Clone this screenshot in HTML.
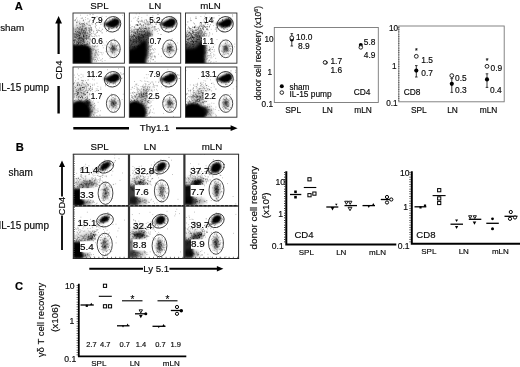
<!DOCTYPE html>
<html><head><meta charset="utf-8"><title>Figure</title>
<style>html,body{margin:0;padding:0;background:#fff;overflow:hidden}svg{display:block}</style>
</head><body>
<svg width="520" height="367" viewBox="0 0 520 367" font-family='"Liberation Sans", Arial, sans-serif'>
<defs>
<filter id="b1" x="-50%" y="-50%" width="200%" height="200%"><feGaussianBlur stdDeviation="0.8"/></filter>
<filter id="b1h" x="-50%" y="-50%" width="200%" height="200%"><feGaussianBlur stdDeviation="1.2"/></filter>
<filter id="b2" x="-50%" y="-50%" width="200%" height="200%"><feGaussianBlur stdDeviation="1.6"/></filter>
<filter id="b3" x="-50%" y="-50%" width="200%" height="200%"><feGaussianBlur stdDeviation="3"/></filter>
<filter id="b5" x="-50%" y="-50%" width="200%" height="200%"><feGaussianBlur stdDeviation="5"/></filter>
<filter id="soft" x="-5%" y="-5%" width="110%" height="110%"><feGaussianBlur stdDeviation="0.35"/></filter>
</defs>
<rect width="520" height="367" fill="#fff"/>
<text x="14.8" y="9.6" font-size="11.2" text-anchor="start" font-weight="bold" fill="#000" stroke="#000" stroke-width="0.16">A</text>
<text x="0.2" y="31" font-size="9.8" text-anchor="start" fill="#0a0a0a" stroke="#0a0a0a" stroke-width="0.16">sham</text>
<text x="-1.6" y="90.6" font-size="10" text-anchor="start" fill="#0a0a0a" stroke="#0a0a0a" stroke-width="0.16">IL-15 pump</text>
<text x="99.5" y="9" font-size="9.7" text-anchor="middle" fill="#0a0a0a" stroke="#0a0a0a" stroke-width="0.16">SPL</text>
<text x="155" y="9" font-size="9.7" text-anchor="middle" fill="#0a0a0a" stroke="#0a0a0a" stroke-width="0.16">LN</text>
<text x="210.5" y="9" font-size="9.7" text-anchor="middle" fill="#0a0a0a" stroke="#0a0a0a" stroke-width="0.16">mLN</text>
<path d="M58.6 54V22" stroke="#000" stroke-width="2.2" fill="none"/>
<path d="M58.6 16l-3.4 7.5h6.8z" fill="#000"/>
<text transform="translate(62.3 70) rotate(-90)" font-size="9.6" text-anchor="middle" fill="#0a0a0a" stroke="#0a0a0a" stroke-width="0.16">CD4</text>
<path d="M58.6 86V113.5" stroke="#000" stroke-width="2.4" fill="none"/>
<path d="M73.3 128.2H129" stroke="#000" stroke-width="2.5" fill="none"/>
<text x="154.6" y="130.9" font-size="9.7" text-anchor="middle" fill="#0a0a0a" stroke="#0a0a0a" stroke-width="0.16">Thy1.1</text>
<path d="M176 128.2H231.5" stroke="#000" stroke-width="1.9" fill="none"/>
<path d="M237.6 128.2l-7-2.9v5.8z" fill="#000"/>
<clipPath id="c1"><rect x="73.0" y="13.0" width="51.400000000000006" height="50.2"/></clipPath>
<g clip-path="url(#c1)">
<polygon points="69.0,67.2 69.0,44.6 86.5,44.6 91.3,48.2 91.8,67.2" fill="#000" fill-opacity="1.0" filter="url(#b1h)"/>
<ellipse cx="80.0" cy="36.2" rx="8" ry="11" transform="rotate(15 80.0 36.2)" fill="#000" fill-opacity="0.42" filter="url(#b3)"/>
<ellipse cx="91.0" cy="53.2" rx="4" ry="8" transform="rotate(0 91.0 53.2)" fill="#000" fill-opacity="0.3" filter="url(#b3)"/>
<polygon points="103.1,23.7 106.6,22.6 110.1,20.5 115.1,18.5 118.39999999999999,18.9 119.6,21.7 118.0,25.2 114.39999999999999,27.5 109.6,27.5 106.39999999999999,25.8" fill="#000" fill-opacity="1.0" filter="url(#b1)"/>
<ellipse cx="115.19999999999999" cy="22.8" rx="3.6" ry="2.9" transform="rotate(-22 115.19999999999999 22.8)" fill="#000" fill-opacity="1.0" filter="url(#b1)"/>
<ellipse cx="113.3" cy="48.3" rx="1.5" ry="2.0" transform="rotate(0 113.3 48.3)" fill="#000" fill-opacity="0.85" filter="url(#b1)"/>
<ellipse cx="113.3" cy="48.8" rx="3.6" ry="4.8" transform="rotate(0 113.3 48.8)" fill="#000" fill-opacity="0.36" filter="url(#b2)"/>
<path d="M89.3 20.6h0.8M105.8 16.6h0.8M100.0 31.4h0.8M75.9 38.5h0.8M74.9 34.8h0.8M76.5 17.6h0.8M94.4 54.5h0.8M79.2 24.2h0.8M104.6 60.6h0.8M102.1 32.9h0.8M122.2 15.3h0.8M116.3 27.5h0.8M98.0 22.5h0.8M86.5 33.4h0.8M99.4 30.7h0.8M89.9 25.8h0.8M85.8 35.2h0.8M78.6 54.4h0.8M85.1 17.5h0.8M91.2 30.8h0.8M91.1 36.0h0.8M73.4 40.3h0.8M95.0 24.0h0.8M78.0 43.3h0.8M101.1 30.9h0.8M98.0 51.5h0.8M78.9 32.3h0.8M92.6 37.1h0.8M89.4 35.8h0.8M74.9 39.5h0.8M83.8 41.2h0.8M84.7 35.1h0.8M88.0 45.0h0.8M95.2 26.1h0.8M89.2 25.5h0.8M89.9 40.7h0.8M96.1 25.4h0.8M86.3 37.1h0.8M74.4 42.1h0.8M82.4 41.1h0.8M87.5 37.1h0.8M85.7 44.6h0.8M81.1 31.7h0.8M82.7 20.8h0.8M80.6 38.1h0.8M91.9 30.1h0.8M85.5 28.7h0.8M95.8 46.8h0.8M91.3 56.7h0.8M81.1 38.2h0.8M92.0 42.4h0.8M94.3 38.7h0.8M102.7 52.9h0.8M88.7 36.3h0.8M94.9 33.9h0.8M93.4 18.1h0.8M90.7 28.6h0.8M102.9 47.8h0.8M84.8 33.2h0.8M78.3 30.9h0.8M84.0 43.0h0.8M86.6 35.6h0.8M88.8 43.1h0.8M89.2 31.9h0.8M90.5 31.0h0.8M83.6 51.7h0.8M85.3 25.6h0.8M96.0 33.0h0.8M81.1 54.8h0.8M92.6 40.6h0.8M86.9 33.1h0.8M78.3 49.7h0.8M84.9 32.8h0.8M89.1 34.2h0.8M89.6 29.3h0.8M76.1 18.7h0.8M85.7 42.4h0.8M94.8 26.3h0.8M92.2 48.1h0.8M86.8 42.4h0.8M99.3 28.0h0.8M92.4 24.1h0.8M87.3 33.7h0.8M92.0 43.5h0.8M101.6 19.3h0.8M83.8 41.7h0.8M80.0 43.8h0.8M89.2 30.5h0.8M83.2 20.7h0.8M85.0 19.7h0.8M78.1 34.0h0.8M86.7 43.7h0.8M84.8 31.7h0.8M97.4 45.1h0.8M87.7 38.0h0.8M96.9 31.7h0.8M87.2 60.4h0.8M87.6 38.6h0.8M96.5 36.1h0.8M79.1 28.2h0.8M91.5 42.8h0.8M77.1 20.2h0.8M82.0 33.0h0.8M86.4 27.7h0.8M77.4 36.1h0.8M82.6 30.2h0.8M89.5 41.0h0.8M102.9 43.2h0.8M78.0 35.5h0.8M75.2 61.2h0.8M80.2 38.2h0.8M84.0 22.3h0.8M89.5 32.9h0.8M73.1 45.7h0.8M86.9 15.3h0.8M93.2 33.2h0.8M91.7 36.5h0.8M95.2 27.6h0.8M91.0 28.1h0.8M88.0 25.6h0.8M92.9 49.2h0.8M88.8 32.0h0.8M73.5 34.2h0.8M91.7 41.7h0.8M91.7 37.4h0.8M91.8 45.9h0.8M80.5 32.7h0.8M93.2 31.7h0.8M81.2 32.0h0.8M86.8 41.2h0.8M83.3 24.2h0.8M90.1 34.7h0.8M81.7 45.7h0.8M82.3 33.8h0.8M98.1 41.9h0.8M82.6 41.7h0.8M89.6 57.2h0.8M87.5 46.7h0.8M84.6 44.4h0.8M84.9 41.1h0.8M82.3 30.4h0.8M103.1 26.1h0.8M77.0 49.3h0.8M77.8 51.9h0.8M82.1 38.9h0.8M96.4 30.4h0.8M98.5 35.6h0.8M83.5 45.6h0.8M92.8 38.0h0.8M96.3 36.9h0.8M89.5 38.3h0.8M101.6 16.3h0.8M83.6 37.0h0.8M90.9 27.8h0.8M91.4 23.9h0.8M85.7 29.9h0.8M84.1 29.1h0.8M78.5 50.9h0.8M85.9 29.5h0.8M92.0 42.0h0.8M77.9 38.7h0.8M92.6 36.9h0.8M73.9 20.3h0.8M97.2 32.2h0.8M84.8 33.0h0.8M86.1 30.7h0.8M74.7 34.0h0.8M78.6 33.1h0.8M79.8 45.4h0.8M78.8 46.2h0.8M79.7 42.5h0.8M97.6 30.6h0.8M80.5 38.9h0.8M79.4 21.0h0.8M82.0 39.2h0.8M82.7 37.9h0.8M95.2 37.9h0.8M95.7 35.7h0.8M83.7 36.4h0.8M82.5 34.0h0.8M76.8 22.6h0.8M83.3 36.5h0.8M78.3 39.4h0.8M89.3 31.6h0.8M76.2 21.9h0.8M105.6 51.5h0.8M88.7 30.5h0.8M80.2 15.2h0.8M94.3 34.3h0.8M83.5 30.5h0.8M88.8 28.5h0.8M85.4 30.2h0.8M91.0 40.2h0.8M79.0 38.9h0.8M91.5 33.6h0.8M104.6 45.1h0.8M99.6 43.3h0.8M96.9 37.4h0.8M78.0 32.4h0.8M88.8 24.1h0.8M114.1 39.0h0.8M77.4 32.6h0.8M84.4 28.3h0.8M95.9 28.7h0.8M83.4 50.3h0.8M82.5 39.5h0.8M84.5 32.8h0.8M85.4 28.3h0.8M86.1 35.7h0.8M90.9 33.6h0.8M76.6 33.2h0.8M92.2 37.1h0.8M84.3 34.4h0.8M93.4 31.1h0.8M94.4 36.4h0.8M93.5 44.4h0.8M79.9 35.0h0.8M76.1 32.6h0.8M106.0 41.9h0.8M88.7 39.5h0.8M98.8 36.2h0.8M89.7 19.9h0.8M83.1 41.6h0.8M97.7 29.6h0.8M77.7 36.3h0.8M77.0 31.5h0.8M94.9 23.6h0.8M95.9 52.0h0.8M96.7 32.5h0.8M83.1 41.2h0.8M101.4 32.8h0.8M96.3 30.3h0.8M96.1 52.8h0.8M88.3 53.8h0.8M95.0 50.2h0.8M92.8 59.7h0.8M102.0 58.6h0.8M95.3 43.3h0.8M101.7 54.7h0.8M93.9 46.4h0.8M93.8 46.5h0.8M94.3 57.5h0.8M94.1 56.2h0.8M91.4 41.5h0.8M93.2 48.9h0.8M90.0 51.7h0.8M95.2 45.9h0.8M96.7 53.1h0.8M94.5 53.4h0.8M93.8 59.3h0.8M93.6 37.4h0.8M93.9 48.0h0.8M96.6 49.9h0.8M89.8 46.3h0.8M88.4 37.4h0.8M86.5 56.8h0.8M91.4 41.1h0.8M88.1 58.5h0.8M90.9 51.6h0.8M101.8 61.4h0.8M94.6 55.5h0.8M92.8 57.4h0.8M95.1 54.6h0.8M92.0 44.9h0.8M91.9 43.4h0.8M98.9 58.0h0.8M97.6 40.8h0.8M101.4 59.9h0.8M102.3 45.6h0.8M96.1 57.2h0.8M94.8 55.4h0.8M98.2 43.7h0.8M89.0 44.4h0.8M91.8 50.0h0.8M95.5 56.1h0.8M94.1 49.5h0.8M92.2 60.9h0.8M97.1 54.9h0.8M91.6 58.7h0.8M98.6 52.3h0.8M97.3 46.4h0.8M98.1 55.6h0.8M87.7 58.9h0.8M90.4 63.2h0.8M91.3 53.0h0.8M95.1 51.9h0.8M95.0 50.3h0.8M96.7 54.2h0.8M94.8 34.9h0.8M98.6 54.4h0.8M86.9 54.9h0.8M95.9 61.7h0.8M93.4 59.0h0.8M92.5 46.4h0.8M98.4 60.5h0.8M100.2 60.2h0.8M91.7 42.6h0.8M91.4 49.5h0.8M90.7 58.3h0.8M95.3 52.3h0.8M94.7 53.2h0.8M94.9 59.5h0.8M97.8 49.4h0.8M94.5 61.9h0.8M87.4 51.9h0.8M94.1 44.1h0.8M91.9 59.3h0.8M90.5 44.4h0.8M96.1 60.8h0.8M94.8 45.1h0.8M97.1 59.7h0.8M96.2 50.8h0.8M95.2 59.7h0.8M91.8 41.3h0.8M95.3 57.6h0.8M94.1 60.4h0.8M91.7 53.6h0.8M92.8 58.2h0.8M100.4 52.4h0.8M97.2 58.3h0.8M101.1 52.9h0.8M93.6 46.8h0.8M112.0 45.8h0.8M117.9 45.6h0.8M117.9 51.3h0.8M117.1 45.1h0.8M116.4 54.3h0.8M113.0 48.3h0.8M119.7 49.5h0.8M112.2 46.4h0.8M114.5 50.1h0.8M113.8 55.3h0.8M112.4 50.6h0.8M117.1 45.0h0.8M116.0 55.8h0.8M109.8 44.6h0.8M110.6 41.8h0.8M114.5 41.7h0.8M114.6 54.3h0.8M109.1 47.6h0.8M108.3 51.8h0.8M111.4 47.8h0.8M113.4 50.9h0.8M112.4 48.9h0.8M111.9 49.2h0.8M110.3 49.0h0.8M108.3 46.9h0.8M118.3 49.1h0.8M110.0 49.8h0.8M110.8 42.5h0.8M111.4 51.6h0.8M114.3 48.4h0.8M110.9 44.7h0.8M116.8 49.7h0.8M110.8 40.8h0.8M109.7 58.2h0.8M110.3 48.5h0.8M113.8 48.2h0.8M112.6 43.6h0.8M110.6 55.2h0.8M111.3 52.0h0.8M108.9 47.8h0.8M114.0 52.7h0.8M110.4 51.1h0.8M114.3 46.0h0.8M114.5 45.4h0.8M111.2 48.7h0.8M106.2 48.4h0.8M110.7 43.2h0.8M112.2 51.7h0.8M112.2 53.6h0.8M110.3 43.8h0.8M117.3 50.3h0.8M115.8 45.7h0.8M115.4 49.8h0.8M115.0 48.9h0.8M116.4 46.3h0.8M110.8 43.2h0.8M116.3 46.0h0.8M110.6 45.2h0.8M112.1 44.0h0.8M112.5 46.4h0.8M111.9 45.2h0.8M113.4 47.0h0.8M113.6 49.7h0.8M114.2 40.5h0.8M111.9 45.8h0.8M115.3 42.8h0.8M111.4 47.7h0.8M112.4 52.6h0.8M112.1 52.5h0.8M109.5 41.9h0.8M116.5 50.5h0.8M114.6 49.3h0.8M114.6 44.2h0.8M115.8 46.8h0.8M115.9 49.1h0.8M108.2 43.9h0.8M116.2 48.3h0.8M112.3 49.7h0.8M112.2 46.7h0.8M113.6 49.3h0.8" stroke="#000" stroke-width="0.8" stroke-opacity="0.36" fill="none"/>
<path d="M80.9 40.1h0.8M80.4 47.5h0.8M78.1 28.8h0.8M78.3 34.7h0.8M83.1 39.3h0.8M79.6 27.2h0.8M74.1 46.0h0.8M74.7 37.1h0.8M85.9 23.9h0.8M77.2 47.6h0.8M81.3 28.9h0.8M83.0 36.4h0.8M81.7 45.5h0.8M87.5 41.6h0.8M83.7 25.1h0.8M85.0 31.8h0.8M80.3 24.5h0.8M75.6 30.1h0.8M92.2 20.5h0.8M87.0 43.5h0.8M83.8 30.4h0.8M86.0 39.3h0.8M80.4 40.4h0.8M87.8 44.1h0.8M81.7 41.8h0.8M84.3 42.3h0.8M89.1 21.8h0.8M76.6 44.8h0.8M83.5 35.8h0.8M80.4 42.4h0.8M78.0 46.3h0.8M77.1 31.6h0.8M86.0 38.1h0.8M89.5 34.6h0.8M79.8 33.4h0.8M90.5 29.5h0.8M90.3 27.1h0.8M74.0 40.5h0.8M84.5 45.4h0.8M81.7 38.0h0.8M79.5 41.4h0.8M78.3 38.3h0.8M83.3 37.1h0.8M83.1 42.3h0.8M90.9 42.1h0.8M78.4 32.3h0.8M77.8 44.2h0.8M77.2 39.0h0.8M96.6 16.8h0.8M81.8 38.9h0.8M76.0 41.2h0.8M82.9 32.1h0.8M93.3 43.1h0.8M77.0 34.5h0.8M78.8 35.3h0.8M88.6 27.6h0.8M77.4 44.4h0.8M81.5 50.5h0.8M76.6 41.1h0.8M92.6 14.6h0.8M89.7 25.3h0.8M87.4 24.3h0.8M78.2 46.9h0.8M78.7 37.6h0.8M84.3 38.7h0.8M75.9 49.4h0.8M86.8 35.3h0.8M98.6 30.5h0.8M85.9 35.3h0.8M79.1 42.5h0.8M79.8 42.1h0.8M74.7 20.7h0.8M85.8 28.8h0.8M77.5 21.8h0.8M85.6 44.7h0.8M90.7 30.3h0.8M82.7 26.3h0.8M80.7 51.2h0.8M86.1 36.2h0.8M80.8 30.8h0.8M81.4 40.4h0.8M91.1 29.7h0.8M83.1 50.9h0.8M88.8 36.9h0.8M73.3 43.9h0.8M80.4 37.5h0.8M88.9 36.1h0.8M83.3 31.4h0.8M78.0 43.4h0.8M77.4 47.9h0.8M77.2 45.1h0.8M84.9 52.5h0.8M74.1 42.8h0.8M79.0 35.7h0.8M76.0 37.3h0.8M90.3 39.4h0.8M80.7 45.7h0.8M81.8 24.9h0.8M74.3 44.7h0.8M84.0 44.7h0.8M78.2 43.2h0.8M83.7 26.2h0.8M86.7 32.7h0.8M76.6 28.1h0.8M80.8 18.3h0.8M84.8 34.9h0.8M82.8 32.7h0.8M82.8 43.9h0.8M83.1 40.1h0.8M86.2 44.0h0.8M87.5 18.8h0.8M82.1 49.0h0.8M79.4 31.7h0.8M95.3 23.9h0.8M77.1 58.0h0.8M73.0 40.8h0.8M91.2 38.1h0.8M81.2 44.9h0.8M75.0 34.0h0.8M79.8 43.8h0.8M80.3 34.4h0.8M74.9 31.5h0.8M84.9 38.5h0.8M77.0 27.6h0.8M92.8 50.3h0.8M89.7 14.6h0.8M82.5 41.3h0.8M88.8 42.5h0.8M78.4 40.6h0.8M83.5 30.6h0.8M83.5 54.0h0.8M73.4 28.2h0.8M81.3 38.2h0.8M80.0 27.1h0.8M89.9 48.5h0.8M76.2 22.7h0.8M87.6 47.4h0.8M88.7 46.1h0.8M74.3 37.1h0.8M78.4 40.7h0.8M76.1 34.0h0.8M81.8 40.2h0.8M83.2 39.0h0.8M76.3 42.6h0.8M82.2 29.1h0.8M76.4 35.2h0.8M79.0 37.4h0.8M79.6 37.7h0.8M82.2 25.1h0.8M80.0 46.0h0.8M83.0 35.2h0.8M84.8 28.5h0.8M81.0 23.7h0.8M74.4 39.5h0.8M82.5 38.5h0.8M87.0 44.6h0.8M78.5 41.4h0.8M87.3 47.2h0.8M88.5 28.4h0.8M77.4 42.3h0.8M75.8 45.0h0.8M81.3 45.0h0.8M87.7 36.3h0.8M74.5 58.9h0.8M76.0 43.3h0.8M85.7 37.8h0.8M79.5 46.6h0.8M84.5 37.6h0.8M83.7 42.2h0.8M81.1 37.0h0.8M77.0 41.8h0.8M75.4 29.1h0.8M83.4 23.5h0.8M82.2 18.1h0.8M74.7 40.1h0.8M83.4 36.6h0.8M82.0 23.5h0.8M89.4 43.5h0.8M88.4 30.2h0.8M83.2 20.1h0.8M82.3 45.5h0.8M87.8 21.9h0.8M79.6 23.0h0.8M79.6 38.4h0.8M82.0 43.3h0.8M86.0 48.7h0.8M73.6 29.8h0.8M76.4 25.2h0.8M79.5 36.1h0.8M86.5 23.2h0.8M79.6 33.2h0.8M81.4 29.5h0.8M83.2 40.4h0.8M81.1 30.2h0.8M74.2 35.0h0.8M84.1 24.5h0.8M79.3 33.1h0.8M81.2 42.2h0.8M81.8 28.7h0.8M79.3 35.4h0.8M83.6 39.9h0.8M79.0 23.3h0.8M79.6 29.2h0.8M73.8 33.5h0.8M76.9 36.4h0.8M84.0 33.4h0.8M94.2 37.0h0.8M86.1 39.0h0.8M92.0 17.3h0.8M75.1 37.2h0.8M78.0 57.4h0.8M78.9 47.8h0.8M82.2 45.6h0.8M83.3 35.6h0.8M85.5 27.6h0.8M89.2 29.2h0.8M76.5 55.0h0.8M78.7 36.0h0.8M86.7 38.2h0.8M74.7 37.2h0.8M81.7 43.3h0.8M89.6 38.9h0.8M82.6 32.9h0.8M89.8 32.3h0.8M85.0 33.1h0.8M74.3 41.4h0.8M87.8 38.2h0.8M74.2 42.2h0.8M79.0 38.8h0.8M86.2 48.4h0.8M78.2 43.0h0.8M76.4 34.8h0.8M90.7 27.8h0.8M75.1 19.8h0.8M87.9 34.0h0.8M80.4 33.4h0.8M81.8 26.6h0.8M83.5 23.7h0.8M78.9 38.8h0.8M83.2 34.9h0.8M74.4 36.2h0.8M73.5 49.1h0.8M84.7 36.4h0.8M78.9 29.4h0.8M75.4 31.7h0.8M80.5 41.1h0.8M78.4 55.3h0.8M75.9 35.2h0.8M100.5 24.3h0.8M76.6 36.9h0.8M79.9 40.0h0.8M77.8 39.0h0.8M78.5 43.0h0.8M82.4 27.2h0.8M74.8 40.7h0.8M83.6 40.0h0.8M83.2 36.1h0.8M83.9 32.3h0.8M77.7 42.6h0.8M73.4 40.4h0.8M116.7 26.6h0.8M115.9 24.0h0.8M112.5 24.6h0.8M108.4 29.3h0.8M110.0 21.5h0.8M108.9 22.9h0.8M118.0 25.1h0.8M108.5 28.9h0.8M116.1 20.6h0.8M105.9 24.5h0.8M110.9 25.9h0.8M109.1 18.9h0.8M112.2 19.2h0.8M115.4 18.8h0.8M109.1 22.8h0.8M112.4 28.4h0.8M117.4 23.9h0.8M112.6 19.0h0.8M110.2 23.3h0.8M109.6 27.0h0.8M109.1 23.2h0.8M106.2 20.1h0.8M117.2 26.3h0.8M112.6 20.8h0.8M101.9 29.3h0.8M118.6 22.3h0.8M118.8 26.1h0.8M117.3 20.5h0.8M118.5 24.0h0.8M106.1 25.6h0.8M107.0 26.2h0.8M114.2 19.8h0.8M106.0 31.2h0.8M116.5 27.1h0.8M108.8 29.2h0.8M112.5 24.9h0.8M113.7 26.8h0.8M117.6 22.1h0.8M108.3 28.4h0.8M111.9 26.4h0.8M116.2 27.8h0.8M117.3 20.4h0.8M116.7 28.0h0.8M111.4 26.0h0.8M119.6 25.0h0.8M113.7 19.2h0.8M108.1 26.8h0.8M117.8 30.1h0.8M110.9 28.5h0.8M114.3 17.8h0.8M109.9 25.8h0.8M110.8 24.3h0.8M114.1 20.7h0.8M114.3 21.2h0.8M111.5 26.3h0.8M111.0 25.7h0.8M119.9 20.9h0.8M113.4 26.1h0.8M112.9 27.5h0.8M108.5 27.9h0.8" stroke="#000" stroke-width="0.8" stroke-opacity="0.6" fill="none"/>
</g>
<text x="102.6" y="22.7" font-size="8.2" text-anchor="end" fill="#000" stroke="#000" stroke-width="0.16">7.9</text>
<rect x="90.8" y="36.7" width="12.6" height="8.2" fill="#fff"/>
<text x="102.8" y="43.6" font-size="8.2" text-anchor="end" fill="#000" stroke="#000" stroke-width="0.16">0.6</text>
<ellipse cx="112.6" cy="24.3" rx="8.3" ry="7.6" transform="rotate(-25 112.6 24.3)" fill="none" stroke="#222" stroke-width="0.8"/>
<ellipse cx="113.3" cy="48.8" rx="6.9" ry="8.9" transform="rotate(0 113.3 48.8)" fill="none" stroke="#222" stroke-width="0.8"/>
<rect x="73.0" y="13.0" width="51.4" height="50.2" fill="none" stroke="#2a2a2a" stroke-width="0.9"/>
<clipPath id="c2"><rect x="129.3" y="13.0" width="51.400000000000006" height="50.2"/></clipPath>
<g clip-path="url(#c2)">
<polygon points="125.30000000000001,67.2 125.30000000000001,50.2 135.3,47.2 143.3,40.2 146.8,40.2 147.3,53.2 145.8,67.2" fill="#000" fill-opacity="1.0" filter="url(#b2)"/>
<polygon points="125.30000000000001,51.2 125.30000000000001,44.2 137.3,37.7 148.3,30.700000000000003 151.3,32.7 149.60000000000002,45.2 147.3,58.2" fill="#000" fill-opacity="0.62" filter="url(#b2)"/>
<polygon points="125.30000000000001,46.2 125.30000000000001,36.2 138.3,31.200000000000003 149.3,25.200000000000003 150.3,34.2" fill="#000" fill-opacity="0.42" filter="url(#b3)"/>
<polygon points="159.4,23.7 162.9,22.6 166.4,20.5 171.4,18.5 174.70000000000002,18.9 175.9,21.7 174.3,25.2 170.70000000000002,27.5 165.9,27.5 162.70000000000002,25.8" fill="#000" fill-opacity="1.0" filter="url(#b1)"/>
<ellipse cx="171.5" cy="22.8" rx="3.6" ry="2.9" transform="rotate(-22 171.5 22.8)" fill="#000" fill-opacity="1.0" filter="url(#b1)"/>
<ellipse cx="169.60000000000002" cy="48.3" rx="1.5" ry="2.0" transform="rotate(0 169.60000000000002 48.3)" fill="#000" fill-opacity="0.85" filter="url(#b1)"/>
<ellipse cx="169.60000000000002" cy="48.8" rx="3.6" ry="4.8" transform="rotate(0 169.60000000000002 48.8)" fill="#000" fill-opacity="0.36" filter="url(#b2)"/>
<path d="M129.5 47.3h0.8M135.4 61.5h0.8M133.7 56.7h0.8M135.8 13.9h0.8M165.6 25.2h0.8M166.3 22.4h0.8M131.8 51.9h0.8M165.3 55.9h0.8M166.1 17.2h0.8M161.0 48.6h0.8M152.5 59.8h0.8M142.1 61.4h0.8M131.0 31.3h0.8M132.6 44.6h0.8M133.2 30.1h0.8M138.7 24.7h0.8M132.9 32.7h0.8M157.4 28.7h0.8M129.8 25.1h0.8M140.7 30.7h0.8M143.5 32.8h0.8M140.3 39.2h0.8M145.5 27.7h0.8M133.0 32.4h0.8M138.3 21.8h0.8M133.6 29.4h0.8M130.8 44.7h0.8M138.3 32.6h0.8M137.8 18.6h0.8M139.2 34.2h0.8M139.4 21.0h0.8M144.6 28.6h0.8M153.7 29.1h0.8M152.4 39.7h0.8M136.3 30.0h0.8M131.4 29.6h0.8M139.7 35.0h0.8M144.0 23.8h0.8M145.6 19.5h0.8M151.6 25.1h0.8M132.7 42.1h0.8M140.7 27.9h0.8M137.1 30.5h0.8M143.5 39.3h0.8M147.4 21.4h0.8M131.9 36.0h0.8M146.4 28.1h0.8M135.7 37.9h0.8M139.2 36.2h0.8M142.2 35.7h0.8M129.8 38.9h0.8M143.0 24.6h0.8M142.9 46.7h0.8M149.0 32.0h0.8M138.9 46.6h0.8M149.7 34.1h0.8M130.9 21.2h0.8M145.5 30.9h0.8M137.5 37.8h0.8M145.3 28.7h0.8M149.0 36.5h0.8M135.6 36.1h0.8M139.2 40.8h0.8M137.5 37.2h0.8M139.6 31.6h0.8M150.3 20.6h0.8M152.3 27.2h0.8M147.0 22.8h0.8M148.4 30.0h0.8M135.1 37.5h0.8M137.2 32.9h0.8M144.4 20.2h0.8M132.1 31.9h0.8M141.0 34.9h0.8M152.3 22.4h0.8M138.3 25.5h0.8M148.6 35.3h0.8M139.1 13.7h0.8M151.8 34.4h0.8M137.5 19.4h0.8M138.8 37.1h0.8M137.6 25.5h0.8M136.3 42.8h0.8M135.2 48.0h0.8M139.8 33.6h0.8M136.6 20.4h0.8M129.8 40.3h0.8M145.0 32.8h0.8M134.7 33.6h0.8M134.0 30.8h0.8M140.8 31.4h0.8M134.9 37.5h0.8M137.9 31.9h0.8M138.4 16.5h0.8M135.3 25.3h0.8M142.8 41.7h0.8M130.1 38.7h0.8M138.3 40.7h0.8M140.4 27.1h0.8M140.9 39.7h0.8M130.3 36.0h0.8M141.2 33.3h0.8M139.3 40.7h0.8M152.5 15.8h0.8M146.8 21.4h0.8M137.8 29.6h0.8M141.3 41.2h0.8M144.9 23.1h0.8M131.4 32.1h0.8M137.9 48.9h0.8M143.6 28.5h0.8M130.2 30.3h0.8M151.2 27.6h0.8M136.0 43.3h0.8M133.3 42.5h0.8M129.6 36.3h0.8M143.8 31.2h0.8M141.8 21.5h0.8M155.6 28.8h0.8M140.3 34.6h0.8M132.1 36.4h0.8M145.8 37.6h0.8M148.7 30.2h0.8M134.7 33.4h0.8M136.9 35.5h0.8M136.1 29.5h0.8M149.7 21.0h0.8M154.8 28.0h0.8M136.6 37.4h0.8M146.1 22.2h0.8M136.4 28.8h0.8M137.1 30.1h0.8M143.4 36.7h0.8M148.8 23.9h0.8M143.6 35.2h0.8M131.5 28.8h0.8M142.0 20.4h0.8M140.6 21.4h0.8M146.7 15.2h0.8M151.1 34.2h0.8M138.1 45.8h0.8M146.6 31.1h0.8M136.5 31.0h0.8M134.3 33.2h0.8M158.1 28.4h0.8M132.5 31.0h0.8M145.9 35.0h0.8M138.2 21.7h0.8M140.1 31.9h0.8M153.9 28.9h0.8M147.5 34.9h0.8M142.4 42.4h0.8M137.0 36.9h0.8M140.7 21.7h0.8M139.2 30.9h0.8M138.2 36.8h0.8M137.7 30.3h0.8M151.8 35.9h0.8M130.9 30.4h0.8M134.4 36.5h0.8M138.6 24.1h0.8M140.8 20.7h0.8M146.1 29.0h0.8M151.3 40.0h0.8M135.7 33.1h0.8M145.6 33.4h0.8M130.0 42.2h0.8M135.8 40.1h0.8M148.3 23.7h0.8M138.4 33.8h0.8M143.0 29.4h0.8M132.2 31.1h0.8M142.5 39.4h0.8M143.6 39.6h0.8M140.2 30.4h0.8M141.4 17.7h0.8M137.3 39.0h0.8M133.4 18.2h0.8M146.1 19.9h0.8M141.6 44.3h0.8M132.1 26.5h0.8M130.5 32.7h0.8M129.6 37.0h0.8M146.1 28.3h0.8M141.0 55.0h0.8M131.8 39.1h0.8M141.9 35.8h0.8M138.0 36.6h0.8M153.8 19.2h0.8M132.1 40.8h0.8M130.9 35.5h0.8M141.2 32.7h0.8M140.1 38.3h0.8M131.1 26.9h0.8M142.9 24.7h0.8M144.0 21.1h0.8M143.8 30.1h0.8M136.6 46.4h0.8M148.3 27.7h0.8M140.9 25.4h0.8M139.2 33.4h0.8M144.5 33.0h0.8M133.7 30.0h0.8M136.1 37.9h0.8M132.9 32.1h0.8M134.7 33.1h0.8M134.9 17.3h0.8M138.3 36.5h0.8M147.2 35.0h0.8M141.1 20.2h0.8M141.3 26.4h0.8M139.5 45.0h0.8M148.2 46.6h0.8M148.9 46.6h0.8M153.7 56.1h0.8M155.0 56.4h0.8M148.2 61.3h0.8M148.1 49.6h0.8M149.7 53.5h0.8M154.3 48.5h0.8M151.5 53.0h0.8M146.1 44.8h0.8M149.6 56.3h0.8M151.4 56.9h0.8M150.5 49.7h0.8M151.7 45.5h0.8M145.8 50.6h0.8M145.5 49.2h0.8M147.8 48.9h0.8M150.1 47.0h0.8M148.9 40.0h0.8M150.8 46.4h0.8M151.7 31.4h0.8M147.6 55.1h0.8M142.1 50.4h0.8M150.6 54.0h0.8M145.3 55.0h0.8M150.8 45.7h0.8M152.8 52.8h0.8M150.4 49.7h0.8M152.1 54.0h0.8M154.1 56.7h0.8M148.2 51.5h0.8M153.4 50.4h0.8M151.6 57.2h0.8M149.7 35.2h0.8M150.7 54.9h0.8M150.8 47.3h0.8M154.4 52.2h0.8M148.2 47.7h0.8M151.5 44.8h0.8M154.7 61.4h0.8M154.9 57.8h0.8M144.6 62.4h0.8M154.5 57.0h0.8M143.7 62.8h0.8M154.9 49.4h0.8M150.7 59.2h0.8M150.0 61.7h0.8M150.6 58.6h0.8M150.6 41.7h0.8M152.2 48.6h0.8M150.4 38.3h0.8M149.7 60.2h0.8M143.0 54.7h0.8M147.2 48.1h0.8M143.9 45.3h0.8M151.8 49.4h0.8M157.8 33.6h0.8M150.1 54.9h0.8M158.0 54.2h0.8M152.0 56.0h0.8M149.7 50.0h0.8M148.8 37.0h0.8M151.2 52.9h0.8M149.9 51.1h0.8M147.8 53.0h0.8M148.8 54.8h0.8M160.9 56.3h0.8M153.2 59.6h0.8M152.7 59.6h0.8M148.6 53.2h0.8M147.8 60.7h0.8M153.1 49.6h0.8M154.5 44.5h0.8M150.0 58.1h0.8M150.2 56.2h0.8M154.3 55.8h0.8M146.6 58.8h0.8M150.0 54.1h0.8M148.4 42.4h0.8M146.1 50.4h0.8M146.7 32.0h0.8M154.2 44.2h0.8M147.8 57.3h0.8M147.7 58.3h0.8M148.7 55.6h0.8M150.7 53.2h0.8M144.1 41.7h0.8M148.4 57.3h0.8M150.9 57.0h0.8M153.7 41.5h0.8M173.0 49.6h0.8M166.8 49.8h0.8M171.0 45.5h0.8M164.2 50.1h0.8M166.8 50.4h0.8M164.8 48.3h0.8M167.6 43.3h0.8M169.0 49.4h0.8M168.2 44.4h0.8M170.1 42.3h0.8M171.0 50.6h0.8M173.8 52.1h0.8M170.5 49.8h0.8M169.7 43.9h0.8M173.3 50.7h0.8M168.9 44.6h0.8M173.4 50.8h0.8M166.6 51.3h0.8M174.4 48.7h0.8M170.6 47.3h0.8M168.0 52.8h0.8M177.4 49.2h0.8M169.3 51.7h0.8M168.8 51.5h0.8M171.7 45.0h0.8M166.9 48.5h0.8M171.7 49.8h0.8M172.7 43.7h0.8M170.8 46.5h0.8M169.9 50.0h0.8M167.2 48.0h0.8M166.7 49.8h0.8M167.5 47.0h0.8M170.2 46.4h0.8M172.5 46.5h0.8M171.7 49.8h0.8M167.0 48.0h0.8M167.5 47.5h0.8M168.9 55.5h0.8M168.5 54.6h0.8M170.7 44.0h0.8M163.8 51.3h0.8M164.6 51.4h0.8M172.2 50.2h0.8M169.1 47.9h0.8M170.3 47.7h0.8M168.3 47.4h0.8M172.5 46.5h0.8M170.6 44.6h0.8M167.8 43.7h0.8M169.1 51.3h0.8M170.4 47.0h0.8M171.1 47.5h0.8M170.5 49.8h0.8M171.0 39.7h0.8M166.3 51.6h0.8M169.3 57.1h0.8M169.0 46.8h0.8M173.4 50.8h0.8M174.4 50.7h0.8M169.1 51.5h0.8M167.6 47.2h0.8M168.2 48.0h0.8M171.6 47.0h0.8M170.4 47.0h0.8M171.8 38.7h0.8M169.1 49.4h0.8M166.9 52.5h0.8M170.1 53.5h0.8M172.0 51.2h0.8M169.2 44.8h0.8M169.0 47.1h0.8M170.2 47.1h0.8M177.3 42.9h0.8M172.6 47.1h0.8M169.0 52.2h0.8M169.6 44.3h0.8M170.6 48.1h0.8M164.4 49.5h0.8M166.9 46.1h0.8" stroke="#000" stroke-width="0.8" stroke-opacity="0.36" fill="none"/>
<path d="M136.6 36.9h0.8M148.5 28.0h0.8M137.3 34.7h0.8M137.8 46.8h0.8M150.5 36.9h0.8M134.8 39.7h0.8M134.0 46.7h0.8M150.2 35.1h0.8M134.0 47.5h0.8M129.5 39.2h0.8M131.3 50.3h0.8M147.6 24.0h0.8M130.5 41.0h0.8M159.3 24.2h0.8M136.3 46.1h0.8M150.3 23.7h0.8M130.5 39.9h0.8M132.8 48.4h0.8M136.9 32.4h0.8M143.1 32.0h0.8M130.7 47.4h0.8M137.2 24.5h0.8M152.5 26.8h0.8M136.7 25.2h0.8M130.8 40.7h0.8M140.4 24.6h0.8M136.7 40.1h0.8M146.4 39.7h0.8M141.2 31.6h0.8M132.9 42.2h0.8M142.5 43.7h0.8M135.8 31.3h0.8M152.0 30.4h0.8M135.6 33.8h0.8M141.4 28.1h0.8M141.1 37.8h0.8M146.9 38.0h0.8M134.3 46.5h0.8M132.3 46.4h0.8M139.4 36.9h0.8M144.4 30.7h0.8M148.5 33.0h0.8M136.4 34.2h0.8M129.9 40.3h0.8M135.7 38.5h0.8M161.6 19.6h0.8M140.1 28.9h0.8M131.0 40.8h0.8M135.3 32.1h0.8M147.4 24.3h0.8M137.5 21.3h0.8M138.2 38.3h0.8M140.7 38.2h0.8M139.9 35.9h0.8M138.9 34.4h0.8M156.8 31.3h0.8M141.2 42.4h0.8M130.8 37.2h0.8M133.8 41.6h0.8M157.6 14.5h0.8M138.6 37.9h0.8M140.2 40.9h0.8M146.3 20.7h0.8M137.6 35.1h0.8M134.8 29.1h0.8M141.8 34.4h0.8M129.9 27.9h0.8M132.0 36.9h0.8M144.3 34.6h0.8M138.9 39.3h0.8M133.1 41.5h0.8M139.5 39.0h0.8M136.3 37.1h0.8M134.1 35.7h0.8M155.6 24.2h0.8M148.2 42.8h0.8M142.5 22.0h0.8M145.3 35.7h0.8M155.7 29.5h0.8M139.1 27.7h0.8M131.7 44.0h0.8M137.6 30.0h0.8M133.1 38.3h0.8M138.9 38.0h0.8M131.0 34.5h0.8M151.9 34.8h0.8M139.9 41.7h0.8M142.8 36.7h0.8M138.3 31.1h0.8M144.9 37.1h0.8M137.2 50.5h0.8M158.9 30.0h0.8M154.6 26.6h0.8M132.8 37.2h0.8M131.6 43.1h0.8M139.3 39.9h0.8M130.0 59.3h0.8M154.1 21.9h0.8M143.9 34.4h0.8M138.6 34.6h0.8M133.6 35.0h0.8M138.5 35.9h0.8M136.8 31.9h0.8M137.8 37.1h0.8M138.2 29.2h0.8M143.7 38.0h0.8M140.5 31.8h0.8M132.9 39.6h0.8M147.9 38.1h0.8M134.0 35.9h0.8M140.8 35.4h0.8M138.8 40.4h0.8M136.9 29.3h0.8M139.3 37.8h0.8M133.1 34.2h0.8M135.7 36.4h0.8M137.0 31.8h0.8M139.8 23.7h0.8M136.0 38.4h0.8M142.4 28.5h0.8M139.5 31.4h0.8M148.6 38.7h0.8M135.8 41.5h0.8M133.7 47.0h0.8M146.4 29.2h0.8M130.2 46.3h0.8M149.5 33.6h0.8M137.2 25.0h0.8M137.0 47.0h0.8M132.0 49.6h0.8M153.8 27.4h0.8M144.5 28.5h0.8M135.7 38.4h0.8M142.0 32.0h0.8M140.1 37.5h0.8M143.4 44.1h0.8M140.9 34.6h0.8M133.7 36.3h0.8M147.8 28.8h0.8M134.8 36.5h0.8M141.5 25.6h0.8M141.4 34.4h0.8M138.3 39.7h0.8M135.0 41.3h0.8M146.6 35.8h0.8M135.2 35.1h0.8M138.3 22.2h0.8M133.6 45.0h0.8M138.7 29.0h0.8M135.4 32.8h0.8M140.7 40.2h0.8M135.8 24.5h0.8M137.1 25.4h0.8M147.1 31.1h0.8M152.0 19.9h0.8M140.8 41.1h0.8M130.2 38.9h0.8M134.3 39.4h0.8M130.9 46.2h0.8M141.6 33.8h0.8M148.8 24.6h0.8M145.2 26.4h0.8M136.4 25.0h0.8M138.2 35.2h0.8M131.6 38.2h0.8M132.3 36.8h0.8M131.5 38.9h0.8M142.3 31.0h0.8M138.2 45.5h0.8M147.6 34.1h0.8M144.8 28.3h0.8M140.1 42.2h0.8M132.8 40.5h0.8M141.4 36.1h0.8M138.5 42.7h0.8M138.4 41.1h0.8M147.5 32.5h0.8M138.9 28.0h0.8M145.9 39.6h0.8M137.6 41.6h0.8M142.8 40.2h0.8M133.0 47.1h0.8M144.4 31.2h0.8M139.0 31.9h0.8M142.2 52.2h0.8M139.2 46.6h0.8M139.8 37.0h0.8M140.2 29.3h0.8M145.4 32.5h0.8M142.9 35.2h0.8M147.7 25.1h0.8M143.6 36.6h0.8M134.6 47.7h0.8M137.5 29.7h0.8M130.9 31.9h0.8M134.0 32.5h0.8M134.7 29.2h0.8M139.7 33.2h0.8M137.6 36.5h0.8M133.8 31.4h0.8M133.8 27.0h0.8M129.6 40.0h0.8M130.5 45.5h0.8M133.5 35.1h0.8M132.7 46.8h0.8M134.4 43.8h0.8M134.3 27.2h0.8M142.5 37.8h0.8M146.7 35.7h0.8M133.8 38.9h0.8M141.6 30.4h0.8M139.8 24.2h0.8M141.6 32.2h0.8M139.7 35.2h0.8M145.8 24.0h0.8M131.3 36.4h0.8M134.6 46.7h0.8M133.1 54.1h0.8M129.6 36.8h0.8M145.0 34.0h0.8M132.1 47.0h0.8M144.8 28.7h0.8M129.3 47.8h0.8M144.0 31.0h0.8M143.0 37.3h0.8M150.2 23.9h0.8M133.6 40.3h0.8M143.1 25.6h0.8M137.8 18.3h0.8M141.0 29.4h0.8M143.0 36.7h0.8M141.1 37.8h0.8M131.5 59.5h0.8M135.1 37.7h0.8M129.3 50.7h0.8M138.1 46.1h0.8M143.7 31.6h0.8M139.0 28.2h0.8M133.0 37.2h0.8M141.0 43.5h0.8M141.8 35.9h0.8M135.9 35.2h0.8M142.2 35.2h0.8M138.6 36.4h0.8M135.2 33.2h0.8M132.8 35.2h0.8M142.4 37.2h0.8M154.6 30.2h0.8M129.8 40.9h0.8M131.3 44.6h0.8M154.4 26.6h0.8M129.4 47.8h0.8M138.3 38.3h0.8M147.8 22.2h0.8M137.6 50.2h0.8M137.2 32.0h0.8M141.0 40.6h0.8M133.9 35.6h0.8M138.2 49.2h0.8M139.6 39.3h0.8M136.0 41.8h0.8M142.9 31.2h0.8M133.3 39.6h0.8M129.4 42.9h0.8M135.8 40.0h0.8M151.6 33.1h0.8M136.0 42.4h0.8M142.0 38.1h0.8M138.3 38.0h0.8M131.2 37.4h0.8M148.1 36.2h0.8M143.7 34.4h0.8M137.8 33.7h0.8M136.9 33.8h0.8M134.4 48.4h0.8M129.8 55.8h0.8M150.0 41.7h0.8M131.9 41.9h0.8M134.1 41.2h0.8M133.2 35.8h0.8M142.7 27.1h0.8M135.4 42.7h0.8M131.9 39.2h0.8M138.7 33.5h0.8M141.4 45.0h0.8M132.4 48.1h0.8M130.3 41.1h0.8M135.8 40.4h0.8M149.6 37.9h0.8M137.0 46.4h0.8M147.4 33.6h0.8M134.7 45.6h0.8M137.7 39.2h0.8M137.5 41.5h0.8M149.4 33.9h0.8M139.1 42.3h0.8M145.0 24.0h0.8M143.8 22.4h0.8M143.3 35.8h0.8M149.3 28.3h0.8M170.3 22.8h0.8M167.1 22.1h0.8M165.0 22.5h0.8M167.9 32.5h0.8M176.4 20.7h0.8M171.3 19.8h0.8M155.8 24.0h0.8M171.7 27.4h0.8M168.0 21.2h0.8M167.2 21.6h0.8M163.4 25.7h0.8M166.8 22.4h0.8M164.7 22.9h0.8M172.0 27.1h0.8M171.2 30.2h0.8M163.1 27.5h0.8M164.5 25.5h0.8M170.5 25.1h0.8M173.4 20.3h0.8M164.1 25.6h0.8M169.8 21.4h0.8M175.1 26.7h0.8M164.0 27.4h0.8M171.3 16.8h0.8M170.0 22.8h0.8M165.1 29.9h0.8M169.7 22.1h0.8M172.0 24.7h0.8M173.2 23.9h0.8M169.7 19.9h0.8M167.8 24.9h0.8M160.6 34.5h0.8M166.6 21.7h0.8M162.2 27.8h0.8M168.8 22.2h0.8M166.6 22.2h0.8M166.2 24.9h0.8M167.6 26.8h0.8M169.0 24.4h0.8M172.6 26.5h0.8M172.1 23.3h0.8M167.8 21.9h0.8M168.8 26.2h0.8M169.9 22.4h0.8M162.1 22.1h0.8M171.9 26.0h0.8M169.3 19.5h0.8M168.8 24.8h0.8M166.1 26.4h0.8M167.6 21.9h0.8M165.3 28.2h0.8M169.8 20.8h0.8M166.3 28.0h0.8M171.5 21.9h0.8M175.6 20.1h0.8M166.4 28.6h0.8M169.0 25.1h0.8M168.4 21.1h0.8M164.3 25.4h0.8M174.0 18.6h0.8" stroke="#000" stroke-width="0.8" stroke-opacity="0.6" fill="none"/>
</g>
<text x="160.6" y="22.7" font-size="8.2" text-anchor="end" fill="#000" stroke="#000" stroke-width="0.16">5.2</text>
<rect x="149.2" y="36.7" width="12.6" height="8.2" fill="#fff"/>
<text x="161.2" y="43.6" font-size="8.2" text-anchor="end" fill="#000" stroke="#000" stroke-width="0.16">0.7</text>
<ellipse cx="168.9" cy="24.3" rx="8.3" ry="7.6" transform="rotate(-25 168.9 24.3)" fill="none" stroke="#222" stroke-width="0.8"/>
<ellipse cx="169.60000000000002" cy="48.8" rx="6.9" ry="8.9" transform="rotate(0 169.60000000000002 48.8)" fill="none" stroke="#222" stroke-width="0.8"/>
<rect x="129.3" y="13.0" width="51.4" height="50.2" fill="none" stroke="#2a2a2a" stroke-width="0.9"/>
<clipPath id="c3"><rect x="185.5" y="13.0" width="51.400000000000006" height="50.2"/></clipPath>
<g clip-path="url(#c3)">
<polygon points="181.5,67.2 181.5,48.7 194.5,47.7 200.5,42.7 205.0,44.2 205.8,67.2" fill="#000" fill-opacity="1.0" filter="url(#b2)"/>
<polygon points="181.5,51.2 181.5,44.2 194.5,42.2 203.0,36.7 206.5,41.2 206.0,55.2" fill="#000" fill-opacity="0.62" filter="url(#b2)"/>
<polygon points="181.5,49.2 181.5,37.2 193.5,34.2 202.5,31.200000000000003 204.5,39.2" fill="#000" fill-opacity="0.42" filter="url(#b3)"/>
<polygon points="215.6,23.7 219.1,22.6 222.6,20.5 227.6,18.5 230.9,18.9 232.1,21.7 230.5,25.2 226.9,27.5 222.1,27.5 218.9,25.8" fill="#000" fill-opacity="1.0" filter="url(#b1)"/>
<ellipse cx="227.7" cy="22.8" rx="3.6" ry="2.9" transform="rotate(-22 227.7 22.8)" fill="#000" fill-opacity="1.0" filter="url(#b1)"/>
<ellipse cx="225.8" cy="48.3" rx="1.5" ry="2.0" transform="rotate(0 225.8 48.3)" fill="#000" fill-opacity="0.85" filter="url(#b1)"/>
<ellipse cx="225.8" cy="48.8" rx="3.6" ry="4.8" transform="rotate(0 225.8 48.8)" fill="#000" fill-opacity="0.36" filter="url(#b2)"/>
<path d="M190.0 20.0h0.8M199.2 57.8h0.8M228.1 24.4h0.8M232.1 14.6h0.8M215.7 61.6h0.8M202.9 60.4h0.8M218.6 15.5h0.8M202.3 35.6h0.8M198.0 50.3h0.8M194.5 52.5h0.8M200.5 16.5h0.8M213.7 17.8h0.8M210.8 29.3h0.8M196.5 43.6h0.8M192.6 43.6h0.8M198.2 28.7h0.8M186.4 51.9h0.8M200.6 31.2h0.8M200.7 47.6h0.8M200.6 28.4h0.8M202.6 35.0h0.8M186.4 24.8h0.8M198.2 37.2h0.8M207.0 24.5h0.8M199.5 35.8h0.8M203.4 22.2h0.8M195.2 35.8h0.8M196.0 32.5h0.8M193.8 37.8h0.8M204.6 31.2h0.8M204.3 21.7h0.8M200.6 43.7h0.8M197.9 34.0h0.8M196.5 40.5h0.8M186.8 30.7h0.8M192.0 31.3h0.8M198.9 25.7h0.8M194.4 31.2h0.8M194.1 27.6h0.8M196.0 18.4h0.8M188.3 32.1h0.8M199.5 29.1h0.8M196.6 28.2h0.8M189.5 32.6h0.8M198.2 33.2h0.8M201.3 26.1h0.8M196.6 34.7h0.8M209.8 21.1h0.8M216.3 31.2h0.8M192.4 46.5h0.8M209.2 32.6h0.8M198.9 38.2h0.8M190.6 36.1h0.8M203.0 42.3h0.8M197.4 39.6h0.8M191.7 29.1h0.8M199.4 35.0h0.8M192.2 41.3h0.8M195.0 30.5h0.8M195.8 34.3h0.8M192.0 37.2h0.8M198.9 31.9h0.8M190.3 37.7h0.8M200.5 37.9h0.8M197.7 32.7h0.8M193.2 42.5h0.8M200.9 22.8h0.8M200.7 30.5h0.8M188.1 26.8h0.8M195.0 29.2h0.8M201.0 23.3h0.8M197.7 36.1h0.8M195.5 27.4h0.8M201.4 30.7h0.8M199.4 23.9h0.8M192.3 31.5h0.8M189.5 40.1h0.8M204.2 37.8h0.8M193.9 37.4h0.8M202.4 25.0h0.8M195.6 33.5h0.8M203.6 26.6h0.8M188.1 27.3h0.8M200.9 38.5h0.8M209.4 33.2h0.8M203.4 20.0h0.8M195.4 25.3h0.8M196.7 27.8h0.8M202.2 38.8h0.8M195.9 29.7h0.8M196.2 34.2h0.8M191.7 37.7h0.8M206.2 37.3h0.8M189.4 46.0h0.8M213.4 18.0h0.8M200.7 38.3h0.8M188.5 34.1h0.8M194.3 27.9h0.8M202.7 25.8h0.8M209.1 43.8h0.8M195.5 41.0h0.8M194.2 45.1h0.8M202.3 27.5h0.8M209.3 34.9h0.8M204.7 24.1h0.8M199.2 39.3h0.8M200.7 32.9h0.8M216.4 29.9h0.8M198.9 33.3h0.8M195.4 30.3h0.8M197.8 35.9h0.8M186.7 50.9h0.8M199.2 27.0h0.8M199.9 24.9h0.8M213.4 22.8h0.8M196.1 32.8h0.8M196.7 38.7h0.8M207.2 17.8h0.8M189.3 43.5h0.8M195.4 18.5h0.8M201.0 32.1h0.8M190.0 18.1h0.8M198.5 28.1h0.8M213.2 25.6h0.8M189.0 35.6h0.8M189.1 31.3h0.8M199.6 37.6h0.8M208.9 27.2h0.8M203.2 26.0h0.8M189.3 33.1h0.8M205.0 19.5h0.8M200.3 37.9h0.8M198.6 27.9h0.8M196.9 27.0h0.8M189.4 28.9h0.8M200.6 32.5h0.8M199.4 36.0h0.8M199.0 30.3h0.8M190.8 42.0h0.8M206.1 28.6h0.8M201.4 22.6h0.8M193.1 46.0h0.8M191.4 38.3h0.8M193.2 34.6h0.8M190.0 32.2h0.8M190.3 54.6h0.8M187.1 22.0h0.8M206.2 37.8h0.8M196.1 38.6h0.8M193.2 22.9h0.8M195.6 16.6h0.8M188.7 35.1h0.8M204.2 25.6h0.8M189.9 29.9h0.8M195.4 32.8h0.8M206.2 35.5h0.8M200.0 28.5h0.8M200.7 42.4h0.8M195.9 31.8h0.8M214.8 29.4h0.8M198.1 28.9h0.8M194.8 42.8h0.8M195.6 41.1h0.8M189.3 38.9h0.8M198.1 31.3h0.8M197.9 33.6h0.8M201.7 43.3h0.8M189.4 29.3h0.8M189.9 37.7h0.8M200.5 22.6h0.8M199.4 30.5h0.8M187.6 30.7h0.8M190.1 30.5h0.8M190.3 20.7h0.8M206.2 29.7h0.8M205.6 37.0h0.8M191.1 20.6h0.8M196.9 35.1h0.8M200.0 33.0h0.8M190.3 34.7h0.8M188.2 33.6h0.8M199.0 39.0h0.8M207.7 24.3h0.8M199.4 36.4h0.8M200.2 35.9h0.8M188.4 32.5h0.8M200.2 33.7h0.8M187.7 21.9h0.8M192.4 27.3h0.8M196.6 45.1h0.8M206.3 27.0h0.8M197.3 32.3h0.8M190.0 36.8h0.8M204.3 16.3h0.8M190.4 38.3h0.8M204.8 31.6h0.8M186.9 38.8h0.8M187.0 28.7h0.8M192.9 30.3h0.8M203.1 29.4h0.8M189.2 38.7h0.8M189.0 32.3h0.8M195.8 41.8h0.8M192.6 42.3h0.8M205.3 13.9h0.8M190.4 33.9h0.8M186.2 44.4h0.8M195.4 34.9h0.8M209.5 17.3h0.8M204.0 32.3h0.8M187.2 34.3h0.8M209.0 26.7h0.8M209.0 46.8h0.8M211.5 57.8h0.8M211.2 56.0h0.8M208.7 50.5h0.8M209.6 55.9h0.8M210.7 61.6h0.8M209.6 50.5h0.8M205.7 57.1h0.8M210.4 57.9h0.8M210.2 53.6h0.8M214.4 44.7h0.8M199.9 57.2h0.8M206.2 50.7h0.8M203.1 56.6h0.8M208.3 50.5h0.8M213.5 62.2h0.8M207.1 58.7h0.8M208.4 62.1h0.8M210.5 54.0h0.8M210.4 49.3h0.8M207.3 58.0h0.8M202.8 60.6h0.8M211.5 47.3h0.8M214.4 55.0h0.8M202.6 44.9h0.8M211.5 52.4h0.8M212.3 43.7h0.8M208.2 60.8h0.8M206.2 58.8h0.8M207.3 56.5h0.8M204.3 59.5h0.8M213.0 46.6h0.8M212.1 34.0h0.8M207.7 42.6h0.8M209.5 49.3h0.8M206.6 48.5h0.8M209.5 51.0h0.8M205.4 52.7h0.8M209.9 48.4h0.8M212.3 42.9h0.8M209.9 51.6h0.8M213.9 49.8h0.8M206.2 45.1h0.8M215.3 58.4h0.8M204.8 51.9h0.8M209.9 40.4h0.8M209.2 60.4h0.8M208.5 57.4h0.8M208.1 55.6h0.8M209.2 49.4h0.8M209.7 55.3h0.8M208.4 49.6h0.8M205.1 55.9h0.8M211.3 37.8h0.8M211.6 49.4h0.8M213.1 47.5h0.8M207.0 52.7h0.8M202.9 47.3h0.8M204.5 53.3h0.8M202.3 61.4h0.8M207.3 50.1h0.8M206.3 59.3h0.8M213.7 51.4h0.8M213.1 56.2h0.8M203.4 58.8h0.8M207.1 55.5h0.8M202.1 52.3h0.8M209.3 47.8h0.8M209.3 49.5h0.8M216.6 39.5h0.8M205.4 57.0h0.8M206.5 38.6h0.8M209.4 59.9h0.8M210.2 62.3h0.8M203.3 54.2h0.8M213.0 54.2h0.8M209.1 49.9h0.8M212.2 49.5h0.8M208.9 40.1h0.8M208.7 55.7h0.8M229.2 46.5h0.8M223.5 49.3h0.8M223.1 52.2h0.8M226.3 45.9h0.8M224.0 51.5h0.8M222.1 55.2h0.8M223.8 48.1h0.8M223.4 54.9h0.8M227.9 53.7h0.8M227.5 49.1h0.8M230.2 51.3h0.8M226.9 51.0h0.8M227.7 49.9h0.8M225.4 42.8h0.8M231.1 43.9h0.8M220.2 46.1h0.8M230.8 53.4h0.8M224.2 49.8h0.8M225.7 41.3h0.8M224.9 49.9h0.8M228.8 44.2h0.8M220.0 42.8h0.8M226.7 49.1h0.8M226.2 49.4h0.8M224.8 43.6h0.8M227.0 50.3h0.8M227.3 53.5h0.8M222.6 39.9h0.8M221.2 56.9h0.8M223.4 50.3h0.8M225.8 51.6h0.8M234.1 46.8h0.8M225.4 46.5h0.8M226.4 50.8h0.8M223.3 53.8h0.8M228.8 50.5h0.8M225.5 47.9h0.8M221.5 51.3h0.8M223.3 46.9h0.8M228.4 45.3h0.8M224.4 52.1h0.8M230.6 46.2h0.8M228.7 46.3h0.8M226.8 50.6h0.8M222.8 52.7h0.8M230.5 49.0h0.8M226.5 44.3h0.8M230.4 49.0h0.8M222.5 51.7h0.8M222.0 46.2h0.8M220.3 54.0h0.8M231.5 46.4h0.8M224.1 46.6h0.8M224.3 50.9h0.8M229.6 45.0h0.8M226.9 41.9h0.8M229.8 48.5h0.8M224.0 54.6h0.8M225.5 54.0h0.8M228.6 55.1h0.8M223.7 49.0h0.8M226.8 48.1h0.8M229.8 46.1h0.8M228.4 54.0h0.8M220.7 45.1h0.8M223.5 46.7h0.8M226.8 48.1h0.8M226.0 47.1h0.8M225.6 50.6h0.8M227.7 45.8h0.8M225.5 45.9h0.8M225.3 43.3h0.8M228.3 51.4h0.8M225.5 46.2h0.8M224.6 46.3h0.8M221.8 55.0h0.8M234.4 44.1h0.8M222.8 51.0h0.8M227.4 42.8h0.8M220.8 50.9h0.8" stroke="#000" stroke-width="0.8" stroke-opacity="0.36" fill="none"/>
<path d="M202.2 32.1h0.8M204.2 34.2h0.8M202.7 36.5h0.8M192.2 44.6h0.8M189.7 38.2h0.8M208.2 39.0h0.8M192.8 50.1h0.8M196.1 30.3h0.8M196.5 37.9h0.8M194.8 34.7h0.8M201.6 36.0h0.8M201.3 38.3h0.8M187.0 43.8h0.8M198.9 39.8h0.8M196.2 39.2h0.8M201.1 44.9h0.8M210.2 24.7h0.8M200.5 43.0h0.8M198.6 37.9h0.8M200.7 33.0h0.8M187.7 42.8h0.8M194.8 35.3h0.8M188.0 40.8h0.8M191.8 37.4h0.8M198.3 43.0h0.8M195.3 36.3h0.8M193.1 32.9h0.8M192.8 31.9h0.8M194.1 37.2h0.8M198.7 31.0h0.8M191.9 41.2h0.8M199.3 43.9h0.8M190.1 37.8h0.8M193.0 41.7h0.8M197.2 39.3h0.8M192.6 55.1h0.8M205.2 27.4h0.8M186.2 45.8h0.8M189.0 27.8h0.8M188.8 32.8h0.8M200.9 40.5h0.8M195.3 26.8h0.8M205.3 33.4h0.8M192.8 42.1h0.8M202.2 28.2h0.8M191.6 36.3h0.8M194.0 23.8h0.8M199.5 26.5h0.8M194.2 27.0h0.8M185.5 41.5h0.8M193.6 27.6h0.8M195.3 32.4h0.8M200.5 29.9h0.8M196.1 34.8h0.8M203.9 26.5h0.8M199.7 45.4h0.8M196.2 40.2h0.8M189.4 43.2h0.8M188.1 50.5h0.8M191.4 30.3h0.8M202.9 25.2h0.8M191.9 41.2h0.8M192.5 46.7h0.8M194.5 27.0h0.8M201.4 31.3h0.8M196.9 35.5h0.8M192.9 32.2h0.8M193.1 42.5h0.8M190.8 50.9h0.8M187.5 39.8h0.8M199.4 35.7h0.8M187.9 36.3h0.8M204.3 35.4h0.8M207.1 29.2h0.8M198.1 39.0h0.8M198.8 31.8h0.8M202.7 43.9h0.8M189.7 46.5h0.8M200.1 30.1h0.8M197.7 34.1h0.8M193.7 34.5h0.8M193.3 38.3h0.8M208.0 39.6h0.8M196.6 41.7h0.8M202.8 34.8h0.8M195.6 30.1h0.8M187.9 54.1h0.8M198.2 27.8h0.8M204.0 33.1h0.8M190.9 48.1h0.8M186.7 39.5h0.8M197.9 29.9h0.8M188.4 56.7h0.8M207.6 30.0h0.8M186.1 37.0h0.8M198.5 26.9h0.8M192.6 37.2h0.8M193.5 41.5h0.8M204.9 23.8h0.8M202.5 37.2h0.8M191.2 39.3h0.8M188.3 49.8h0.8M188.0 38.9h0.8M191.2 34.7h0.8M185.8 43.2h0.8M202.4 28.8h0.8M192.2 29.9h0.8M186.8 56.0h0.8M186.0 35.0h0.8M194.8 41.0h0.8M192.2 33.4h0.8M201.7 37.0h0.8M195.0 34.1h0.8M191.2 36.2h0.8M193.7 40.1h0.8M194.7 43.4h0.8M208.5 21.2h0.8M198.4 39.2h0.8M196.9 33.6h0.8M193.6 44.6h0.8M199.2 36.4h0.8M190.4 45.1h0.8M198.0 32.9h0.8M204.7 42.2h0.8M193.7 41.5h0.8M190.1 33.7h0.8M190.9 35.1h0.8M189.5 53.3h0.8M187.6 42.5h0.8M188.1 39.3h0.8M192.8 36.9h0.8M193.7 30.3h0.8M190.2 53.9h0.8M195.5 41.4h0.8M202.9 33.3h0.8M188.7 32.4h0.8M186.3 51.1h0.8M199.7 36.3h0.8M191.2 33.6h0.8M201.7 26.7h0.8M192.7 44.6h0.8M192.7 33.0h0.8M205.1 40.3h0.8M199.8 37.1h0.8M201.2 34.1h0.8M188.8 47.4h0.8M198.0 47.0h0.8M190.4 28.6h0.8M203.4 37.5h0.8M189.8 33.6h0.8M200.7 23.1h0.8M186.8 31.8h0.8M204.4 36.1h0.8M186.5 35.7h0.8M194.3 39.9h0.8M195.1 41.3h0.8M195.5 39.4h0.8M192.5 33.0h0.8M191.5 37.6h0.8M194.1 32.6h0.8M203.0 29.8h0.8M199.0 37.4h0.8M201.6 33.6h0.8M207.2 29.0h0.8M198.7 36.6h0.8M187.1 39.5h0.8M193.1 46.2h0.8M201.7 42.5h0.8M202.9 42.1h0.8M192.6 31.2h0.8M206.0 29.2h0.8M202.0 32.0h0.8M191.9 40.7h0.8M186.0 41.5h0.8M202.2 43.8h0.8M205.4 27.1h0.8M198.6 32.2h0.8M196.0 35.8h0.8M190.2 41.7h0.8M188.0 36.0h0.8M193.0 42.4h0.8M190.6 44.0h0.8M202.4 40.5h0.8M186.0 44.2h0.8M201.8 40.7h0.8M197.7 39.4h0.8M203.5 27.3h0.8M205.3 22.7h0.8M186.4 34.0h0.8M198.6 35.4h0.8M207.4 26.8h0.8M187.2 34.5h0.8M196.1 42.2h0.8M202.4 38.3h0.8M199.1 32.9h0.8M198.1 35.2h0.8M190.4 52.4h0.8M192.5 32.1h0.8M197.0 37.0h0.8M204.9 37.6h0.8M200.5 25.6h0.8M196.9 37.5h0.8M197.3 39.8h0.8M209.0 26.2h0.8M200.2 31.3h0.8M189.5 35.2h0.8M192.4 27.2h0.8M194.6 38.0h0.8M199.8 41.2h0.8M193.2 39.1h0.8M194.0 27.4h0.8M191.8 40.2h0.8M197.2 29.5h0.8M200.1 34.8h0.8M197.3 39.6h0.8M197.1 31.3h0.8M203.3 34.8h0.8M198.2 37.1h0.8M186.2 47.2h0.8M191.6 40.8h0.8M192.0 37.3h0.8M187.5 44.9h0.8M199.0 43.0h0.8M187.3 36.7h0.8M208.4 36.2h0.8M190.8 39.2h0.8M204.7 47.8h0.8M197.7 41.1h0.8M190.4 28.8h0.8M196.7 36.0h0.8M204.5 26.5h0.8M195.8 36.6h0.8M202.1 45.9h0.8M200.3 41.9h0.8M200.1 28.2h0.8M196.8 32.7h0.8M194.8 38.1h0.8M192.1 36.3h0.8M203.0 27.9h0.8M203.8 40.2h0.8M201.1 38.2h0.8M206.4 33.9h0.8M200.2 22.6h0.8M206.7 26.5h0.8M196.0 37.0h0.8M187.4 42.1h0.8M193.1 39.1h0.8M192.7 37.4h0.8M194.0 27.0h0.8M190.6 41.7h0.8M189.0 38.6h0.8M191.3 41.6h0.8M201.2 30.0h0.8M192.9 41.1h0.8M194.0 35.2h0.8M191.8 44.0h0.8M191.9 35.8h0.8M193.2 37.7h0.8M197.2 36.4h0.8M186.1 36.4h0.8M185.7 44.3h0.8M188.3 47.9h0.8M186.3 32.8h0.8M201.1 24.7h0.8M192.3 37.6h0.8M207.6 40.1h0.8M185.6 49.1h0.8M196.2 41.4h0.8M192.5 44.0h0.8M201.5 35.1h0.8M202.6 28.8h0.8M201.5 26.3h0.8M195.5 18.0h0.8M190.9 35.1h0.8M197.0 42.0h0.8M198.6 34.2h0.8M199.9 22.5h0.8M193.1 48.7h0.8M188.8 28.5h0.8M191.8 31.7h0.8M216.6 27.7h0.8M232.3 16.0h0.8M215.7 27.7h0.8M223.2 24.2h0.8M218.8 22.5h0.8M221.3 27.8h0.8M226.4 26.1h0.8M221.9 27.3h0.8M223.9 24.8h0.8M229.5 22.2h0.8M222.2 20.0h0.8M226.8 25.8h0.8M222.9 24.8h0.8M216.7 23.5h0.8M228.8 26.5h0.8M222.3 19.9h0.8M222.2 20.3h0.8M226.8 29.5h0.8M226.6 22.8h0.8M229.4 20.9h0.8M227.2 23.7h0.8M225.7 19.0h0.8M229.6 24.9h0.8M213.0 20.7h0.8M223.7 29.5h0.8M226.5 25.6h0.8M228.9 25.2h0.8M222.3 23.4h0.8M227.9 24.7h0.8M228.4 23.7h0.8M224.9 27.7h0.8M228.8 25.8h0.8M216.3 31.2h0.8M215.8 28.9h0.8M223.0 25.3h0.8M223.3 23.8h0.8M226.8 24.4h0.8M219.3 18.4h0.8M223.0 26.7h0.8M222.6 26.5h0.8M222.9 21.9h0.8M232.4 26.1h0.8M225.1 23.9h0.8M228.0 18.4h0.8M223.3 28.5h0.8M228.7 20.8h0.8M222.8 26.2h0.8M219.2 25.0h0.8M221.7 17.6h0.8M229.0 24.8h0.8M228.3 17.9h0.8M219.3 24.0h0.8M222.7 31.8h0.8M221.2 24.8h0.8M227.0 24.7h0.8M230.3 18.2h0.8M229.4 22.6h0.8M220.9 26.4h0.8M221.7 30.8h0.8M223.8 27.9h0.8" stroke="#000" stroke-width="0.8" stroke-opacity="0.6" fill="none"/>
</g>
<text x="213.2" y="22.7" font-size="8.2" text-anchor="end" fill="#000" stroke="#000" stroke-width="0.16">14</text>
<rect x="202.0" y="36.7" width="12.6" height="8.2" fill="#fff"/>
<text x="214.0" y="43.6" font-size="8.2" text-anchor="end" fill="#000" stroke="#000" stroke-width="0.16">1.1</text>
<ellipse cx="225.1" cy="24.3" rx="8.3" ry="7.6" transform="rotate(-25 225.1 24.3)" fill="none" stroke="#222" stroke-width="0.8"/>
<ellipse cx="225.8" cy="48.8" rx="6.9" ry="8.9" transform="rotate(0 225.8 48.8)" fill="none" stroke="#222" stroke-width="0.8"/>
<rect x="185.5" y="13.0" width="51.4" height="50.2" fill="none" stroke="#2a2a2a" stroke-width="0.9"/>
<clipPath id="c4"><rect x="73.0" y="67.0" width="51.400000000000006" height="50.2"/></clipPath>
<g clip-path="url(#c4)">
<ellipse cx="79.5" cy="112.7" rx="11.3" ry="12.3" transform="rotate(0 79.5 112.7)" fill="#000" fill-opacity="1.0" filter="url(#b1h)"/>
<ellipse cx="87.5" cy="103.2" rx="3.2" ry="3.6" transform="rotate(-30 87.5 103.2)" fill="#000" fill-opacity="0.9" filter="url(#b1h)"/>
<ellipse cx="91.0" cy="110.2" rx="3.5" ry="6" transform="rotate(0 91.0 110.2)" fill="#000" fill-opacity="0.35" filter="url(#b2)"/>
<ellipse cx="80.0" cy="92.2" rx="7" ry="9" transform="rotate(10 80.0 92.2)" fill="#000" fill-opacity="0.2" filter="url(#b3)"/>
<polygon points="103.1,78.7 106.6,77.6 110.1,75.5 115.1,73.5 118.39999999999999,73.89999999999999 119.6,76.7 118.0,80.2 114.39999999999999,82.5 109.6,82.5 106.39999999999999,80.8" fill="#000" fill-opacity="1.0" filter="url(#b1)"/>
<ellipse cx="115.19999999999999" cy="77.8" rx="3.6" ry="2.9" transform="rotate(-22 115.19999999999999 77.8)" fill="#000" fill-opacity="1.0" filter="url(#b1)"/>
<ellipse cx="113.3" cy="103.0" rx="1.5" ry="2.0" transform="rotate(0 113.3 103.0)" fill="#000" fill-opacity="0.85" filter="url(#b1)"/>
<ellipse cx="113.3" cy="103.5" rx="3.6" ry="4.8" transform="rotate(0 113.3 103.5)" fill="#000" fill-opacity="0.36" filter="url(#b2)"/>
<path d="M93.2 114.7h0.8M96.8 73.0h0.8M110.8 74.3h0.8M107.2 69.7h0.8M122.8 94.2h0.8M110.3 73.6h0.8M105.1 85.9h0.8M85.6 107.9h0.8M74.7 91.0h0.8M77.4 109.7h0.8M118.0 68.7h0.8M96.4 90.5h0.8M75.1 80.8h0.8M96.8 90.8h0.8M83.7 86.8h0.8M83.8 94.1h0.8M81.2 104.3h0.8M79.7 104.0h0.8M88.9 115.5h0.8M83.5 91.7h0.8M96.8 94.9h0.8M87.8 79.6h0.8M97.7 102.3h0.8M81.7 87.4h0.8M78.9 102.8h0.8M86.2 90.5h0.8M79.7 108.3h0.8M90.5 88.6h0.8M92.2 79.1h0.8M87.6 80.3h0.8M93.8 85.0h0.8M91.9 84.3h0.8M90.5 99.8h0.8M77.5 94.5h0.8M80.3 100.7h0.8M78.3 89.7h0.8M86.1 101.6h0.8M76.1 93.8h0.8M79.8 87.5h0.8M77.6 92.0h0.8M80.7 77.6h0.8M82.1 80.5h0.8M91.1 110.4h0.8M76.5 93.3h0.8M85.1 100.2h0.8M74.9 77.4h0.8M89.2 99.5h0.8M82.0 98.3h0.8M80.0 105.1h0.8M81.4 85.7h0.8M90.7 105.5h0.8M73.8 83.0h0.8M84.7 94.3h0.8M83.4 93.3h0.8M92.0 85.5h0.8M83.7 84.8h0.8M83.4 95.3h0.8M82.7 76.7h0.8M77.0 94.4h0.8M86.4 101.3h0.8M73.9 75.1h0.8M87.8 74.2h0.8M77.9 97.2h0.8M83.7 115.1h0.8M87.4 95.1h0.8M87.5 111.1h0.8M85.9 83.7h0.8M88.2 73.5h0.8M80.5 95.2h0.8M82.1 82.7h0.8M100.4 99.3h0.8M78.1 96.9h0.8M77.9 89.3h0.8M91.8 89.6h0.8M83.5 92.4h0.8M78.9 104.7h0.8M82.4 104.3h0.8M79.2 88.6h0.8M95.8 88.8h0.8M77.5 88.4h0.8M94.3 105.4h0.8M87.4 86.2h0.8M73.5 88.6h0.8M83.9 93.6h0.8M83.0 103.8h0.8M74.6 87.8h0.8M89.2 93.9h0.8M84.0 100.4h0.8M78.4 108.9h0.8M106.4 101.7h0.8M91.0 107.5h0.8M88.5 102.3h0.8M83.1 93.4h0.8M82.6 75.0h0.8M87.7 106.3h0.8M91.9 91.5h0.8M89.7 102.4h0.8M80.7 74.3h0.8M76.0 91.3h0.8M83.7 87.0h0.8M88.3 105.6h0.8M92.9 93.7h0.8M84.3 91.7h0.8M87.5 92.3h0.8M81.0 99.8h0.8M77.7 93.1h0.8M77.8 82.5h0.8M88.3 89.0h0.8M75.0 93.7h0.8M78.1 107.1h0.8M94.0 106.6h0.8M81.9 98.7h0.8M74.1 86.7h0.8M84.6 94.9h0.8M90.1 86.4h0.8M95.2 96.3h0.8M76.9 92.1h0.8M82.4 108.1h0.8M82.6 100.2h0.8M90.1 86.6h0.8M81.4 95.4h0.8M74.3 82.7h0.8M77.8 96.7h0.8M90.8 105.5h0.8M78.9 104.1h0.8M89.6 90.4h0.8M93.9 84.0h0.8M76.8 83.8h0.8M79.4 94.0h0.8M93.0 100.1h0.8M79.8 85.8h0.8M80.2 88.5h0.8M79.3 89.1h0.8M77.3 93.1h0.8M79.7 91.2h0.8M74.1 96.2h0.8M90.3 95.1h0.8M76.4 83.1h0.8M78.3 90.3h0.8M81.1 100.1h0.8M96.6 83.2h0.8M80.8 88.7h0.8M82.0 90.3h0.8M99.1 75.4h0.8M80.8 84.9h0.8M85.1 85.9h0.8M85.0 80.6h0.8M100.4 87.2h0.8M77.0 82.8h0.8M85.7 85.7h0.8M87.8 84.6h0.8M91.2 90.0h0.8M87.1 91.6h0.8M80.2 89.2h0.8M89.5 95.9h0.8M87.8 111.0h0.8M93.1 77.1h0.8M91.9 87.7h0.8M83.3 84.0h0.8M93.8 79.9h0.8M81.2 85.4h0.8M102.2 96.4h0.8M85.4 86.6h0.8M78.1 83.2h0.8M82.6 81.4h0.8M97.5 108.9h0.8M86.6 105.8h0.8M84.7 84.6h0.8M78.5 84.1h0.8M87.0 96.7h0.8M90.1 86.4h0.8M74.9 93.8h0.8M97.3 89.0h0.8M77.2 74.1h0.8M82.4 96.9h0.8M81.1 105.0h0.8M77.2 85.5h0.8M79.4 92.0h0.8M89.7 83.8h0.8M92.5 102.6h0.8M80.2 106.6h0.8M90.4 93.2h0.8M75.7 86.0h0.8M79.8 101.5h0.8M88.9 99.5h0.8M97.5 86.5h0.8M89.5 107.3h0.8M73.0 91.0h0.8M80.1 89.1h0.8M82.5 83.9h0.8M88.5 76.8h0.8M75.4 99.9h0.8M94.2 108.1h0.8M94.9 112.9h0.8M90.0 109.0h0.8M90.5 111.4h0.8M93.9 116.4h0.8M93.5 115.5h0.8M88.3 107.7h0.8M85.3 108.9h0.8M100.0 110.7h0.8M92.3 110.8h0.8M92.5 101.5h0.8M89.6 108.2h0.8M92.6 104.2h0.8M91.6 104.9h0.8M87.5 105.4h0.8M89.2 114.2h0.8M96.6 112.6h0.8M91.3 106.0h0.8M86.6 106.1h0.8M97.4 116.0h0.8M92.8 107.8h0.8M92.0 111.7h0.8M92.0 111.7h0.8M89.3 109.5h0.8M90.8 115.5h0.8M87.7 116.8h0.8M91.7 106.3h0.8M92.1 110.0h0.8M91.2 111.7h0.8M90.0 99.3h0.8M94.4 109.1h0.8M97.7 111.5h0.8M85.1 116.5h0.8M89.6 112.4h0.8M99.6 115.6h0.8M88.2 108.7h0.8M86.5 113.2h0.8M93.9 103.2h0.8M93.6 114.7h0.8M94.8 105.3h0.8M89.6 102.7h0.8M87.6 111.1h0.8M92.1 116.9h0.8M92.9 107.4h0.8M92.6 109.1h0.8M88.5 103.1h0.8M94.2 103.6h0.8M94.0 112.9h0.8M90.7 99.8h0.8M89.2 101.9h0.8M95.7 110.1h0.8M89.9 116.4h0.8M91.0 111.9h0.8M90.6 104.9h0.8M92.8 104.2h0.8M85.9 106.1h0.8M96.2 115.7h0.8M99.5 115.0h0.8M97.5 110.7h0.8M90.5 112.0h0.8M114.9 104.2h0.8M115.8 102.6h0.8M111.1 105.2h0.8M111.9 97.6h0.8M111.8 100.4h0.8M110.5 101.6h0.8M115.7 112.1h0.8M117.7 102.1h0.8M116.2 103.3h0.8M114.3 101.1h0.8M113.1 97.5h0.8M117.9 100.8h0.8M114.8 101.4h0.8M114.0 99.3h0.8M112.3 106.9h0.8M114.8 96.5h0.8M115.5 98.8h0.8M114.0 105.4h0.8M111.7 102.4h0.8M112.7 105.0h0.8M115.6 108.5h0.8M114.1 110.8h0.8M110.9 110.0h0.8M112.6 106.3h0.8M113.0 103.9h0.8M111.0 105.0h0.8M118.5 104.1h0.8M113.2 103.6h0.8M115.1 102.8h0.8M113.3 104.3h0.8M116.6 107.0h0.8M110.6 101.3h0.8M113.4 106.6h0.8M115.8 102.8h0.8M118.7 103.0h0.8M116.9 108.7h0.8M117.4 104.3h0.8M114.8 98.0h0.8M108.8 101.4h0.8M115.1 107.4h0.8M113.0 107.3h0.8M114.8 109.1h0.8M109.2 100.6h0.8M110.9 99.8h0.8M117.5 100.2h0.8M111.2 102.1h0.8M115.6 101.9h0.8M115.2 105.5h0.8M111.7 95.0h0.8M111.0 99.1h0.8M117.5 101.0h0.8M110.6 104.9h0.8M113.4 100.2h0.8M116.1 106.9h0.8M114.0 100.8h0.8M111.1 96.2h0.8M114.3 105.0h0.8M111.0 103.7h0.8M121.7 99.5h0.8M109.0 105.8h0.8M112.2 101.8h0.8M114.9 103.1h0.8M115.8 105.4h0.8M116.3 104.0h0.8M107.8 108.5h0.8M109.0 107.3h0.8M113.9 98.5h0.8M113.5 106.7h0.8M110.7 103.7h0.8M111.4 99.9h0.8M111.7 108.2h0.8M115.0 103.4h0.8M113.1 104.0h0.8M114.0 104.2h0.8M108.9 106.9h0.8M111.1 94.1h0.8M115.1 99.2h0.8M112.9 103.2h0.8M111.8 105.5h0.8M112.6 102.5h0.8" stroke="#000" stroke-width="0.8" stroke-opacity="0.36" fill="none"/>
<path d="M81.3 80.4h0.8M81.6 97.3h0.8M82.8 89.7h0.8M82.2 102.2h0.8M78.5 96.9h0.8M87.7 90.5h0.8M83.0 87.5h0.8M85.1 90.9h0.8M88.8 88.4h0.8M91.4 92.5h0.8M77.3 85.2h0.8M86.1 87.1h0.8M89.9 105.2h0.8M86.0 82.5h0.8M81.9 87.5h0.8M94.8 91.3h0.8M84.0 104.2h0.8M75.8 89.5h0.8M81.9 97.2h0.8M73.9 93.7h0.8M79.0 100.6h0.8M78.5 90.2h0.8M86.1 89.0h0.8M98.2 90.5h0.8M84.5 102.1h0.8M87.0 92.6h0.8M76.5 90.3h0.8M84.8 94.8h0.8M83.6 98.3h0.8M77.1 84.9h0.8M90.2 90.9h0.8M77.4 85.0h0.8M88.3 85.3h0.8M74.4 100.5h0.8M77.8 114.5h0.8M81.7 93.8h0.8M77.5 90.8h0.8M78.1 92.5h0.8M87.3 84.0h0.8M78.5 75.7h0.8M90.0 94.2h0.8M81.0 92.7h0.8M86.5 96.8h0.8M86.3 92.8h0.8M80.4 92.6h0.8M73.1 83.7h0.8M84.9 94.3h0.8M83.4 107.5h0.8M90.1 106.0h0.8M76.8 109.1h0.8M75.9 91.6h0.8M87.2 92.6h0.8M80.8 90.3h0.8M92.5 75.2h0.8M87.0 102.9h0.8M79.8 97.5h0.8M73.7 100.9h0.8M100.4 89.1h0.8M89.3 94.2h0.8M79.7 89.0h0.8M81.6 83.1h0.8M80.1 97.5h0.8M82.2 97.3h0.8M73.3 84.1h0.8M83.4 101.7h0.8M75.0 87.5h0.8M73.8 97.2h0.8M83.0 93.8h0.8M76.7 95.2h0.8M82.2 87.4h0.8M83.9 88.3h0.8M85.8 99.1h0.8M76.1 97.1h0.8M82.4 87.7h0.8M77.9 79.1h0.8M73.8 94.8h0.8M89.0 89.5h0.8M81.5 96.1h0.8M85.0 97.5h0.8M87.2 100.5h0.8M75.9 95.5h0.8M80.3 97.8h0.8M78.1 99.4h0.8M90.0 88.0h0.8M77.4 94.7h0.8M83.7 94.8h0.8M87.6 84.8h0.8M84.0 103.2h0.8M87.0 97.7h0.8M79.0 96.1h0.8M82.8 80.6h0.8M77.5 92.3h0.8M79.2 85.3h0.8M80.1 90.0h0.8M81.5 92.9h0.8M80.6 101.2h0.8M81.2 96.5h0.8M77.9 68.7h0.8M77.7 98.1h0.8M79.9 87.9h0.8M77.5 94.6h0.8M86.9 98.6h0.8M94.4 94.5h0.8M85.7 99.7h0.8M77.1 92.9h0.8M79.1 84.5h0.8M83.8 87.4h0.8M92.0 89.1h0.8M77.7 93.4h0.8M77.9 93.1h0.8M110.1 82.5h0.8M111.6 80.3h0.8M109.4 80.0h0.8M116.9 76.4h0.8M110.7 80.8h0.8M116.5 76.7h0.8M106.4 76.8h0.8M108.9 84.1h0.8M113.3 80.3h0.8M117.9 77.6h0.8M114.5 76.6h0.8M107.2 83.5h0.8M113.4 80.5h0.8M108.6 80.4h0.8M120.4 72.9h0.8M115.1 82.1h0.8M112.3 79.6h0.8M105.3 84.8h0.8M112.8 83.1h0.8M112.3 78.0h0.8M114.6 77.4h0.8M112.8 83.9h0.8M117.3 77.3h0.8M117.4 79.5h0.8M115.6 77.9h0.8M113.9 79.8h0.8M115.9 78.7h0.8M110.8 79.6h0.8M113.8 75.4h0.8M114.0 80.9h0.8M113.5 77.8h0.8M112.5 77.6h0.8M116.7 76.0h0.8M104.8 78.7h0.8M114.6 78.8h0.8M109.6 76.2h0.8M111.5 76.9h0.8M110.4 80.0h0.8M110.3 81.1h0.8M109.5 79.0h0.8M113.9 83.1h0.8M120.7 78.4h0.8M110.1 80.2h0.8M117.8 79.3h0.8M106.4 81.7h0.8M111.0 82.2h0.8M115.1 76.3h0.8M121.6 74.2h0.8M123.0 73.9h0.8M115.0 84.0h0.8M110.4 78.6h0.8M119.1 76.0h0.8M113.6 74.7h0.8M121.6 78.1h0.8M115.4 80.0h0.8M110.5 78.5h0.8M107.1 82.7h0.8M119.2 78.8h0.8M117.7 79.0h0.8M107.8 77.1h0.8" stroke="#000" stroke-width="0.8" stroke-opacity="0.6" fill="none"/>
</g>
<text x="102.2" y="77.2" font-size="8.2" text-anchor="end" fill="#000" stroke="#000" stroke-width="0.16">11.2</text>
<rect x="90.2" y="91.60000000000001" width="12.6" height="8.2" fill="#fff"/>
<text x="102.2" y="98.5" font-size="8.2" text-anchor="end" fill="#000" stroke="#000" stroke-width="0.16">1.7</text>
<ellipse cx="112.6" cy="79.3" rx="8.3" ry="7.6" transform="rotate(-25 112.6 79.3)" fill="none" stroke="#222" stroke-width="0.8"/>
<ellipse cx="113.3" cy="103.5" rx="6.9" ry="8.9" transform="rotate(0 113.3 103.5)" fill="none" stroke="#222" stroke-width="0.8"/>
<rect x="73.0" y="67.0" width="51.4" height="50.2" fill="none" stroke="#2a2a2a" stroke-width="0.9"/>
<clipPath id="c5"><rect x="129.3" y="67.0" width="51.400000000000006" height="50.2"/></clipPath>
<g clip-path="url(#c5)">
<ellipse cx="134.8" cy="113.2" rx="11.2" ry="12.2" transform="rotate(0 134.8 113.2)" fill="#000" fill-opacity="1.0" filter="url(#b1h)"/>
<ellipse cx="142.8" cy="110.2" rx="4" ry="7" transform="rotate(10 142.8 110.2)" fill="#000" fill-opacity="0.55" filter="url(#b2)"/>
<ellipse cx="143.3" cy="97.2" rx="9" ry="4.2" transform="rotate(-45 143.3 97.2)" fill="#000" fill-opacity="0.4" filter="url(#b3)"/>
<polygon points="159.4,78.7 162.9,77.6 166.4,75.5 171.4,73.5 174.70000000000002,73.89999999999999 175.9,76.7 174.3,80.2 170.70000000000002,82.5 165.9,82.5 162.70000000000002,80.8" fill="#000" fill-opacity="1.0" filter="url(#b1)"/>
<ellipse cx="171.5" cy="77.8" rx="3.6" ry="2.9" transform="rotate(-22 171.5 77.8)" fill="#000" fill-opacity="1.0" filter="url(#b1)"/>
<ellipse cx="169.60000000000002" cy="103.0" rx="1.5" ry="2.0" transform="rotate(0 169.60000000000002 103.0)" fill="#000" fill-opacity="0.85" filter="url(#b1)"/>
<ellipse cx="169.60000000000002" cy="103.5" rx="3.6" ry="4.8" transform="rotate(0 169.60000000000002 103.5)" fill="#000" fill-opacity="0.36" filter="url(#b2)"/>
<path d="M156.6 85.9h0.8M154.1 87.3h0.8M134.4 103.7h0.8M169.6 97.0h0.8M135.1 97.1h0.8M173.2 116.5h0.8M167.5 69.3h0.8M173.6 100.4h0.8M143.2 113.2h0.8M170.9 111.9h0.8M141.8 96.0h0.8M148.4 81.9h0.8M138.4 106.0h0.8M147.2 86.3h0.8M141.3 92.2h0.8M140.9 91.3h0.8M132.1 98.3h0.8M137.6 88.6h0.8M150.5 97.7h0.8M138.3 95.1h0.8M138.2 89.5h0.8M140.1 93.4h0.8M145.6 100.3h0.8M135.6 86.0h0.8M131.3 105.9h0.8M135.5 92.8h0.8M129.3 100.7h0.8M137.0 90.9h0.8M141.2 99.3h0.8M148.1 90.4h0.8M133.8 88.5h0.8M151.7 94.6h0.8M154.0 89.9h0.8M143.8 93.0h0.8M145.0 98.7h0.8M146.6 104.1h0.8M144.7 86.8h0.8M134.1 86.3h0.8M133.9 96.7h0.8M154.8 73.8h0.8M147.2 87.6h0.8M140.6 97.8h0.8M129.6 110.2h0.8M155.4 81.9h0.8M140.5 94.3h0.8M143.2 86.8h0.8M143.1 94.6h0.8M139.3 97.1h0.8M145.5 94.1h0.8M131.1 97.3h0.8M141.8 101.1h0.8M135.7 84.5h0.8M138.6 109.8h0.8M137.8 85.5h0.8M134.3 99.7h0.8M156.8 90.9h0.8M136.5 94.3h0.8M150.4 76.5h0.8M152.9 84.5h0.8M145.9 98.1h0.8M140.6 86.5h0.8M129.4 103.2h0.8M149.3 95.7h0.8M150.6 95.7h0.8M146.9 88.9h0.8M145.0 92.1h0.8M135.3 96.8h0.8M139.5 90.4h0.8M146.0 92.1h0.8M136.6 87.5h0.8M144.9 86.0h0.8M131.4 113.4h0.8M138.2 112.5h0.8M142.5 87.8h0.8M156.2 89.4h0.8M135.6 84.2h0.8M136.5 94.5h0.8M143.2 89.7h0.8M136.5 84.0h0.8M141.2 103.6h0.8M133.4 106.6h0.8M159.5 81.0h0.8M135.1 107.6h0.8M142.1 101.2h0.8M149.5 86.4h0.8M157.0 85.8h0.8M133.1 92.1h0.8M156.5 75.5h0.8M142.8 90.0h0.8M130.7 89.4h0.8M138.8 93.6h0.8M145.4 84.6h0.8M141.0 94.5h0.8M144.1 86.8h0.8M144.8 90.3h0.8M152.3 82.0h0.8M143.5 94.7h0.8M145.5 81.3h0.8M135.8 95.1h0.8M130.0 112.6h0.8M148.1 86.3h0.8M169.5 76.8h0.8M161.0 86.8h0.8M141.4 81.2h0.8M153.0 85.0h0.8M131.9 101.2h0.8M149.6 92.5h0.8M139.5 89.8h0.8M142.9 85.0h0.8M142.7 97.0h0.8M131.4 104.2h0.8M131.1 100.8h0.8M145.3 88.3h0.8M147.3 87.7h0.8M140.7 96.6h0.8M139.1 95.3h0.8M145.6 84.0h0.8M144.3 81.0h0.8M132.0 87.2h0.8M142.6 103.5h0.8M147.8 96.3h0.8M146.9 93.7h0.8M139.9 80.6h0.8M143.7 89.6h0.8M143.0 94.5h0.8M131.7 87.7h0.8M130.3 101.2h0.8M147.0 81.6h0.8M130.3 93.2h0.8M135.9 95.3h0.8M135.2 101.5h0.8M133.7 103.4h0.8M138.6 100.9h0.8M135.6 100.9h0.8M143.2 90.0h0.8M152.8 83.3h0.8M136.6 102.0h0.8M132.2 96.2h0.8M141.1 93.9h0.8M145.9 74.6h0.8M142.8 99.7h0.8M140.4 95.6h0.8M146.6 78.0h0.8M143.7 96.3h0.8M133.8 100.5h0.8M148.8 99.9h0.8M143.9 77.9h0.8M151.4 90.4h0.8M151.4 82.0h0.8M136.8 97.5h0.8M153.9 85.8h0.8M155.6 85.5h0.8M132.1 92.7h0.8M147.8 74.6h0.8M136.5 94.1h0.8M131.5 96.7h0.8M149.6 103.4h0.8M137.8 91.4h0.8M144.8 96.4h0.8M132.8 96.8h0.8M130.4 107.6h0.8M151.1 95.2h0.8M140.1 110.4h0.8M145.6 86.3h0.8M136.3 94.4h0.8M134.5 104.4h0.8M133.1 94.0h0.8M144.5 90.3h0.8M135.2 96.0h0.8M142.0 102.2h0.8M144.7 83.5h0.8M145.3 99.4h0.8M145.1 102.8h0.8M146.1 93.2h0.8M145.0 93.5h0.8M145.8 92.3h0.8M140.1 100.4h0.8M136.7 88.3h0.8M133.6 100.5h0.8M134.2 81.5h0.8M129.4 111.2h0.8M151.3 105.6h0.8M142.1 108.8h0.8M145.3 113.4h0.8M143.1 112.0h0.8M147.9 113.8h0.8M147.1 110.1h0.8M146.4 104.0h0.8M149.8 112.2h0.8M144.3 108.5h0.8M147.3 115.2h0.8M146.7 115.6h0.8M148.9 100.0h0.8M145.0 98.4h0.8M146.3 107.8h0.8M149.3 111.2h0.8M149.3 103.0h0.8M144.9 112.1h0.8M153.1 109.0h0.8M146.7 111.7h0.8M150.0 109.7h0.8M148.3 107.7h0.8M145.4 105.6h0.8M149.6 107.0h0.8M149.2 112.6h0.8M150.6 94.6h0.8M144.0 103.1h0.8M146.7 114.9h0.8M151.9 112.4h0.8M146.0 113.3h0.8M139.9 115.6h0.8M147.3 113.8h0.8M143.8 103.8h0.8M145.1 109.9h0.8M148.5 108.1h0.8M148.5 114.2h0.8M143.3 109.6h0.8M142.0 107.0h0.8M150.4 106.0h0.8M153.7 113.1h0.8M150.3 110.8h0.8M150.3 116.6h0.8M147.7 107.1h0.8M146.7 107.5h0.8M144.9 100.4h0.8M145.6 112.1h0.8M145.6 105.8h0.8M148.7 112.9h0.8M145.8 112.0h0.8M144.0 115.2h0.8M143.9 108.2h0.8M147.8 107.8h0.8M152.5 100.0h0.8M147.7 102.8h0.8M148.4 102.6h0.8M149.3 113.3h0.8M145.7 115.7h0.8M145.7 109.5h0.8M145.6 99.9h0.8M149.4 98.3h0.8M146.5 113.3h0.8M147.7 101.0h0.8M169.2 97.7h0.8M168.9 99.3h0.8M167.5 104.2h0.8M172.4 104.6h0.8M168.4 101.9h0.8M173.0 97.5h0.8M172.5 97.9h0.8M168.0 103.7h0.8M169.0 109.7h0.8M170.9 103.3h0.8M172.0 103.6h0.8M167.6 107.7h0.8M173.4 108.2h0.8M166.6 110.6h0.8M168.5 106.3h0.8M172.6 112.3h0.8M165.5 99.7h0.8M172.6 105.3h0.8M168.8 92.6h0.8M170.7 102.8h0.8M163.0 113.4h0.8M163.2 101.4h0.8M169.6 104.4h0.8M171.5 102.5h0.8M167.3 102.2h0.8M164.2 99.4h0.8M174.6 101.0h0.8M169.4 110.5h0.8M172.3 104.0h0.8M171.5 102.5h0.8M167.3 107.2h0.8M169.9 109.4h0.8M168.9 102.1h0.8M170.5 102.8h0.8M168.8 100.2h0.8M170.2 104.7h0.8M174.3 103.4h0.8M165.1 105.2h0.8M175.4 101.9h0.8M167.6 102.9h0.8M162.3 102.3h0.8M169.1 97.9h0.8M171.1 100.2h0.8M164.9 100.8h0.8M171.2 110.6h0.8M172.8 104.2h0.8M168.3 102.5h0.8M172.1 101.6h0.8M170.7 107.1h0.8M167.3 101.3h0.8M170.7 103.5h0.8M169.3 101.5h0.8M169.4 110.4h0.8M173.1 97.5h0.8M169.7 103.8h0.8M169.7 98.4h0.8M169.3 104.1h0.8M167.9 104.7h0.8M163.4 97.9h0.8M169.9 105.0h0.8M169.2 101.8h0.8M170.1 107.5h0.8M171.9 103.2h0.8M168.4 107.5h0.8M171.0 106.8h0.8M168.9 100.3h0.8M170.1 101.2h0.8M172.5 106.7h0.8M164.0 106.0h0.8M173.0 107.4h0.8M168.4 100.3h0.8M172.1 107.3h0.8M169.8 99.2h0.8M165.7 104.5h0.8M167.5 101.0h0.8M170.7 107.4h0.8M164.3 101.0h0.8M172.9 103.3h0.8M168.7 105.9h0.8M166.7 99.0h0.8" stroke="#000" stroke-width="0.8" stroke-opacity="0.36" fill="none"/>
<path d="M137.9 93.7h0.8M140.9 104.8h0.8M146.3 90.0h0.8M145.7 90.1h0.8M142.6 96.8h0.8M135.2 106.0h0.8M131.8 93.0h0.8M134.4 100.6h0.8M134.0 100.2h0.8M130.9 95.4h0.8M146.5 93.5h0.8M142.0 96.1h0.8M141.0 97.2h0.8M131.2 100.2h0.8M144.5 100.5h0.8M147.0 101.3h0.8M133.0 105.1h0.8M141.2 105.0h0.8M149.3 87.4h0.8M144.7 93.5h0.8M135.5 103.5h0.8M139.7 108.2h0.8M147.8 98.1h0.8M136.7 89.7h0.8M146.0 94.0h0.8M151.6 97.2h0.8M137.8 106.0h0.8M142.7 95.9h0.8M141.2 101.2h0.8M146.3 96.8h0.8M135.5 96.9h0.8M152.2 94.4h0.8M138.1 101.3h0.8M141.1 89.0h0.8M150.6 102.0h0.8M140.9 94.8h0.8M152.7 86.9h0.8M141.3 95.9h0.8M137.5 92.3h0.8M130.2 101.4h0.8M146.1 92.9h0.8M142.2 86.3h0.8M141.9 105.5h0.8M131.9 97.6h0.8M136.2 101.4h0.8M144.8 101.8h0.8M152.9 95.0h0.8M143.2 93.6h0.8M134.5 97.0h0.8M151.8 94.5h0.8M139.4 95.3h0.8M146.4 95.8h0.8M139.0 94.2h0.8M141.1 95.3h0.8M147.0 95.7h0.8M142.6 94.6h0.8M151.9 91.8h0.8M150.6 93.4h0.8M146.1 95.6h0.8M130.4 99.2h0.8M137.8 105.1h0.8M146.9 93.6h0.8M146.8 102.7h0.8M134.3 95.6h0.8M131.8 105.9h0.8M147.2 96.3h0.8M142.3 101.6h0.8M139.1 96.5h0.8M141.2 102.4h0.8M143.6 89.9h0.8M136.1 104.0h0.8M149.9 83.2h0.8M135.5 106.3h0.8M142.5 93.7h0.8M142.5 99.7h0.8M131.6 107.8h0.8M147.1 97.4h0.8M147.6 91.5h0.8M136.9 109.8h0.8M143.9 92.2h0.8M149.9 95.3h0.8M134.1 92.6h0.8M136.7 98.7h0.8M136.4 102.6h0.8M136.4 105.3h0.8M148.6 84.5h0.8M145.6 91.0h0.8M144.0 94.8h0.8M146.5 89.2h0.8M143.3 92.0h0.8M142.5 96.9h0.8M143.1 87.9h0.8M137.6 109.5h0.8M148.0 100.7h0.8M136.2 104.5h0.8M149.4 99.6h0.8M139.8 97.3h0.8M145.0 94.0h0.8M139.2 104.4h0.8M147.5 89.3h0.8M140.5 101.0h0.8M148.9 93.4h0.8M134.4 102.0h0.8M146.8 92.1h0.8M140.2 104.1h0.8M153.5 97.8h0.8M133.4 102.2h0.8M138.4 103.0h0.8M141.7 103.9h0.8M137.0 101.0h0.8M145.0 95.6h0.8M139.8 107.9h0.8M143.2 93.7h0.8M139.5 94.0h0.8M133.7 104.2h0.8M143.6 96.5h0.8M133.3 98.7h0.8M136.4 111.8h0.8M141.2 94.0h0.8M149.3 93.1h0.8M137.4 98.8h0.8M148.5 92.8h0.8M151.3 90.2h0.8M136.5 99.8h0.8M138.1 102.8h0.8M144.3 98.4h0.8M140.9 92.9h0.8M137.6 96.8h0.8M140.4 92.0h0.8M135.8 99.1h0.8M137.2 100.9h0.8M148.9 89.2h0.8M132.6 105.3h0.8M146.9 95.6h0.8M148.0 102.3h0.8M147.7 92.3h0.8M144.4 87.9h0.8M138.0 96.8h0.8M146.7 101.6h0.8M142.9 105.3h0.8M167.5 81.8h0.8M175.8 81.0h0.8M162.5 83.3h0.8M168.3 81.7h0.8M162.3 81.5h0.8M171.5 75.8h0.8M166.7 76.8h0.8M172.4 73.2h0.8M165.3 79.6h0.8M170.6 85.0h0.8M169.5 76.1h0.8M172.2 78.7h0.8M170.5 78.1h0.8M169.9 74.8h0.8M164.0 79.9h0.8M165.7 82.7h0.8M178.8 78.5h0.8M171.6 78.9h0.8M165.0 76.6h0.8M169.9 73.9h0.8M170.5 77.9h0.8M172.5 77.6h0.8M169.1 77.1h0.8M161.9 81.0h0.8M173.5 80.3h0.8M173.9 73.6h0.8M166.4 82.4h0.8M170.6 86.5h0.8M168.9 74.2h0.8M169.0 84.0h0.8M162.1 82.5h0.8M165.6 85.6h0.8M166.3 76.9h0.8M161.5 80.0h0.8M158.3 82.2h0.8M178.5 75.1h0.8M166.9 76.2h0.8M170.2 76.9h0.8M167.6 84.0h0.8M170.2 75.6h0.8M175.4 75.9h0.8M171.6 78.3h0.8M175.0 78.3h0.8M168.8 81.4h0.8M168.0 79.9h0.8M174.9 73.0h0.8M164.7 79.6h0.8M168.9 83.2h0.8M165.6 87.8h0.8M175.4 74.7h0.8M169.7 77.5h0.8M172.9 79.3h0.8M173.4 79.5h0.8M177.1 74.8h0.8M172.1 77.0h0.8M169.8 79.3h0.8M169.6 79.8h0.8M165.7 79.9h0.8M165.5 76.8h0.8M165.9 78.8h0.8" stroke="#000" stroke-width="0.8" stroke-opacity="0.6" fill="none"/>
</g>
<text x="160.3" y="77.2" font-size="8.2" text-anchor="end" fill="#000" stroke="#000" stroke-width="0.16">7.9</text>
<rect x="147.6" y="91.60000000000001" width="12.6" height="8.2" fill="#fff"/>
<text x="159.6" y="98.5" font-size="8.2" text-anchor="end" fill="#000" stroke="#000" stroke-width="0.16">2.5</text>
<ellipse cx="168.9" cy="79.3" rx="8.3" ry="7.6" transform="rotate(-25 168.9 79.3)" fill="none" stroke="#222" stroke-width="0.8"/>
<ellipse cx="169.60000000000002" cy="103.5" rx="6.9" ry="8.9" transform="rotate(0 169.60000000000002 103.5)" fill="none" stroke="#222" stroke-width="0.8"/>
<rect x="129.3" y="67.0" width="51.4" height="50.2" fill="none" stroke="#2a2a2a" stroke-width="0.9"/>
<clipPath id="c6"><rect x="185.5" y="67.0" width="51.400000000000006" height="50.2"/></clipPath>
<g clip-path="url(#c6)">
<ellipse cx="193.0" cy="114.2" rx="12.6" ry="11.2" transform="rotate(0 193.0 114.2)" fill="#000" fill-opacity="1.0" filter="url(#b1h)"/>
<ellipse cx="204.0" cy="111.2" rx="4" ry="5" transform="rotate(0 204.0 111.2)" fill="#000" fill-opacity="0.85" filter="url(#b1h)"/>
<ellipse cx="208.5" cy="112.2" rx="4" ry="5" transform="rotate(0 208.5 112.2)" fill="#000" fill-opacity="0.3" filter="url(#b2)"/>
<ellipse cx="199.5" cy="98.2" rx="9" ry="4.2" transform="rotate(-42 199.5 98.2)" fill="#000" fill-opacity="0.36" filter="url(#b3)"/>
<polygon points="215.6,78.7 219.1,77.6 222.6,75.5 227.6,73.5 230.9,73.89999999999999 232.1,76.7 230.5,80.2 226.9,82.5 222.1,82.5 218.9,80.8" fill="#000" fill-opacity="1.0" filter="url(#b1)"/>
<ellipse cx="227.7" cy="77.8" rx="3.6" ry="2.9" transform="rotate(-22 227.7 77.8)" fill="#000" fill-opacity="1.0" filter="url(#b1)"/>
<ellipse cx="225.8" cy="103.0" rx="1.5" ry="2.0" transform="rotate(0 225.8 103.0)" fill="#000" fill-opacity="0.85" filter="url(#b1)"/>
<ellipse cx="225.8" cy="103.5" rx="3.6" ry="4.8" transform="rotate(0 225.8 103.5)" fill="#000" fill-opacity="0.36" filter="url(#b2)"/>
<path d="M198.0 101.7h0.8M235.9 86.7h0.8M232.8 88.9h0.8M218.4 110.5h0.8M195.7 84.3h0.8M235.1 70.3h0.8M200.9 90.9h0.8M223.0 98.7h0.8M232.4 100.6h0.8M185.6 70.6h0.8M187.3 88.7h0.8M186.9 93.4h0.8M188.3 99.6h0.8M198.0 94.0h0.8M198.6 99.6h0.8M196.9 105.5h0.8M200.7 90.9h0.8M202.1 96.8h0.8M192.6 102.0h0.8M203.7 86.4h0.8M186.0 94.8h0.8M196.7 87.8h0.8M217.4 81.0h0.8M185.5 101.2h0.8M210.7 87.6h0.8M192.7 105.4h0.8M201.3 107.3h0.8M194.6 100.4h0.8M199.1 88.6h0.8M199.8 100.4h0.8M200.0 90.8h0.8M206.5 99.3h0.8M205.4 90.4h0.8M193.0 85.0h0.8M195.7 91.1h0.8M199.7 86.8h0.8M195.9 86.6h0.8M200.5 85.2h0.8M198.5 97.0h0.8M194.1 96.3h0.8M211.3 95.5h0.8M205.2 94.2h0.8M193.3 97.6h0.8M203.7 105.8h0.8M190.5 90.1h0.8M204.9 84.2h0.8M213.7 84.7h0.8M201.9 94.7h0.8M206.0 93.4h0.8M187.0 97.9h0.8M192.8 98.2h0.8M189.9 90.2h0.8M198.1 106.7h0.8M209.3 76.8h0.8M199.2 91.6h0.8M192.8 102.8h0.8M202.3 102.2h0.8M198.8 89.9h0.8M200.2 85.6h0.8M205.8 91.7h0.8M201.8 95.6h0.8M197.6 93.1h0.8M192.8 95.1h0.8M192.5 89.4h0.8M200.1 88.6h0.8M198.5 88.6h0.8M200.1 92.2h0.8M205.0 90.6h0.8M202.9 87.5h0.8M195.1 93.4h0.8M186.5 101.6h0.8M207.7 90.8h0.8M191.2 101.0h0.8M197.0 83.3h0.8M200.4 93.5h0.8M203.1 90.6h0.8M210.0 79.8h0.8M210.9 91.9h0.8M192.8 88.5h0.8M206.7 85.3h0.8M202.3 93.1h0.8M207.6 92.7h0.8M197.6 93.3h0.8M201.9 88.6h0.8M202.8 104.5h0.8M211.3 90.7h0.8M201.4 84.0h0.8M195.6 94.4h0.8M193.1 87.7h0.8M202.4 92.9h0.8M193.4 94.2h0.8M202.9 92.5h0.8M194.6 86.3h0.8M192.0 113.8h0.8M190.2 96.7h0.8M194.0 102.5h0.8M191.5 94.6h0.8M189.0 97.1h0.8M185.6 105.4h0.8M206.1 87.3h0.8M197.2 103.3h0.8M196.3 86.4h0.8M189.8 95.1h0.8M200.8 100.0h0.8M190.6 98.0h0.8M192.8 88.1h0.8M195.2 100.0h0.8M198.0 78.5h0.8M200.7 88.4h0.8M208.6 88.8h0.8M212.6 83.1h0.8M190.4 93.0h0.8M187.8 105.8h0.8M203.5 94.6h0.8M193.5 85.2h0.8M192.5 95.7h0.8M200.6 96.6h0.8M208.3 86.5h0.8M188.3 102.9h0.8M199.1 100.6h0.8M202.9 85.3h0.8M203.7 88.3h0.8M205.1 97.4h0.8M187.6 101.2h0.8M205.3 81.0h0.8M198.6 93.4h0.8M188.4 90.9h0.8M187.6 94.1h0.8M205.6 88.5h0.8M197.3 84.4h0.8M200.8 91.7h0.8M201.7 84.3h0.8M207.8 95.2h0.8M206.6 78.6h0.8M206.0 90.8h0.8M195.8 88.1h0.8M212.1 93.5h0.8M195.8 93.9h0.8M207.4 88.9h0.8M205.2 83.8h0.8M197.8 90.5h0.8M191.1 96.5h0.8M196.3 98.3h0.8M194.5 96.4h0.8M185.8 93.8h0.8M203.6 80.7h0.8M213.8 86.9h0.8M193.4 96.9h0.8M192.9 92.6h0.8M205.5 85.7h0.8M201.2 85.0h0.8M196.3 104.6h0.8M190.2 91.0h0.8M199.2 100.0h0.8M192.6 92.0h0.8M205.0 94.6h0.8M193.7 94.1h0.8M203.9 108.7h0.8M201.7 103.2h0.8M196.9 97.0h0.8M195.7 92.4h0.8M188.3 90.7h0.8M185.9 104.4h0.8M191.3 97.8h0.8M193.2 93.1h0.8M198.0 107.2h0.8M186.2 98.9h0.8M189.9 90.9h0.8M192.5 104.2h0.8M204.1 88.9h0.8M224.2 77.3h0.8M202.8 82.7h0.8M211.1 94.9h0.8M200.5 104.7h0.8M186.1 94.2h0.8M193.1 90.9h0.8M197.2 85.2h0.8M189.8 84.9h0.8M200.2 99.1h0.8M195.7 97.3h0.8M200.6 82.3h0.8M187.2 102.6h0.8M209.5 109.9h0.8M205.2 117.1h0.8M204.5 109.9h0.8M208.4 114.7h0.8M207.0 107.2h0.8M215.5 107.1h0.8M211.3 110.5h0.8M206.9 111.0h0.8M207.6 112.7h0.8M199.7 111.1h0.8M208.8 106.5h0.8M214.9 114.3h0.8M209.3 109.7h0.8M213.3 109.0h0.8M205.7 114.6h0.8M205.2 107.3h0.8M213.5 103.4h0.8M208.3 111.8h0.8M209.4 104.1h0.8M207.7 109.6h0.8M215.2 116.1h0.8M205.9 115.5h0.8M210.8 110.7h0.8M207.7 109.9h0.8M203.2 108.1h0.8M214.9 109.4h0.8M210.6 99.5h0.8M207.6 105.0h0.8M211.4 103.1h0.8M204.9 105.8h0.8M209.9 115.3h0.8M209.1 107.1h0.8M209.7 111.1h0.8M211.4 112.9h0.8M216.1 116.9h0.8M206.3 115.0h0.8M211.1 106.3h0.8M205.9 107.3h0.8M200.0 114.3h0.8M206.6 111.6h0.8M211.0 115.9h0.8M209.6 106.1h0.8M216.1 115.4h0.8M213.4 113.2h0.8M210.2 114.3h0.8M203.3 115.2h0.8M205.2 113.3h0.8M205.0 114.7h0.8M209.2 113.7h0.8M205.4 109.8h0.8M208.3 109.8h0.8M207.0 106.9h0.8M211.2 109.3h0.8M205.7 113.0h0.8M205.7 110.4h0.8M206.8 106.7h0.8M207.7 107.2h0.8M204.2 112.9h0.8M207.5 104.1h0.8M207.2 112.1h0.8M226.6 109.3h0.8M227.6 108.7h0.8M222.8 99.5h0.8M227.9 102.5h0.8M224.7 100.0h0.8M229.6 99.1h0.8M226.1 98.4h0.8M225.4 111.8h0.8M232.0 101.7h0.8M223.3 109.5h0.8M223.6 96.9h0.8M226.7 99.5h0.8M222.1 107.6h0.8M224.0 99.6h0.8M226.3 102.8h0.8M228.7 103.9h0.8M229.9 107.7h0.8M230.4 107.6h0.8M226.0 105.5h0.8M225.9 97.8h0.8M222.8 106.2h0.8M219.8 100.5h0.8M222.6 103.3h0.8M223.2 104.4h0.8M225.3 101.8h0.8M223.7 95.3h0.8M226.0 98.8h0.8M225.1 104.9h0.8M228.5 106.1h0.8M229.6 98.3h0.8M227.6 109.3h0.8M226.8 99.4h0.8M226.9 101.6h0.8M224.2 107.4h0.8M225.4 99.4h0.8M224.1 110.7h0.8M223.7 106.0h0.8M226.3 107.8h0.8M225.1 100.0h0.8M224.2 99.7h0.8M232.4 104.2h0.8M225.0 108.1h0.8M227.5 102.8h0.8M227.4 104.5h0.8M228.7 109.6h0.8M225.0 103.4h0.8M225.4 108.0h0.8M226.8 106.4h0.8M228.1 101.2h0.8M226.2 108.6h0.8M228.2 106.5h0.8M225.1 102.2h0.8M223.7 102.5h0.8M225.7 98.2h0.8M228.8 100.7h0.8M226.5 105.7h0.8M224.4 96.9h0.8M228.3 105.0h0.8M225.2 107.7h0.8M228.1 100.0h0.8M225.6 97.0h0.8M225.2 108.7h0.8M223.7 106.5h0.8M222.0 102.4h0.8M228.2 109.8h0.8M227.0 106.3h0.8M230.2 94.5h0.8M221.5 110.5h0.8M232.1 105.7h0.8M226.0 104.5h0.8M225.9 101.3h0.8M225.8 103.0h0.8M227.5 106.0h0.8M228.3 105.7h0.8M223.4 108.6h0.8M219.1 103.9h0.8M226.7 101.6h0.8M230.6 99.5h0.8M222.9 101.7h0.8M226.9 106.4h0.8" stroke="#000" stroke-width="0.8" stroke-opacity="0.36" fill="none"/>
<path d="M193.5 100.1h0.8M199.1 93.4h0.8M202.3 93.6h0.8M189.8 101.5h0.8M201.3 105.1h0.8M202.1 95.2h0.8M197.2 109.5h0.8M195.9 100.7h0.8M198.5 105.3h0.8M197.3 96.9h0.8M196.0 95.3h0.8M190.9 104.3h0.8M206.2 85.5h0.8M192.5 95.3h0.8M199.1 98.9h0.8M198.3 91.4h0.8M192.3 100.5h0.8M202.1 107.1h0.8M196.2 100.1h0.8M196.6 104.2h0.8M215.5 89.1h0.8M203.6 88.0h0.8M203.8 93.7h0.8M207.6 95.7h0.8M196.9 90.9h0.8M197.0 97.0h0.8M200.2 97.0h0.8M199.4 89.0h0.8M193.0 102.9h0.8M198.3 96.3h0.8M197.5 99.5h0.8M203.3 93.4h0.8M194.1 92.6h0.8M193.5 90.6h0.8M199.6 96.8h0.8M195.6 97.1h0.8M197.2 103.8h0.8M199.5 97.2h0.8M195.2 102.4h0.8M204.4 92.9h0.8M192.3 97.7h0.8M195.7 96.0h0.8M191.4 109.3h0.8M188.5 96.5h0.8M198.1 108.4h0.8M193.4 95.9h0.8M192.9 107.1h0.8M200.4 97.7h0.8M197.6 101.6h0.8M207.8 92.5h0.8M192.9 96.0h0.8M204.2 101.4h0.8M198.0 92.1h0.8M202.0 102.0h0.8M195.1 104.0h0.8M208.9 97.6h0.8M201.5 99.3h0.8M195.4 101.0h0.8M198.3 104.9h0.8M188.2 104.0h0.8M186.1 104.6h0.8M197.4 99.4h0.8M207.4 89.1h0.8M200.5 98.4h0.8M202.9 102.1h0.8M198.7 98.9h0.8M196.9 99.8h0.8M199.8 102.4h0.8M197.8 99.3h0.8M199.2 101.7h0.8M197.2 104.4h0.8M196.0 104.2h0.8M209.4 89.8h0.8M193.9 96.2h0.8M201.9 95.3h0.8M201.1 92.5h0.8M205.3 101.7h0.8M199.0 96.1h0.8M189.8 106.0h0.8M202.9 97.5h0.8M188.2 102.1h0.8M189.1 101.4h0.8M196.6 101.4h0.8M209.3 89.6h0.8M201.7 86.7h0.8M208.7 93.4h0.8M202.3 99.3h0.8M206.2 101.5h0.8M197.6 89.8h0.8M191.5 113.2h0.8M200.5 103.5h0.8M193.8 99.1h0.8M196.3 101.9h0.8M197.0 96.4h0.8M202.3 98.2h0.8M189.2 100.8h0.8M195.7 97.1h0.8M193.6 102.0h0.8M199.2 100.7h0.8M203.5 96.1h0.8M201.5 90.4h0.8M202.0 97.1h0.8M189.6 102.7h0.8M200.3 97.1h0.8M188.7 104.2h0.8M208.7 93.6h0.8M201.5 102.7h0.8M191.7 103.5h0.8M202.2 93.1h0.8M192.5 106.8h0.8M200.2 83.3h0.8M195.1 94.7h0.8M192.0 96.6h0.8M211.0 83.4h0.8M195.9 96.9h0.8M190.5 103.1h0.8M203.4 103.3h0.8M203.3 102.3h0.8M191.4 105.0h0.8M190.8 96.9h0.8M218.8 78.8h0.8M196.9 95.7h0.8M191.4 99.2h0.8M202.5 92.6h0.8M197.1 100.5h0.8M190.9 106.4h0.8M197.7 101.4h0.8M195.3 101.4h0.8M203.1 99.3h0.8M196.0 105.7h0.8M227.8 79.0h0.8M227.4 79.9h0.8M222.6 77.6h0.8M227.7 76.6h0.8M226.4 80.5h0.8M231.0 80.3h0.8M222.3 79.1h0.8M226.2 73.9h0.8M221.1 82.7h0.8M222.0 77.5h0.8M229.6 78.7h0.8M229.0 76.2h0.8M224.0 78.4h0.8M224.5 72.8h0.8M223.6 82.0h0.8M222.3 80.1h0.8M226.8 79.9h0.8M222.3 76.6h0.8M235.1 72.3h0.8M230.6 70.9h0.8M225.9 78.1h0.8M235.9 80.7h0.8M228.5 74.3h0.8M221.4 78.3h0.8M223.8 80.4h0.8M222.1 79.6h0.8M233.4 79.9h0.8M216.8 79.7h0.8M225.6 82.9h0.8M226.5 84.5h0.8M228.9 81.9h0.8M221.7 79.5h0.8M230.5 78.4h0.8M217.6 81.5h0.8M227.1 80.1h0.8M225.1 84.6h0.8M228.0 82.4h0.8M227.4 78.3h0.8M222.9 76.3h0.8M230.1 79.2h0.8M229.1 76.1h0.8M221.0 79.6h0.8M224.3 79.3h0.8M228.6 74.6h0.8M224.4 81.5h0.8M232.0 83.0h0.8M226.8 75.6h0.8M220.4 78.6h0.8M226.2 79.3h0.8M224.6 77.3h0.8M224.8 78.9h0.8M228.2 77.9h0.8M220.9 77.2h0.8M231.7 75.8h0.8M224.9 79.0h0.8M229.9 75.9h0.8M226.1 77.8h0.8M226.8 75.0h0.8M227.7 81.1h0.8M231.3 78.2h0.8" stroke="#000" stroke-width="0.8" stroke-opacity="0.6" fill="none"/>
</g>
<text x="216.6" y="77.2" font-size="8.2" text-anchor="end" fill="#000" stroke="#000" stroke-width="0.16">13.1</text>
<rect x="203.8" y="91.60000000000001" width="12.6" height="8.2" fill="#fff"/>
<text x="215.8" y="98.5" font-size="8.2" text-anchor="end" fill="#000" stroke="#000" stroke-width="0.16">2.2</text>
<ellipse cx="225.1" cy="79.3" rx="8.3" ry="7.6" transform="rotate(-25 225.1 79.3)" fill="none" stroke="#222" stroke-width="0.8"/>
<ellipse cx="225.8" cy="103.5" rx="6.9" ry="8.9" transform="rotate(0 225.8 103.5)" fill="none" stroke="#222" stroke-width="0.8"/>
<rect x="185.5" y="67.0" width="51.4" height="50.2" fill="none" stroke="#2a2a2a" stroke-width="0.9"/>
<rect x="274.3" y="27.5" width="104" height="75" fill="none" stroke="#777" stroke-width="0.9"/>
<text transform="translate(261.2 53.2) rotate(-90)" font-size="8.3" text-anchor="middle" fill="#0a0a0a" stroke="#0a0a0a" stroke-width="0.16">donor cell recovery (x10<tspan font-size="5.4" dy="-2.8">6</tspan><tspan dy="2.8">)</tspan></text>
<text x="273.6" y="42.3" font-size="8.2" text-anchor="end" fill="#0a0a0a" stroke="#0a0a0a" stroke-width="0.16">10</text>
<text x="272" y="74.8" font-size="8.2" text-anchor="end" fill="#0a0a0a" stroke="#0a0a0a" stroke-width="0.16">1</text>
<text x="273" y="107.2" font-size="8.2" text-anchor="end" fill="#0a0a0a" stroke="#0a0a0a" stroke-width="0.16">0.1</text>
<text x="293.2" y="112.6" font-size="8.4" text-anchor="middle" fill="#0a0a0a" stroke="#0a0a0a" stroke-width="0.16">SPL</text>
<text x="327.5" y="112.6" font-size="8.4" text-anchor="middle" fill="#0a0a0a" stroke="#0a0a0a" stroke-width="0.16">LN</text>
<text x="363" y="112.6" font-size="8.4" text-anchor="middle" fill="#0a0a0a" stroke="#0a0a0a" stroke-width="0.16">mLN</text>
<text x="353.7" y="95" font-size="8.4" text-anchor="start" fill="#0a0a0a" stroke="#0a0a0a" stroke-width="0.16">CD4</text>
<circle cx="281.8" cy="86.3" r="2.0" fill="#000"/>
<circle cx="281.8" cy="92.6" r="1.8" fill="#fff" stroke="#222" stroke-width="1.0"/>
<text x="289.4" y="90.1" font-size="8.2" text-anchor="start" fill="#0a0a0a" stroke="#0a0a0a" stroke-width="0.16">sham</text>
<text x="289.4" y="97.4" font-size="8.4" text-anchor="start" fill="#0a0a0a" stroke="#0a0a0a" stroke-width="0.16">IL-15 pump</text>
<path d="M291.8 33.6V46M290.5 33.6h2.6M290.5 46h2.6" stroke="#222" stroke-width="0.9" fill="none"/>
<circle cx="291.8" cy="39.5" r="2.0" fill="#000"/>
<circle cx="291.8" cy="37.8" r="1.9" fill="#fff" stroke="#222" stroke-width="1.0"/>
<text x="296" y="40.3" font-size="8.4" text-anchor="start" fill="#0a0a0a" stroke="#0a0a0a" stroke-width="0.16">10.0</text>
<text x="298" y="49.3" font-size="8.4" text-anchor="start" fill="#0a0a0a" stroke="#0a0a0a" stroke-width="0.16">8.9</text>
<circle cx="325.8" cy="62.6" r="1.9" fill="#000"/>
<circle cx="325.0" cy="62.4" r="1.8" fill="#fff" stroke="#222" stroke-width="1.0"/>
<text x="330.4" y="64.0" font-size="8.4" text-anchor="start" fill="#0a0a0a" stroke="#0a0a0a" stroke-width="0.16">1.7</text>
<text x="330.4" y="72.6" font-size="8.4" text-anchor="start" fill="#0a0a0a" stroke="#0a0a0a" stroke-width="0.16">1.6</text>
<circle cx="360.8" cy="45" r="2.0" fill="#000"/>
<circle cx="360.8" cy="47.4" r="1.8" fill="#fff" stroke="#222" stroke-width="1.0"/>
<text x="363.8" y="45.3" font-size="8.4" text-anchor="start" fill="#0a0a0a" stroke="#0a0a0a" stroke-width="0.16">5.8</text>
<text x="363.8" y="57.6" font-size="8.4" text-anchor="start" fill="#0a0a0a" stroke="#0a0a0a" stroke-width="0.16">4.9</text>
<rect x="398.8" y="26" width="105.4" height="75.8" fill="none" stroke="#777" stroke-width="0.9"/>
<path d="M398.8 27V101" stroke="#444" stroke-width="1.2" stroke-dasharray="0.7 1.6" fill="none"/>
<text x="398" y="30.8" font-size="8.2" text-anchor="end" fill="#0a0a0a" stroke="#0a0a0a" stroke-width="0.16">10</text>
<text x="396.5" y="68.8" font-size="8.2" text-anchor="end" fill="#0a0a0a" stroke="#0a0a0a" stroke-width="0.16">1</text>
<text x="397.6" y="106.4" font-size="8.2" text-anchor="end" fill="#0a0a0a" stroke="#0a0a0a" stroke-width="0.16">0.1</text>
<text x="418.8" y="112.6" font-size="8.4" text-anchor="middle" fill="#0a0a0a" stroke="#0a0a0a" stroke-width="0.16">SPL</text>
<text x="452.5" y="112.6" font-size="8.4" text-anchor="middle" fill="#0a0a0a" stroke="#0a0a0a" stroke-width="0.16">LN</text>
<text x="488.5" y="112.6" font-size="8.4" text-anchor="middle" fill="#0a0a0a" stroke="#0a0a0a" stroke-width="0.16">mLN</text>
<text x="403.7" y="94.6" font-size="8.4" text-anchor="start" fill="#0a0a0a" stroke="#0a0a0a" stroke-width="0.16">CD8</text>
<circle cx="416.3" cy="56.3" r="1.9" fill="#fff" stroke="#222" stroke-width="1.0"/>
<text x="416.3" y="53.2" font-size="7" text-anchor="middle" fill="#0a0a0a" stroke="#0a0a0a" stroke-width="0.16">*</text>
<path d="M416.3 65.6V77M415.0 65.6h2.6M415.0 77h2.6" stroke="#222" stroke-width="0.9" fill="none"/>
<circle cx="416.3" cy="70.6" r="2.1" fill="#000"/>
<text x="421.3" y="62.6" font-size="8.4" text-anchor="start" fill="#0a0a0a" stroke="#0a0a0a" stroke-width="0.16">1.5</text>
<text x="421.3" y="76.4" font-size="8.4" text-anchor="start" fill="#0a0a0a" stroke="#0a0a0a" stroke-width="0.16">0.7</text>
<path d="M451.8 78.6V92.4M450.5 78.6h2.6M450.5 92.4h2.6" stroke="#222" stroke-width="0.9" fill="none"/>
<circle cx="451.8" cy="75.6" r="1.9" fill="#fff" stroke="#222" stroke-width="1.0"/>
<circle cx="451.8" cy="83.8" r="2.1" fill="#000"/>
<text x="455" y="81.4" font-size="8.4" text-anchor="start" fill="#0a0a0a" stroke="#0a0a0a" stroke-width="0.16">0.5</text>
<text x="455" y="92.6" font-size="8.4" text-anchor="start" fill="#0a0a0a" stroke="#0a0a0a" stroke-width="0.16">0.3</text>
<circle cx="487" cy="66.3" r="1.9" fill="#fff" stroke="#222" stroke-width="1.0"/>
<text x="487" y="63.2" font-size="7" text-anchor="middle" fill="#0a0a0a" stroke="#0a0a0a" stroke-width="0.16">*</text>
<path d="M487 73.8V87.4M485.7 73.8h2.6M485.7 87.4h2.6" stroke="#222" stroke-width="0.9" fill="none"/>
<circle cx="487" cy="79.4" r="2.1" fill="#000"/>
<text x="490.6" y="71.4" font-size="8.4" text-anchor="start" fill="#0a0a0a" stroke="#0a0a0a" stroke-width="0.16">0.9</text>
<text x="490" y="92.6" font-size="8.4" text-anchor="start" fill="#0a0a0a" stroke="#0a0a0a" stroke-width="0.16">0.4</text>
<text x="15.8" y="150.7" font-size="11.2" text-anchor="start" font-weight="bold" fill="#000" stroke="#000" stroke-width="0.16">B</text>
<text x="8.4" y="176.3" font-size="10" text-anchor="start" fill="#0a0a0a" stroke="#0a0a0a" stroke-width="0.16">sham</text>
<text x="-1.6" y="229" font-size="10" text-anchor="start" fill="#0a0a0a" stroke="#0a0a0a" stroke-width="0.16">IL-15 pump</text>
<text x="99.6" y="149.6" font-size="9.7" text-anchor="middle" fill="#0a0a0a" stroke="#0a0a0a" stroke-width="0.16">SPL</text>
<text x="150" y="149.6" font-size="9.7" text-anchor="middle" fill="#0a0a0a" stroke="#0a0a0a" stroke-width="0.16">LN</text>
<text x="212" y="149.6" font-size="9.7" text-anchor="middle" fill="#0a0a0a" stroke="#0a0a0a" stroke-width="0.16">mLN</text>
<path d="M62 196.5V166" stroke="#000" stroke-width="1.8" fill="none"/>
<path d="M62 160.5l-3 6.5h6z" fill="#000"/>
<text transform="translate(65.4 206) rotate(-90)" font-size="9.2" text-anchor="middle" fill="#0a0a0a" stroke="#0a0a0a" stroke-width="0.16">CD4</text>
<path d="M62 215.5V250" stroke="#000" stroke-width="1.8" fill="none"/>
<path d="M89.3 268.8H143" stroke="#000" stroke-width="2" fill="none"/>
<text x="156.2" y="272" font-size="9.7" text-anchor="middle" fill="#0a0a0a" stroke="#0a0a0a" stroke-width="0.16">Ly 5.1</text>
<path d="M169.5 268.8H218" stroke="#000" stroke-width="2" fill="none"/>
<path d="M223.4 268.8l-6.5-2.8v5.6z" fill="#000"/>
<clipPath id="c7"><rect x="73.3" y="154.2" width="55.7" height="51.60000000000002"/></clipPath>
<g clip-path="url(#c7)">
<rect x="71.3" y="188.5" width="10.600000000000009" height="16.100000000000023" fill="#000" fill-opacity="1.0" filter="url(#b1)"/>
<ellipse cx="78.25" cy="202.7" rx="6.75" ry="3.3000000000000114" transform="rotate(0 78.25 202.7)" fill="#000" fill-opacity="0.95" filter="url(#b1h)"/>
<ellipse cx="84.1" cy="202.8" rx="8.1" ry="2.7000000000000113" transform="rotate(0 84.1 202.8)" fill="#000" fill-opacity="0.4275" filter="url(#b2)"/>
<ellipse cx="88" cy="184.5" rx="9" ry="3.2" transform="rotate(-12 88 184.5)" fill="#000" fill-opacity="0.38" filter="url(#b2)"/>
<ellipse cx="81.65" cy="186.0" rx="10.350000000000001" ry="5.7" transform="rotate(-12 81.65 186.0)" fill="#000" fill-opacity="0.22" filter="url(#b3)"/>
<ellipse cx="105.0" cy="166.2" rx="6.0" ry="2.6" transform="rotate(-35 105.0 166.2)" fill="#000" fill-opacity="1.0" filter="url(#b1)"/>
<ellipse cx="105.6" cy="165.79999999999998" rx="4.5" ry="2.4699999999999998" transform="rotate(-35 105.6 165.79999999999998)" fill="#000" fill-opacity="1.0" filter="url(#b1)"/>
<ellipse cx="105.5" cy="193.2" rx="1.3" ry="5.2" transform="rotate(0 105.5 193.2)" fill="#000" fill-opacity="0.45" filter="url(#b1)"/>
<ellipse cx="105.5" cy="193.2" rx="3.4" ry="7.2" transform="rotate(0 105.5 193.2)" fill="#000" fill-opacity="0.225" filter="url(#b2)"/>
<path d="M85.3 164.3h0.8M106.9 170.9h0.8M115.3 183.8h0.8M118.6 158.7h0.8M119.6 180.4h0.8M107.9 166.5h0.8M111.4 175.2h0.8M112.8 184.3h0.8M81.0 169.7h0.8M114.4 155.0h0.8M107.9 182.3h0.8M112.4 171.2h0.8M99.4 178.8h0.8M114.3 158.0h0.8M101.2 167.6h0.8M105.5 167.6h0.8M84.6 166.2h0.8M122.2 173.0h0.8M92.7 200.7h0.8M83.0 204.5h0.8M100.8 202.7h0.8M81.7 201.9h0.8M75.7 202.3h0.8M81.3 201.3h0.8M92.6 201.3h0.8M96.0 203.8h0.8M88.7 201.6h0.8M80.7 199.4h0.8M86.1 202.1h0.8M86.9 201.5h0.8M87.6 200.2h0.8M91.7 197.6h0.8M93.2 202.0h0.8M83.1 200.1h0.8M77.2 203.6h0.8M79.1 202.4h0.8M83.1 205.6h0.8M90.4 200.5h0.8M80.9 200.7h0.8M74.5 201.4h0.8M91.9 202.6h0.8M88.9 202.3h0.8M81.3 202.6h0.8M83.7 205.5h0.8M96.7 203.1h0.8M88.4 199.4h0.8M78.6 203.8h0.8M92.7 201.9h0.8M82.6 201.8h0.8M89.7 202.5h0.8M94.7 204.3h0.8M82.1 201.6h0.8M82.6 201.1h0.8M81.3 202.4h0.8M90.4 200.1h0.8M74.5 201.3h0.8M82.1 203.2h0.8M78.7 204.8h0.8M80.5 202.2h0.8M84.6 204.3h0.8M86.3 202.5h0.8M80.4 202.8h0.8M87.0 202.0h0.8M84.0 199.7h0.8M80.5 204.3h0.8M94.1 202.4h0.8M81.3 204.1h0.8M79.9 204.6h0.8M75.1 188.9h0.8M101.9 170.3h0.8M83.4 180.6h0.8M82.9 184.2h0.8M88.2 186.0h0.8M91.0 185.7h0.8M96.7 183.9h0.8M76.9 187.9h0.8M78.3 181.5h0.8M106.0 176.7h0.8M81.1 174.6h0.8M82.3 187.6h0.8M80.7 182.0h0.8M99.7 176.2h0.8M79.9 184.4h0.8M82.7 188.8h0.8M90.0 180.9h0.8M79.4 184.0h0.8M102.1 175.3h0.8M88.7 174.3h0.8M88.4 185.0h0.8M98.4 179.6h0.8M90.7 182.5h0.8M98.7 187.6h0.8M84.8 179.3h0.8M90.2 180.6h0.8M92.0 184.1h0.8M84.8 181.0h0.8M85.3 177.1h0.8M85.5 178.7h0.8M88.9 182.1h0.8M79.5 179.4h0.8M83.3 180.5h0.8M83.2 186.9h0.8M92.4 174.3h0.8M96.2 185.3h0.8M96.7 180.0h0.8M85.4 191.0h0.8M77.9 178.5h0.8M85.2 184.3h0.8M105.9 175.9h0.8M91.6 177.9h0.8M97.7 175.3h0.8M80.7 184.7h0.8M79.1 189.3h0.8M86.8 186.4h0.8M80.0 174.9h0.8M94.8 183.5h0.8M80.3 176.4h0.8M78.9 187.1h0.8M98.6 176.5h0.8M76.4 182.5h0.8M96.4 182.9h0.8M113.3 184.6h0.8M86.2 184.5h0.8M76.1 178.8h0.8M78.2 182.3h0.8M102.0 181.2h0.8M100.0 178.1h0.8M79.1 184.8h0.8M86.3 181.1h0.8M104.0 182.9h0.8M93.0 178.5h0.8M86.1 185.2h0.8M87.5 187.0h0.8M95.7 179.1h0.8M89.9 181.6h0.8M85.0 180.8h0.8M81.1 190.0h0.8M80.7 184.4h0.8M98.5 182.7h0.8M79.8 186.1h0.8M87.3 182.2h0.8M86.1 184.3h0.8M83.9 181.1h0.8M101.3 176.0h0.8M75.8 184.1h0.8M74.2 191.2h0.8M94.7 182.1h0.8M95.2 178.9h0.8M88.6 174.5h0.8M90.7 187.2h0.8M91.3 181.0h0.8M89.8 185.2h0.8M83.2 182.7h0.8M86.8 180.9h0.8M109.4 170.5h0.8M94.8 177.5h0.8M85.2 181.9h0.8M84.7 176.3h0.8M83.9 180.7h0.8M96.8 181.6h0.8M91.9 186.1h0.8M92.1 179.7h0.8M92.6 169.2h0.8M76.4 181.6h0.8M87.3 183.5h0.8M83.3 186.6h0.8M91.7 177.9h0.8M92.8 175.8h0.8M101.5 170.9h0.8M79.0 180.1h0.8M86.2 188.7h0.8M78.1 193.8h0.8M100.2 179.3h0.8M78.6 189.6h0.8M94.5 179.4h0.8M110.6 170.5h0.8M92.9 188.1h0.8M96.9 175.5h0.8M76.9 180.3h0.8M93.6 183.8h0.8M90.8 182.1h0.8M94.7 178.9h0.8M93.1 183.9h0.8M99.2 180.3h0.8M85.8 186.0h0.8M102.2 177.4h0.8M82.2 184.4h0.8M76.7 190.7h0.8M73.7 197.5h0.8M76.2 189.6h0.8M82.9 166.6h0.8M75.6 178.6h0.8M81.4 175.3h0.8M80.4 179.3h0.8M75.9 178.6h0.8M89.2 173.8h0.8M76.4 182.8h0.8M85.6 185.4h0.8M77.9 177.7h0.8M81.1 176.8h0.8M81.9 185.7h0.8M82.5 178.1h0.8M79.6 190.5h0.8M75.6 192.0h0.8M83.2 178.8h0.8M77.4 190.8h0.8M85.1 184.5h0.8M88.5 165.8h0.8M80.7 176.1h0.8M77.5 178.7h0.8M82.5 181.8h0.8M79.8 169.1h0.8M82.5 182.4h0.8M88.7 184.6h0.8M80.4 170.3h0.8M91.0 173.5h0.8M81.1 183.4h0.8M82.3 187.4h0.8M76.3 173.4h0.8M81.0 169.7h0.8M77.9 187.8h0.8M81.5 177.5h0.8M78.1 178.5h0.8M80.2 170.8h0.8M83.5 169.4h0.8M85.4 175.9h0.8M81.5 172.2h0.8M87.5 187.8h0.8M103.8 172.0h0.8M93.6 172.7h0.8M97.5 171.1h0.8M95.9 173.2h0.8M105.4 169.9h0.8M95.0 171.1h0.8M100.1 170.0h0.8M96.8 173.4h0.8M100.1 171.5h0.8M98.4 172.8h0.8M96.0 169.7h0.8M97.1 168.7h0.8M101.9 170.2h0.8M93.6 173.1h0.8M100.1 169.1h0.8M98.8 169.3h0.8M97.8 170.7h0.8M98.7 168.7h0.8M95.2 172.6h0.8M97.0 172.1h0.8M95.8 169.4h0.8M100.2 170.1h0.8M99.8 169.3h0.8M97.9 173.0h0.8M94.6 175.4h0.8M99.4 170.0h0.8M98.7 171.5h0.8M96.1 172.1h0.8M103.2 184.3h0.8M106.0 193.7h0.8M107.1 195.9h0.8M107.2 197.0h0.8M103.0 199.1h0.8M112.0 190.5h0.8M102.5 196.5h0.8M107.7 198.1h0.8M109.2 186.5h0.8M106.4 195.4h0.8M108.5 188.9h0.8M105.6 191.4h0.8M105.1 192.5h0.8M105.1 184.7h0.8M105.4 193.5h0.8M104.6 176.1h0.8M103.8 190.1h0.8M103.4 200.9h0.8M107.7 192.3h0.8M103.2 195.5h0.8M104.1 200.4h0.8M108.2 192.6h0.8M107.0 189.4h0.8M101.7 197.3h0.8M109.5 191.7h0.8M104.2 184.6h0.8M110.7 187.4h0.8M103.2 192.3h0.8M108.4 193.5h0.8M105.5 193.3h0.8M107.6 193.0h0.8M105.9 192.8h0.8M102.8 199.7h0.8M103.8 186.8h0.8M104.5 193.4h0.8M107.5 186.1h0.8M102.4 194.1h0.8M106.4 187.9h0.8M102.8 194.0h0.8M105.2 185.4h0.8M103.4 200.4h0.8M103.0 198.3h0.8M101.8 200.4h0.8M109.4 190.1h0.8M103.9 196.2h0.8M102.5 195.9h0.8M108.4 194.5h0.8M106.3 192.4h0.8M107.9 189.3h0.8M109.3 193.1h0.8M104.7 185.3h0.8M104.4 194.3h0.8M108.5 185.4h0.8M105.2 189.9h0.8M102.6 193.2h0.8M103.7 197.4h0.8M99.0 196.8h0.8M100.9 183.8h0.8M106.8 191.6h0.8M105.8 188.5h0.8M103.0 189.7h0.8M105.4 189.1h0.8M104.5 189.1h0.8M106.1 187.7h0.8M100.5 180.5h0.8M105.5 193.7h0.8M107.8 189.6h0.8M102.8 186.0h0.8M107.3 190.2h0.8M107.9 192.8h0.8M104.8 184.2h0.8M103.9 197.0h0.8M104.0 196.5h0.8M101.5 198.1h0.8M112.2 198.6h0.8M106.3 187.3h0.8M104.2 190.0h0.8M105.9 183.5h0.8M103.4 197.0h0.8M105.9 196.8h0.8M107.6 187.7h0.8M102.3 195.4h0.8M105.6 193.6h0.8M103.5 198.1h0.8M106.7 198.7h0.8M104.6 196.5h0.8M105.4 188.7h0.8M105.3 185.2h0.8M105.1 194.1h0.8M107.2 188.1h0.8M102.3 189.7h0.8M100.5 190.1h0.8M111.8 193.9h0.8M103.7 189.9h0.8M109.8 187.6h0.8M105.2 192.8h0.8M103.7 189.7h0.8M101.5 189.2h0.8M108.6 200.0h0.8M104.8 196.6h0.8M106.6 193.7h0.8M105.2 199.1h0.8M106.9 192.1h0.8M104.9 197.7h0.8M104.1 189.7h0.8M104.8 190.8h0.8M108.5 194.9h0.8M105.3 190.7h0.8M108.9 195.3h0.8M110.5 197.6h0.8M105.0 190.6h0.8M104.8 194.1h0.8M107.4 195.5h0.8M109.3 185.9h0.8M105.6 186.4h0.8M103.0 190.3h0.8M103.9 188.5h0.8M101.8 198.7h0.8M104.7 197.8h0.8M102.8 182.0h0.8" stroke="#000" stroke-width="0.8" stroke-opacity="0.36" fill="none"/>
<path d="M95.4 180.2h0.8M98.4 189.6h0.8M86.0 181.9h0.8M89.8 183.1h0.8M77.4 184.1h0.8M89.0 180.4h0.8M95.7 184.0h0.8M87.6 188.1h0.8M82.2 187.5h0.8M78.7 185.7h0.8M92.2 182.3h0.8M87.6 186.2h0.8M99.1 185.5h0.8M91.1 183.2h0.8M79.1 190.7h0.8M99.7 176.5h0.8M94.0 183.1h0.8M93.0 184.2h0.8M86.8 184.8h0.8M88.4 187.4h0.8M86.0 183.5h0.8M92.8 185.1h0.8M91.2 184.5h0.8M98.6 185.1h0.8M89.4 183.7h0.8M91.6 179.0h0.8M84.2 183.5h0.8M89.0 183.3h0.8M105.2 182.7h0.8M92.0 189.4h0.8M87.9 183.7h0.8M96.8 184.7h0.8M95.0 186.1h0.8M85.3 183.4h0.8M83.2 185.8h0.8M94.3 180.5h0.8M83.8 182.0h0.8M102.0 183.6h0.8M88.9 181.2h0.8M80.8 184.4h0.8M87.6 181.3h0.8M87.2 187.8h0.8M88.2 184.7h0.8M73.7 186.8h0.8M86.7 183.0h0.8M78.7 186.3h0.8M80.9 184.6h0.8M77.2 186.6h0.8M93.8 181.1h0.8M89.5 180.3h0.8M92.3 185.0h0.8M85.9 187.2h0.8M82.2 185.9h0.8M99.4 182.0h0.8M81.1 188.9h0.8M91.6 183.0h0.8M74.8 182.5h0.8M78.5 190.3h0.8M89.6 182.0h0.8M96.6 186.4h0.8M113.7 162.3h0.8M109.2 161.7h0.8M109.3 162.1h0.8M103.3 164.0h0.8M105.7 166.7h0.8M103.5 164.5h0.8M109.4 165.4h0.8M105.7 167.7h0.8M107.5 162.0h0.8M102.7 163.1h0.8M101.8 169.5h0.8M102.3 169.1h0.8M103.9 161.8h0.8M105.1 170.0h0.8M105.2 166.3h0.8M100.6 165.3h0.8M102.6 175.1h0.8M103.3 165.2h0.8M103.2 162.6h0.8M112.2 165.5h0.8M102.7 168.6h0.8M102.8 169.9h0.8M101.8 168.1h0.8M110.5 163.7h0.8M102.0 164.4h0.8M100.6 172.3h0.8M107.0 164.9h0.8M109.8 163.2h0.8M102.3 167.9h0.8M104.7 166.4h0.8M114.9 160.7h0.8M105.8 165.0h0.8M101.4 166.2h0.8M97.6 170.2h0.8M97.3 166.9h0.8M99.2 165.1h0.8M111.6 164.7h0.8M103.9 172.1h0.8M104.5 160.2h0.8M103.9 164.4h0.8M98.3 170.2h0.8M109.8 164.0h0.8M98.9 168.8h0.8M103.6 170.1h0.8M103.5 164.8h0.8M99.3 165.2h0.8M103.0 169.9h0.8M98.2 171.4h0.8M105.6 167.9h0.8M101.9 170.7h0.8" stroke="#000" stroke-width="0.8" stroke-opacity="0.6" fill="none"/>
</g>
<text x="79.7" y="173.2" font-size="9.9" text-anchor="start" fill="#000" stroke="#000" stroke-width="0.16">11.4</text>
<rect x="79.9" y="188.2" width="14.799999999999997" height="11.0" fill="#fff"/>
<text x="80.0" y="197.7" font-size="9.9" text-anchor="start" fill="#000" stroke="#000" stroke-width="0.16">3.3</text>
<ellipse cx="105.8" cy="166.9" rx="8.3" ry="5.6" transform="rotate(-27 105.8 166.9)" fill="none" stroke="#222" stroke-width="0.8"/>
<ellipse cx="105.5" cy="193.2" rx="7.4" ry="11.2" transform="rotate(0 105.5 193.2)" fill="none" stroke="#222" stroke-width="0.8"/>
<clipPath id="c8"><rect x="129.0" y="154.2" width="55.400000000000006" height="51.60000000000002"/></clipPath>
<g clip-path="url(#c8)">
<rect x="127.0" y="185.4" width="9.800000000000011" height="19.200000000000017" fill="#000" fill-opacity="0.75" filter="url(#b1)"/>
<ellipse cx="133.95" cy="201.3" rx="6.75" ry="4.700000000000003" transform="rotate(0 133.95 201.3)" fill="#000" fill-opacity="0.55" filter="url(#b1h)"/>
<ellipse cx="139.8" cy="201.40000000000003" rx="8.1" ry="4.100000000000003" transform="rotate(0 139.8 201.40000000000003)" fill="#000" fill-opacity="0.24750000000000003" filter="url(#b2)"/>
<ellipse cx="140.5" cy="183" rx="5" ry="1.8" transform="rotate(-8 140.5 183)" fill="#000" fill-opacity="0.55" filter="url(#b2)"/>
<ellipse cx="135.75" cy="184.5" rx="8.75" ry="4.3" transform="rotate(-8 135.75 184.5)" fill="#000" fill-opacity="0.22" filter="url(#b3)"/>
<ellipse cx="160.9" cy="166.9" rx="5.6" ry="3.2" transform="rotate(-42 160.9 166.9)" fill="#000" fill-opacity="1.0" filter="url(#b1)"/>
<ellipse cx="161.5" cy="166.5" rx="4.199999999999999" ry="3.04" transform="rotate(-42 161.5 166.5)" fill="#000" fill-opacity="1.0" filter="url(#b1)"/>
<ellipse cx="161.7" cy="190.9" rx="1.3" ry="5.2" transform="rotate(0 161.7 190.9)" fill="#000" fill-opacity="0.42" filter="url(#b1)"/>
<ellipse cx="161.7" cy="190.9" rx="3.4" ry="7.2" transform="rotate(0 161.7 190.9)" fill="#000" fill-opacity="0.21" filter="url(#b2)"/>
<path d="M147.7 176.6h0.8M150.9 165.0h0.8M148.3 194.9h0.8M139.2 178.8h0.8M144.5 184.0h0.8M171.1 160.2h0.8M155.5 163.9h0.8M164.2 189.2h0.8M141.0 166.1h0.8M145.5 171.1h0.8M177.6 199.3h0.8M172.1 174.5h0.8M153.9 164.6h0.8M154.0 203.3h0.8M134.0 174.5h0.8M139.6 197.8h0.8M145.4 179.3h0.8M131.8 189.8h0.8M137.7 198.5h0.8M139.4 202.3h0.8M137.9 200.8h0.8M150.4 200.1h0.8M133.0 201.2h0.8M147.9 202.1h0.8M140.3 200.3h0.8M148.7 202.5h0.8M144.2 200.1h0.8M130.5 200.6h0.8M136.1 198.3h0.8M139.6 203.0h0.8M130.6 200.5h0.8M152.9 201.4h0.8M135.8 201.4h0.8M145.4 199.5h0.8M139.1 198.5h0.8M145.9 201.6h0.8M145.1 203.0h0.8M140.1 201.5h0.8M142.7 201.8h0.8M132.1 200.7h0.8M138.7 201.2h0.8M134.4 200.9h0.8M141.9 201.4h0.8M144.0 202.4h0.8M143.8 202.6h0.8M145.9 203.3h0.8M144.3 200.1h0.8M156.6 202.9h0.8M148.8 202.3h0.8M140.1 199.3h0.8M142.9 200.5h0.8M136.9 197.7h0.8M151.0 199.2h0.8M131.9 201.8h0.8M143.9 199.8h0.8M139.7 201.5h0.8M140.9 201.9h0.8M145.4 200.5h0.8M137.0 199.5h0.8M145.2 202.0h0.8M135.3 204.9h0.8M139.5 201.6h0.8M142.1 200.7h0.8M142.1 199.0h0.8M136.9 204.1h0.8M146.1 200.4h0.8M135.6 198.7h0.8M138.9 200.8h0.8M136.6 184.1h0.8M134.4 188.5h0.8M136.1 176.9h0.8M154.0 162.1h0.8M134.8 182.5h0.8M149.5 183.1h0.8M154.9 183.2h0.8M141.1 181.3h0.8M148.0 178.1h0.8M145.4 182.1h0.8M138.6 174.5h0.8M144.0 184.5h0.8M142.7 178.7h0.8M131.3 189.7h0.8M140.0 181.1h0.8M132.1 179.1h0.8M150.2 181.1h0.8M133.2 191.0h0.8M133.9 178.6h0.8M149.8 184.3h0.8M131.9 178.3h0.8M133.3 171.9h0.8M140.6 188.3h0.8M139.4 177.9h0.8M144.2 177.3h0.8M150.0 175.8h0.8M157.9 173.0h0.8M138.2 177.3h0.8M139.8 176.6h0.8M142.8 178.2h0.8M132.0 183.7h0.8M142.9 183.6h0.8M150.9 179.1h0.8M129.3 181.8h0.8M139.6 175.6h0.8M135.4 181.0h0.8M137.0 183.1h0.8M150.8 185.1h0.8M148.3 183.0h0.8M148.8 171.5h0.8M162.5 170.3h0.8M137.2 178.4h0.8M133.6 188.7h0.8M139.8 179.5h0.8M148.0 173.8h0.8M131.2 187.7h0.8M133.8 178.4h0.8M130.0 175.3h0.8M139.6 181.8h0.8M143.6 178.8h0.8M140.3 176.6h0.8M138.2 182.6h0.8M139.3 181.7h0.8M136.0 192.2h0.8M136.6 178.7h0.8M130.0 187.6h0.8M134.4 179.4h0.8M131.9 188.6h0.8M140.2 186.1h0.8M135.8 177.1h0.8M147.0 180.1h0.8M130.6 183.1h0.8M129.2 189.1h0.8M134.3 185.6h0.8M140.0 179.9h0.8M141.1 179.6h0.8M143.4 177.1h0.8M144.4 180.8h0.8M146.2 174.5h0.8M136.5 177.7h0.8M132.9 190.3h0.8M143.9 183.5h0.8M150.3 181.8h0.8M132.4 190.4h0.8M136.8 185.3h0.8M138.3 189.4h0.8M129.2 174.8h0.8M134.9 184.0h0.8M139.4 177.9h0.8M133.7 178.1h0.8M135.5 183.2h0.8M142.7 188.1h0.8M140.3 175.5h0.8M138.4 181.7h0.8M158.1 177.8h0.8M147.2 183.6h0.8M137.9 186.6h0.8M129.9 185.7h0.8M146.9 184.9h0.8M134.4 181.8h0.8M142.3 179.9h0.8M140.4 184.9h0.8M131.4 188.5h0.8M141.2 179.5h0.8M138.7 186.1h0.8M138.0 176.5h0.8M147.0 180.5h0.8M140.6 176.3h0.8M152.4 178.4h0.8M135.1 180.8h0.8M138.7 187.5h0.8M132.1 189.1h0.8M131.5 187.1h0.8M150.5 174.0h0.8M146.9 178.6h0.8M143.1 176.6h0.8M134.2 180.6h0.8M129.7 183.9h0.8M145.3 176.9h0.8M149.7 175.9h0.8M132.5 189.0h0.8M150.8 174.1h0.8M141.8 175.0h0.8M133.1 181.9h0.8M142.9 174.2h0.8M131.6 181.0h0.8M136.9 176.5h0.8M137.6 174.9h0.8M144.1 173.4h0.8M149.0 173.9h0.8M131.7 181.5h0.8M144.0 182.4h0.8M138.6 170.0h0.8M140.0 179.1h0.8M136.0 187.8h0.8M132.7 185.8h0.8M139.3 173.9h0.8M136.5 179.0h0.8M138.3 171.4h0.8M135.1 178.8h0.8M136.1 178.3h0.8M137.0 176.9h0.8M134.0 185.3h0.8M133.5 176.0h0.8M132.5 170.3h0.8M137.8 177.9h0.8M135.5 181.3h0.8M135.3 182.9h0.8M143.1 180.6h0.8M135.0 189.6h0.8M138.8 166.7h0.8M141.3 179.7h0.8M139.4 170.2h0.8M132.7 173.7h0.8M138.2 170.4h0.8M133.2 184.8h0.8M133.5 179.0h0.8M132.5 166.5h0.8M135.7 177.4h0.8M130.4 184.9h0.8M139.2 184.3h0.8M134.0 170.3h0.8M135.6 179.3h0.8M135.3 174.2h0.8M132.1 173.1h0.8M135.7 174.8h0.8M142.6 176.3h0.8M137.8 175.0h0.8M135.3 171.5h0.8M134.1 167.9h0.8M149.7 172.2h0.8M153.0 172.5h0.8M152.8 173.1h0.8M158.6 169.5h0.8M150.7 172.6h0.8M153.4 171.0h0.8M157.7 171.6h0.8M159.5 169.7h0.8M146.7 174.5h0.8M155.1 169.4h0.8M152.9 173.4h0.8M153.5 169.6h0.8M150.3 167.7h0.8M153.1 169.7h0.8M153.0 169.8h0.8M151.1 171.8h0.8M160.5 166.3h0.8M150.4 172.1h0.8M157.2 171.2h0.8M155.5 170.1h0.8M153.7 170.2h0.8M152.9 170.5h0.8M149.4 171.8h0.8M159.3 169.6h0.8M151.8 172.2h0.8M153.5 173.7h0.8M153.4 170.5h0.8M155.9 171.0h0.8M160.1 187.3h0.8M162.0 183.2h0.8M159.5 195.6h0.8M163.7 196.1h0.8M160.6 188.1h0.8M161.0 188.6h0.8M164.7 189.8h0.8M164.8 187.5h0.8M162.6 198.5h0.8M159.9 187.8h0.8M160.3 183.3h0.8M161.0 187.9h0.8M166.8 188.6h0.8M156.7 195.3h0.8M163.9 190.7h0.8M162.3 194.2h0.8M160.4 191.1h0.8M162.0 198.7h0.8M165.0 191.7h0.8M158.5 195.0h0.8M161.5 196.4h0.8M161.8 191.7h0.8M163.2 187.4h0.8M160.1 201.7h0.8M159.6 195.3h0.8M163.3 194.7h0.8M164.9 184.6h0.8M163.9 181.2h0.8M161.8 192.5h0.8M164.1 196.0h0.8M159.5 189.6h0.8M161.3 187.6h0.8M159.8 187.8h0.8M164.4 197.3h0.8M163.4 198.8h0.8M161.9 185.8h0.8M160.1 191.8h0.8M164.1 196.6h0.8M159.6 195.4h0.8M160.4 193.7h0.8M163.8 197.9h0.8M160.4 192.0h0.8M162.7 188.9h0.8M161.9 193.7h0.8M157.8 187.9h0.8M167.1 193.0h0.8M160.4 182.2h0.8M159.4 193.3h0.8M163.3 193.0h0.8M163.1 188.0h0.8M165.4 185.6h0.8M162.9 189.6h0.8M157.7 195.1h0.8M161.0 194.2h0.8M164.6 191.7h0.8M160.1 189.9h0.8M161.5 197.7h0.8M163.7 198.4h0.8M163.4 187.3h0.8M163.8 195.5h0.8M161.4 193.1h0.8M160.9 185.0h0.8M161.5 194.5h0.8M160.8 180.3h0.8M159.8 196.0h0.8M162.2 196.2h0.8M159.9 188.9h0.8M159.3 187.2h0.8M162.9 191.6h0.8M160.5 192.3h0.8M158.6 189.1h0.8M158.2 183.8h0.8M158.5 185.7h0.8M165.3 197.4h0.8M164.6 188.2h0.8M163.1 185.5h0.8M160.4 192.0h0.8M157.9 191.8h0.8M163.1 181.1h0.8M156.0 189.6h0.8M161.4 191.6h0.8M159.0 193.6h0.8M162.0 187.4h0.8M165.5 192.1h0.8M163.4 199.6h0.8M160.5 189.9h0.8M157.6 189.8h0.8M162.7 202.7h0.8M163.0 191.8h0.8M158.7 186.9h0.8M157.3 184.4h0.8M161.9 192.3h0.8M159.5 189.9h0.8M159.8 193.8h0.8M163.2 188.2h0.8M160.6 185.1h0.8M160.6 201.2h0.8M161.6 195.0h0.8M163.0 197.9h0.8M160.9 186.6h0.8M164.1 195.3h0.8M160.1 196.1h0.8M161.6 190.7h0.8M166.0 193.4h0.8M162.4 189.4h0.8M162.1 195.9h0.8M162.7 187.3h0.8M162.7 190.3h0.8M162.4 190.0h0.8M156.6 183.2h0.8M160.8 180.4h0.8M158.1 200.5h0.8M163.3 188.7h0.8M162.4 180.3h0.8M162.2 195.6h0.8M162.1 184.7h0.8M163.9 188.4h0.8M160.3 191.8h0.8M161.0 200.6h0.8M161.3 201.1h0.8" stroke="#000" stroke-width="0.8" stroke-opacity="0.36" fill="none"/>
<path d="M137.6 181.1h0.8M141.2 183.5h0.8M145.1 183.1h0.8M146.8 183.9h0.8M129.6 187.0h0.8M139.9 181.6h0.8M142.4 184.1h0.8M134.1 182.1h0.8M143.1 181.8h0.8M146.3 182.5h0.8M138.0 181.4h0.8M142.5 180.2h0.8M135.1 181.9h0.8M147.6 184.5h0.8M139.5 182.6h0.8M143.5 184.4h0.8M137.7 186.6h0.8M139.9 184.7h0.8M131.1 184.2h0.8M138.1 186.2h0.8M139.4 181.3h0.8M148.1 180.9h0.8M140.2 181.2h0.8M143.2 182.9h0.8M139.3 182.6h0.8M138.1 182.3h0.8M135.1 185.5h0.8M143.8 180.5h0.8M135.9 184.2h0.8M149.5 181.4h0.8M139.2 182.8h0.8M141.5 182.6h0.8M145.0 183.8h0.8M143.0 184.9h0.8M139.5 182.3h0.8M151.9 178.6h0.8M133.8 180.5h0.8M141.7 181.3h0.8M144.3 179.4h0.8M139.9 182.5h0.8M136.4 185.2h0.8M139.0 183.9h0.8M138.4 183.5h0.8M138.7 183.4h0.8M140.0 182.1h0.8M142.2 182.5h0.8M136.4 182.0h0.8M142.5 184.7h0.8M135.2 183.1h0.8M142.5 184.2h0.8M143.1 180.9h0.8M140.8 184.3h0.8M141.4 182.5h0.8M135.8 183.9h0.8M140.2 183.1h0.8M146.7 183.9h0.8M137.4 183.8h0.8M139.3 183.3h0.8M147.2 183.4h0.8M140.5 182.0h0.8M156.8 175.1h0.8M158.4 170.6h0.8M159.6 166.2h0.8M162.2 163.9h0.8M161.6 165.0h0.8M165.5 166.0h0.8M162.9 168.8h0.8M165.1 168.4h0.8M157.9 164.4h0.8M161.9 166.8h0.8M159.4 167.5h0.8M158.0 165.3h0.8M164.8 160.7h0.8M155.0 166.9h0.8M158.2 169.2h0.8M166.4 164.0h0.8M156.6 166.6h0.8M157.3 169.8h0.8M162.7 163.6h0.8M169.0 166.1h0.8M157.7 162.4h0.8M164.1 163.7h0.8M164.6 166.9h0.8M157.9 169.8h0.8M160.2 165.0h0.8M162.8 164.7h0.8M162.8 171.5h0.8M164.1 169.5h0.8M162.2 169.3h0.8M158.8 169.2h0.8M160.5 159.9h0.8M162.1 164.9h0.8M164.5 164.2h0.8M158.5 164.7h0.8M168.6 157.4h0.8M158.7 166.4h0.8M160.3 168.1h0.8M158.6 172.5h0.8M161.1 168.7h0.8M153.6 171.7h0.8M159.3 167.0h0.8M159.4 169.3h0.8M160.5 164.0h0.8M156.1 173.7h0.8M161.7 169.8h0.8M163.4 164.3h0.8M155.9 170.2h0.8M160.7 171.2h0.8M157.2 173.3h0.8M155.2 170.1h0.8" stroke="#000" stroke-width="0.8" stroke-opacity="0.6" fill="none"/>
</g>
<text x="135.1" y="173.7" font-size="9.9" text-anchor="start" fill="#000" stroke="#000" stroke-width="0.16">32.8</text>
<rect x="134.8" y="185.1" width="15.799999999999983" height="11.300000000000011" fill="#fff"/>
<text x="134.9" y="194.9" font-size="9.9" text-anchor="start" fill="#000" stroke="#000" stroke-width="0.16">7.6</text>
<ellipse cx="161.2" cy="167.2" rx="8.5" ry="6.2" transform="rotate(-30 161.2 167.2)" fill="none" stroke="#222" stroke-width="0.8"/>
<ellipse cx="161.7" cy="190.9" rx="7.3" ry="11.1" transform="rotate(0 161.7 190.9)" fill="none" stroke="#222" stroke-width="0.8"/>
<clipPath id="c9"><rect x="184.4" y="154.2" width="54.19999999999999" height="51.60000000000002"/></clipPath>
<g clip-path="url(#c9)">
<rect x="182.4" y="185.3" width="10.199999999999989" height="19.30000000000001" fill="#000" fill-opacity="0.95" filter="url(#b1)"/>
<ellipse cx="189.9" cy="201.25" rx="7.5" ry="4.75" transform="rotate(0 189.9 201.25)" fill="#000" fill-opacity="0.6" filter="url(#b1h)"/>
<ellipse cx="196.4" cy="201.35000000000002" rx="9.0" ry="4.15" transform="rotate(0 196.4 201.35000000000002)" fill="#000" fill-opacity="0.27" filter="url(#b2)"/>
<ellipse cx="197.3" cy="182.6" rx="5.8" ry="3.0" transform="rotate(-20 197.3 182.6)" fill="#000" fill-opacity="1.0" filter="url(#b2)"/>
<ellipse cx="191.85000000000002" cy="184.1" rx="9.450000000000003" ry="5.5" transform="rotate(-20 191.85000000000002 184.1)" fill="#000" fill-opacity="0.22" filter="url(#b3)"/>
<ellipse cx="215.8" cy="167.8" rx="5.8" ry="4.0" transform="rotate(-42 215.8 167.8)" fill="#000" fill-opacity="1.0" filter="url(#b1)"/>
<ellipse cx="216.4" cy="167.4" rx="4.35" ry="3.8" transform="rotate(-42 216.4 167.4)" fill="#000" fill-opacity="1.0" filter="url(#b1)"/>
<ellipse cx="216.5" cy="190.0" rx="1.3" ry="5.2" transform="rotate(0 216.5 190.0)" fill="#000" fill-opacity="0.75" filter="url(#b1)"/>
<ellipse cx="216.5" cy="190.0" rx="3.4" ry="7.2" transform="rotate(0 216.5 190.0)" fill="#000" fill-opacity="0.375" filter="url(#b2)"/>
<path d="M227.1 183.6h0.8M200.5 154.3h0.8M190.7 196.9h0.8M235.4 203.9h0.8M199.3 202.5h0.8M207.8 173.2h0.8M232.7 196.5h0.8M220.5 169.0h0.8M190.1 163.6h0.8M198.4 164.1h0.8M214.8 170.4h0.8M195.9 199.5h0.8M204.0 154.4h0.8M184.9 182.7h0.8M186.0 183.0h0.8M185.8 178.4h0.8M217.3 182.1h0.8M195.9 197.5h0.8M210.8 200.5h0.8M215.8 199.3h0.8M189.6 202.5h0.8M199.2 202.0h0.8M186.8 201.7h0.8M203.6 201.0h0.8M204.3 201.1h0.8M199.0 200.5h0.8M185.7 200.8h0.8M200.2 199.8h0.8M206.6 200.7h0.8M190.3 203.0h0.8M194.9 198.7h0.8M192.8 199.6h0.8M194.8 199.6h0.8M196.8 201.8h0.8M191.8 200.7h0.8M195.1 202.4h0.8M190.6 202.2h0.8M206.1 200.7h0.8M188.7 200.6h0.8M186.9 200.8h0.8M193.4 201.9h0.8M197.2 201.7h0.8M195.9 201.5h0.8M187.4 202.1h0.8M206.5 202.8h0.8M185.7 201.7h0.8M194.7 200.3h0.8M190.4 200.7h0.8M196.2 199.5h0.8M196.7 201.5h0.8M200.4 201.0h0.8M196.2 204.7h0.8M204.2 201.6h0.8M185.4 202.0h0.8M200.8 196.8h0.8M195.0 201.7h0.8M196.6 201.2h0.8M195.1 203.3h0.8M199.3 200.6h0.8M194.5 204.4h0.8M189.5 200.2h0.8M198.8 201.3h0.8M198.7 203.2h0.8M205.2 201.7h0.8M196.6 201.0h0.8M194.5 202.7h0.8M186.3 199.4h0.8M192.7 199.5h0.8M185.8 190.0h0.8M195.4 184.6h0.8M205.2 171.5h0.8M209.8 172.4h0.8M199.7 184.7h0.8M201.3 171.4h0.8M197.3 185.8h0.8M192.4 181.8h0.8M197.1 188.3h0.8M186.5 179.7h0.8M191.8 184.0h0.8M190.3 174.7h0.8M199.5 173.1h0.8M200.1 167.7h0.8M219.6 175.0h0.8M192.8 179.8h0.8M189.5 182.1h0.8M191.3 178.2h0.8M188.6 186.2h0.8M197.4 173.9h0.8M191.0 190.2h0.8M204.0 185.8h0.8M188.2 178.6h0.8M193.1 185.9h0.8M197.1 172.0h0.8M209.3 174.4h0.8M187.4 177.3h0.8M209.7 173.1h0.8M188.2 186.2h0.8M212.6 177.1h0.8M184.8 187.0h0.8M206.3 178.9h0.8M200.1 177.0h0.8M190.5 174.7h0.8M196.2 187.9h0.8M205.2 173.8h0.8M187.3 189.8h0.8M198.7 182.4h0.8M201.7 175.2h0.8M195.2 177.9h0.8M186.3 185.0h0.8M196.6 174.5h0.8M186.5 187.2h0.8M196.7 183.8h0.8M189.2 179.4h0.8M203.2 181.1h0.8M186.7 187.4h0.8M210.3 174.3h0.8M195.7 183.7h0.8M204.6 181.1h0.8M202.5 184.2h0.8M186.8 190.0h0.8M194.6 176.6h0.8M191.0 183.9h0.8M199.5 186.0h0.8M195.1 178.7h0.8M216.9 171.6h0.8M186.4 188.8h0.8M188.1 179.9h0.8M188.6 182.6h0.8M185.3 185.5h0.8M202.0 183.7h0.8M188.2 178.1h0.8M194.4 182.0h0.8M186.9 187.4h0.8M190.4 185.8h0.8M196.4 171.4h0.8M193.3 187.9h0.8M188.5 184.2h0.8M190.6 176.9h0.8M217.2 172.5h0.8M200.1 177.2h0.8M210.8 181.0h0.8M208.1 181.0h0.8M203.6 184.7h0.8M198.4 180.6h0.8M201.2 174.7h0.8M194.4 178.0h0.8M189.5 178.6h0.8M185.1 185.7h0.8M196.5 184.7h0.8M193.8 184.7h0.8M200.2 176.0h0.8M190.3 180.4h0.8M216.7 170.1h0.8M197.8 176.5h0.8M199.4 173.6h0.8M204.4 178.7h0.8M187.7 178.2h0.8M211.0 172.6h0.8M205.7 165.8h0.8M213.2 174.7h0.8M205.6 180.3h0.8M190.2 183.6h0.8M196.3 184.2h0.8M193.7 175.8h0.8M203.1 178.7h0.8M201.5 177.5h0.8M192.6 187.1h0.8M206.8 171.2h0.8M197.8 180.5h0.8M184.8 189.8h0.8M196.2 181.8h0.8M197.2 177.9h0.8M198.4 180.6h0.8M202.2 180.4h0.8M192.8 187.6h0.8M188.6 189.0h0.8M206.9 181.1h0.8M218.2 172.8h0.8M199.2 185.5h0.8M199.8 184.2h0.8M194.6 188.1h0.8M194.7 172.2h0.8M205.3 176.6h0.8M192.6 187.6h0.8M197.4 180.1h0.8M192.3 177.9h0.8M186.2 182.2h0.8M189.6 177.6h0.8M189.8 185.3h0.8M193.2 178.3h0.8M192.8 176.6h0.8M186.6 184.5h0.8M200.4 181.9h0.8M194.2 195.5h0.8M186.5 182.0h0.8M190.0 176.4h0.8M184.8 177.7h0.8M193.0 167.1h0.8M190.5 174.9h0.8M187.4 182.7h0.8M198.0 181.2h0.8M195.5 183.6h0.8M191.1 182.4h0.8M196.7 175.3h0.8M190.8 168.7h0.8M195.0 180.8h0.8M192.4 187.5h0.8M191.7 183.7h0.8M196.9 172.6h0.8M187.9 181.1h0.8M191.2 174.2h0.8M190.9 173.3h0.8M191.9 175.6h0.8M198.2 171.1h0.8M193.7 178.8h0.8M197.8 171.6h0.8M189.5 190.3h0.8M188.8 175.7h0.8M189.8 171.5h0.8M196.3 188.8h0.8M190.8 173.1h0.8M186.0 182.9h0.8M189.3 182.1h0.8M193.9 181.2h0.8M191.9 178.2h0.8M190.0 175.2h0.8M192.0 181.8h0.8M195.1 176.8h0.8M209.0 171.3h0.8M209.5 174.8h0.8M203.4 173.1h0.8M208.6 170.8h0.8M211.6 173.3h0.8M211.7 172.3h0.8M209.0 174.0h0.8M205.8 171.6h0.8M207.9 172.3h0.8M211.5 169.3h0.8M211.4 169.7h0.8M204.2 171.5h0.8M207.7 170.3h0.8M209.4 172.1h0.8M206.4 170.1h0.8M207.7 173.6h0.8M204.4 175.6h0.8M208.5 171.5h0.8M209.8 173.0h0.8M208.2 171.2h0.8M210.5 170.3h0.8M210.4 173.2h0.8M213.4 172.9h0.8M211.7 171.2h0.8M208.4 172.8h0.8M212.2 175.9h0.8M210.0 170.3h0.8M211.9 168.1h0.8M218.9 184.0h0.8M213.9 187.6h0.8M215.8 183.6h0.8M218.0 189.5h0.8M219.7 185.2h0.8M212.1 193.3h0.8M216.0 194.7h0.8M210.9 184.1h0.8M216.7 199.3h0.8M213.5 181.0h0.8M215.4 196.7h0.8M220.3 183.6h0.8M215.0 181.3h0.8M214.5 185.5h0.8M217.5 195.4h0.8M222.2 188.3h0.8M218.5 191.1h0.8M216.8 199.2h0.8M218.2 197.4h0.8M217.2 194.1h0.8M217.7 189.6h0.8M214.8 188.1h0.8M216.5 188.2h0.8M215.7 186.7h0.8M218.6 188.9h0.8M216.2 189.0h0.8M219.7 187.5h0.8M219.9 185.9h0.8M220.2 192.9h0.8M215.3 192.2h0.8M219.2 185.5h0.8M216.0 191.5h0.8M216.0 188.6h0.8M216.6 191.5h0.8M218.4 197.0h0.8M215.7 204.0h0.8M215.7 198.5h0.8M216.2 183.1h0.8M215.5 188.4h0.8M219.1 180.4h0.8M215.0 189.4h0.8M218.1 191.9h0.8M218.6 189.3h0.8M215.9 195.8h0.8M220.6 191.8h0.8M216.9 186.0h0.8M221.6 191.9h0.8M218.0 182.4h0.8M218.0 201.6h0.8M216.1 189.1h0.8M220.2 189.1h0.8M218.5 199.2h0.8M213.7 186.1h0.8M218.1 190.6h0.8M216.6 189.2h0.8M216.8 191.7h0.8M215.4 188.7h0.8M217.1 184.9h0.8M217.6 179.6h0.8M218.0 189.4h0.8M213.7 196.4h0.8M213.7 199.8h0.8M214.8 195.8h0.8M216.4 197.7h0.8M216.0 194.9h0.8M215.7 181.1h0.8M217.4 192.3h0.8M217.5 198.0h0.8M214.7 183.2h0.8M217.1 186.7h0.8M216.3 190.0h0.8M214.6 195.2h0.8M216.2 198.5h0.8M217.1 195.0h0.8M215.8 186.9h0.8M215.2 185.8h0.8M217.6 190.7h0.8M213.9 182.7h0.8M214.5 181.3h0.8M214.4 182.8h0.8M218.2 184.5h0.8M215.1 189.4h0.8M216.6 192.0h0.8M218.3 193.1h0.8M215.7 196.0h0.8M217.4 186.7h0.8M220.1 184.4h0.8M217.6 196.0h0.8M216.8 191.7h0.8M216.8 193.2h0.8M217.0 190.1h0.8M218.2 181.0h0.8M217.1 188.6h0.8M221.2 191.4h0.8M214.9 193.1h0.8M215.6 184.4h0.8M215.8 192.4h0.8M219.3 195.0h0.8M217.1 189.2h0.8M217.0 195.8h0.8M216.2 195.5h0.8M214.6 190.0h0.8M218.4 193.4h0.8M217.0 187.6h0.8M212.2 187.9h0.8M214.5 188.1h0.8M220.3 186.4h0.8M218.5 189.9h0.8M213.9 190.5h0.8M218.3 184.4h0.8M213.8 188.2h0.8M218.2 187.2h0.8M217.5 192.2h0.8M216.5 192.2h0.8M219.5 189.1h0.8M217.3 185.0h0.8M214.8 189.5h0.8M218.4 186.8h0.8M213.2 194.4h0.8M222.1 177.8h0.8" stroke="#000" stroke-width="0.8" stroke-opacity="0.36" fill="none"/>
<path d="M195.1 186.5h0.8M188.1 187.4h0.8M191.4 184.1h0.8M194.0 181.3h0.8M190.9 185.1h0.8M196.5 185.7h0.8M205.0 179.1h0.8M193.6 183.2h0.8M200.0 184.0h0.8M193.5 185.2h0.8M198.1 185.2h0.8M195.3 182.8h0.8M192.5 181.0h0.8M199.0 183.8h0.8M202.3 181.5h0.8M194.5 181.3h0.8M191.7 182.8h0.8M198.8 182.3h0.8M187.3 186.0h0.8M195.2 180.7h0.8M197.6 183.8h0.8M191.7 181.2h0.8M196.1 183.7h0.8M197.4 186.5h0.8M197.1 180.1h0.8M200.1 179.9h0.8M200.3 181.8h0.8M201.7 178.4h0.8M200.7 182.4h0.8M193.9 185.6h0.8M207.3 179.9h0.8M193.8 183.5h0.8M203.1 181.2h0.8M203.1 178.8h0.8M201.6 177.0h0.8M196.3 182.2h0.8M196.2 186.1h0.8M195.0 184.4h0.8M205.9 181.6h0.8M194.9 181.6h0.8M188.9 186.6h0.8M202.0 183.7h0.8M200.1 187.1h0.8M198.7 176.2h0.8M194.1 185.8h0.8M196.2 185.1h0.8M207.7 176.9h0.8M206.8 179.0h0.8M191.0 185.1h0.8M200.7 179.9h0.8M203.4 178.2h0.8M197.2 185.0h0.8M195.9 181.7h0.8M197.7 184.1h0.8M205.9 182.9h0.8M205.4 179.6h0.8M190.0 185.1h0.8M194.7 181.0h0.8M195.0 183.3h0.8M198.3 184.6h0.8M217.8 162.1h0.8M224.1 164.5h0.8M220.4 175.5h0.8M223.9 167.4h0.8M211.7 171.1h0.8M219.6 168.9h0.8M213.3 164.6h0.8M219.4 163.9h0.8M216.6 165.8h0.8M212.5 164.9h0.8M216.7 164.4h0.8M210.9 174.0h0.8M217.8 170.2h0.8M215.9 162.6h0.8M215.3 168.3h0.8M213.9 165.1h0.8M218.2 169.9h0.8M222.9 167.6h0.8M212.9 159.7h0.8M213.8 167.3h0.8M209.7 179.9h0.8M218.8 165.1h0.8M218.0 167.9h0.8M218.0 171.7h0.8M223.5 164.4h0.8M214.6 170.0h0.8M220.5 166.7h0.8M215.6 172.1h0.8M219.4 167.1h0.8M214.4 169.0h0.8M209.6 173.3h0.8M213.8 168.4h0.8M214.2 167.9h0.8M216.3 167.8h0.8M213.6 169.3h0.8M216.6 169.3h0.8M216.5 165.7h0.8M209.7 166.4h0.8M212.6 172.4h0.8M216.2 174.3h0.8M214.5 167.4h0.8M214.2 167.0h0.8M213.9 169.8h0.8M211.4 172.4h0.8M213.6 166.0h0.8M219.9 165.7h0.8M217.9 163.1h0.8M209.3 168.7h0.8M206.7 168.0h0.8M219.9 162.1h0.8" stroke="#000" stroke-width="0.8" stroke-opacity="0.6" fill="none"/>
</g>
<text x="190.20000000000002" y="173.5" font-size="9.9" text-anchor="start" fill="#000" stroke="#000" stroke-width="0.16">37.7</text>
<rect x="190.6" y="185.0" width="13.5" height="11.300000000000011" fill="#fff"/>
<text x="190.7" y="194.8" font-size="9.9" text-anchor="start" fill="#000" stroke="#000" stroke-width="0.16">7.7</text>
<ellipse cx="216.2" cy="167.4" rx="8.3" ry="6.6" transform="rotate(-30 216.2 167.4)" fill="none" stroke="#222" stroke-width="0.8"/>
<ellipse cx="216.5" cy="190.0" rx="7.5" ry="11.2" transform="rotate(0 216.5 190.0)" fill="none" stroke="#222" stroke-width="0.8"/>
<clipPath id="c10"><rect x="73.3" y="205.8" width="55.7" height="52.69999999999999"/></clipPath>
<g clip-path="url(#c10)">
<rect x="71.3" y="241.60000000000002" width="10.700000000000003" height="15.699999999999989" fill="#000" fill-opacity="1.0" filter="url(#b1)"/>
<ellipse cx="77.7" cy="255.39999999999998" rx="6.0" ry="3.299999999999997" transform="rotate(0 77.7 255.39999999999998)" fill="#000" fill-opacity="0.9" filter="url(#b1h)"/>
<ellipse cx="82.89999999999999" cy="255.5" rx="7.2" ry="2.699999999999997" transform="rotate(0 82.89999999999999 255.5)" fill="#000" fill-opacity="0.405" filter="url(#b2)"/>
<ellipse cx="90" cy="237.5" rx="5" ry="2.4" transform="rotate(-25 90 237.5)" fill="#000" fill-opacity="0.4" filter="url(#b2)"/>
<ellipse cx="82.65" cy="239.0" rx="11.350000000000001" ry="4.9" transform="rotate(-25 82.65 239.0)" fill="#000" fill-opacity="0.22" filter="url(#b3)"/>
<ellipse cx="104.3" cy="219.4" rx="4.6" ry="2.3" transform="rotate(-25 104.3 219.4)" fill="#000" fill-opacity="1.0" filter="url(#b1)"/>
<ellipse cx="104.89999999999999" cy="219.0" rx="3.4499999999999997" ry="2.1849999999999996" transform="rotate(-25 104.89999999999999 219.0)" fill="#000" fill-opacity="1.0" filter="url(#b1)"/>
<ellipse cx="104.7" cy="244.4" rx="1.3" ry="5.2" transform="rotate(0 104.7 244.4)" fill="#000" fill-opacity="0.5" filter="url(#b1)"/>
<ellipse cx="104.7" cy="244.4" rx="3.4" ry="7.2" transform="rotate(0 104.7 244.4)" fill="#000" fill-opacity="0.25" filter="url(#b2)"/>
<path d="M99.6 228.1h0.8M118.5 228.2h0.8M84.4 231.0h0.8M90.0 219.4h0.8M115.6 224.2h0.8M107.5 221.8h0.8M79.5 247.0h0.8M115.7 242.9h0.8M106.7 215.0h0.8M100.7 249.7h0.8M116.2 236.9h0.8M107.8 214.8h0.8M76.3 250.4h0.8M74.3 219.2h0.8M95.2 242.7h0.8M111.4 251.5h0.8M124.2 220.1h0.8M86.9 212.2h0.8M81.5 255.9h0.8M91.0 254.7h0.8M80.7 255.2h0.8M87.0 254.6h0.8M83.4 254.1h0.8M82.5 256.1h0.8M77.8 254.9h0.8M73.8 254.1h0.8M83.4 256.0h0.8M76.5 255.0h0.8M77.1 255.7h0.8M84.6 255.9h0.8M81.6 253.0h0.8M79.4 253.1h0.8M78.7 255.1h0.8M89.7 254.2h0.8M78.1 255.5h0.8M89.0 256.7h0.8M82.3 256.4h0.8M80.8 256.7h0.8M78.8 253.9h0.8M85.3 254.5h0.8M87.1 253.8h0.8M84.6 253.7h0.8M76.2 253.3h0.8M93.0 254.5h0.8M88.7 254.9h0.8M79.0 258.4h0.8M89.6 252.3h0.8M76.8 255.9h0.8M87.0 254.9h0.8M84.9 256.1h0.8M80.7 256.8h0.8M77.6 256.4h0.8M88.6 255.5h0.8M80.8 255.2h0.8M74.1 252.0h0.8M87.7 253.8h0.8M85.1 255.3h0.8M81.2 255.9h0.8M83.4 253.2h0.8M79.6 255.4h0.8M75.0 254.5h0.8M79.5 251.9h0.8M93.6 256.6h0.8M80.0 256.7h0.8M76.4 257.6h0.8M80.6 255.4h0.8M79.3 255.3h0.8M85.0 255.3h0.8M78.3 234.0h0.8M108.7 218.2h0.8M73.7 245.8h0.8M87.2 240.9h0.8M86.5 244.4h0.8M84.1 236.2h0.8M90.6 236.0h0.8M82.3 239.0h0.8M76.1 241.2h0.8M80.4 240.9h0.8M88.0 231.0h0.8M79.2 232.6h0.8M87.2 239.4h0.8M90.5 233.0h0.8M85.0 238.5h0.8M90.7 238.7h0.8M75.7 229.3h0.8M78.3 237.4h0.8M80.3 240.0h0.8M83.6 243.0h0.8M76.9 239.3h0.8M83.5 247.0h0.8M81.2 241.4h0.8M84.5 235.7h0.8M81.7 236.4h0.8M106.7 230.2h0.8M91.3 238.7h0.8M82.4 244.4h0.8M95.8 229.7h0.8M96.3 227.0h0.8M103.1 226.1h0.8M93.5 232.3h0.8M79.7 235.4h0.8M94.1 236.0h0.8M94.1 231.7h0.8M77.6 249.3h0.8M105.3 228.1h0.8M86.4 236.1h0.8M95.6 234.2h0.8M89.1 244.4h0.8M83.0 238.4h0.8M112.6 224.4h0.8M96.7 235.1h0.8M87.5 233.1h0.8M92.9 234.8h0.8M103.7 233.5h0.8M104.0 231.8h0.8M85.8 233.2h0.8M117.5 230.9h0.8M85.3 234.5h0.8M93.8 239.6h0.8M92.5 238.1h0.8M88.4 236.8h0.8M85.2 236.0h0.8M82.2 238.9h0.8M77.2 238.3h0.8M77.4 237.2h0.8M106.5 233.4h0.8M80.8 240.6h0.8M89.7 237.4h0.8M76.2 239.6h0.8M98.0 232.5h0.8M87.8 238.1h0.8M74.0 231.4h0.8M95.4 231.7h0.8M100.1 240.5h0.8M100.2 237.6h0.8M90.1 236.2h0.8M94.3 236.1h0.8M96.3 230.3h0.8M78.2 241.4h0.8M94.3 233.1h0.8M78.1 230.4h0.8M77.8 234.2h0.8M78.3 240.5h0.8M92.1 250.5h0.8M82.6 242.0h0.8M91.9 231.4h0.8M76.4 240.4h0.8M90.9 233.5h0.8M82.7 237.3h0.8M91.9 234.1h0.8M83.8 238.3h0.8M80.7 241.9h0.8M99.4 235.1h0.8M89.4 240.6h0.8M83.9 236.0h0.8M98.3 227.0h0.8M92.4 227.7h0.8M91.1 242.8h0.8M83.4 231.4h0.8M88.0 234.6h0.8M93.7 230.7h0.8M93.5 238.1h0.8M88.1 235.4h0.8M92.9 232.6h0.8M79.3 239.5h0.8M97.5 229.5h0.8M89.8 231.6h0.8M75.7 240.6h0.8M76.8 250.4h0.8M92.3 234.1h0.8M89.1 231.9h0.8M97.0 230.1h0.8M92.6 231.1h0.8M92.3 231.1h0.8M80.9 235.3h0.8M76.8 236.3h0.8M103.1 229.5h0.8M101.9 235.5h0.8M83.0 236.4h0.8M78.8 239.2h0.8M90.4 234.4h0.8M107.9 236.0h0.8M84.9 239.2h0.8M83.5 238.1h0.8M90.8 239.6h0.8M90.8 236.8h0.8M82.3 240.4h0.8M94.1 236.3h0.8M75.1 238.4h0.8M80.5 236.2h0.8M80.2 225.0h0.8M90.7 234.3h0.8M83.3 226.7h0.8M79.4 237.4h0.8M82.0 241.7h0.8M85.0 222.5h0.8M74.1 237.7h0.8M82.6 228.1h0.8M79.1 226.0h0.8M87.4 228.7h0.8M74.8 236.0h0.8M79.9 232.2h0.8M78.7 229.6h0.8M77.5 227.2h0.8M81.5 238.5h0.8M82.4 236.7h0.8M76.6 232.0h0.8M81.8 236.1h0.8M77.8 228.6h0.8M78.2 237.5h0.8M84.6 226.8h0.8M79.7 231.3h0.8M76.6 229.1h0.8M83.7 235.1h0.8M77.5 225.5h0.8M79.8 219.9h0.8M81.5 230.7h0.8M74.9 228.3h0.8M77.6 228.0h0.8M76.7 239.0h0.8M76.4 235.0h0.8M81.1 239.6h0.8M80.0 229.9h0.8M80.5 217.2h0.8M89.8 228.4h0.8M79.0 222.3h0.8M79.7 240.7h0.8M77.2 232.8h0.8M100.3 221.2h0.8M101.2 222.0h0.8M96.0 223.9h0.8M91.8 227.0h0.8M93.3 224.8h0.8M95.0 225.4h0.8M99.2 223.1h0.8M98.0 224.3h0.8M102.0 222.7h0.8M101.5 221.9h0.8M97.8 222.6h0.8M98.3 222.0h0.8M98.1 222.5h0.8M97.1 226.1h0.8M98.2 224.8h0.8M95.4 221.7h0.8M101.1 221.8h0.8M96.1 226.1h0.8M93.7 224.4h0.8M99.9 221.5h0.8M100.1 222.1h0.8M96.7 224.3h0.8M96.6 226.0h0.8M100.3 222.7h0.8M99.3 223.9h0.8M100.8 219.7h0.8M100.6 223.9h0.8M96.4 224.4h0.8M103.8 250.1h0.8M101.9 247.2h0.8M107.7 247.1h0.8M103.5 242.4h0.8M99.6 239.8h0.8M107.3 240.2h0.8M100.7 243.4h0.8M101.1 246.5h0.8M102.6 248.8h0.8M104.4 238.1h0.8M102.8 241.6h0.8M102.6 250.1h0.8M102.3 246.1h0.8M103.3 247.1h0.8M101.2 237.4h0.8M105.9 250.9h0.8M101.3 243.1h0.8M103.4 240.2h0.8M107.0 244.7h0.8M101.3 243.5h0.8M107.8 241.3h0.8M103.4 240.7h0.8M105.0 242.0h0.8M106.8 240.7h0.8M101.2 246.5h0.8M97.1 240.2h0.8M105.3 245.6h0.8M103.3 242.5h0.8M102.7 243.7h0.8M103.6 247.0h0.8M104.7 247.0h0.8M108.6 243.2h0.8M104.0 246.2h0.8M109.7 242.9h0.8M108.7 249.8h0.8M98.1 240.0h0.8M102.3 246.3h0.8M107.8 244.7h0.8M105.1 254.3h0.8M105.5 254.2h0.8M102.5 251.9h0.8M103.4 233.5h0.8M102.7 242.3h0.8M104.6 247.9h0.8M106.3 246.8h0.8M102.9 252.5h0.8M107.5 244.6h0.8M103.3 244.3h0.8M104.1 241.3h0.8M104.6 241.5h0.8M106.2 241.5h0.8M105.8 245.9h0.8M105.1 246.8h0.8M102.2 256.1h0.8M103.0 247.8h0.8M104.7 242.5h0.8M108.8 249.5h0.8M104.0 247.0h0.8M106.3 251.6h0.8M107.1 243.7h0.8M104.1 239.2h0.8M105.3 248.4h0.8M103.7 247.5h0.8M105.0 242.4h0.8M101.7 249.5h0.8M110.7 247.0h0.8M102.1 239.8h0.8M105.3 247.4h0.8M108.3 233.5h0.8M109.1 245.2h0.8M105.0 246.2h0.8M103.8 243.2h0.8M107.2 236.6h0.8M104.4 247.0h0.8M100.7 243.7h0.8M108.3 246.2h0.8M106.4 247.7h0.8M105.2 246.1h0.8M102.7 243.5h0.8M109.1 238.9h0.8M104.3 238.7h0.8M103.4 241.0h0.8M101.7 245.6h0.8M102.4 246.9h0.8M109.0 232.8h0.8M104.3 234.9h0.8M104.4 246.2h0.8M105.2 250.0h0.8M105.1 236.6h0.8M108.3 240.2h0.8M104.5 245.9h0.8M102.6 244.9h0.8M108.3 236.8h0.8M100.7 242.4h0.8M104.3 238.6h0.8M99.2 248.6h0.8M105.6 238.4h0.8M106.1 244.2h0.8M105.1 238.4h0.8M104.2 246.7h0.8M100.5 239.7h0.8M107.0 253.6h0.8M106.3 244.1h0.8M102.1 242.6h0.8M104.1 246.5h0.8M104.1 255.8h0.8M107.9 234.4h0.8M101.9 244.5h0.8M107.0 246.3h0.8M98.1 236.9h0.8M107.9 247.2h0.8M110.8 248.1h0.8M105.8 251.5h0.8M103.6 242.0h0.8M102.3 245.6h0.8M105.7 248.7h0.8M108.2 247.3h0.8M107.6 243.3h0.8M102.4 247.8h0.8M107.1 250.6h0.8" stroke="#000" stroke-width="0.8" stroke-opacity="0.36" fill="none"/>
<path d="M87.7 240.2h0.8M92.0 236.6h0.8M93.1 234.5h0.8M94.4 235.1h0.8M95.0 234.3h0.8M89.3 238.3h0.8M95.0 238.2h0.8M87.8 237.0h0.8M93.7 238.4h0.8M92.2 235.8h0.8M94.5 235.4h0.8M91.1 238.3h0.8M86.2 234.6h0.8M91.3 238.4h0.8M92.0 237.7h0.8M91.4 239.0h0.8M91.6 239.9h0.8M90.8 238.8h0.8M88.3 238.9h0.8M91.6 237.0h0.8M95.5 235.0h0.8M94.2 236.3h0.8M93.1 234.2h0.8M89.5 239.7h0.8M87.5 239.5h0.8M92.2 236.9h0.8M92.0 237.7h0.8M89.5 238.6h0.8M87.8 237.6h0.8M84.4 239.9h0.8M84.1 240.3h0.8M89.9 235.3h0.8M90.5 237.9h0.8M88.1 236.5h0.8M89.9 238.4h0.8M94.8 239.3h0.8M83.4 241.3h0.8M91.0 235.7h0.8M92.8 240.6h0.8M91.5 239.7h0.8M93.4 235.0h0.8M82.8 243.3h0.8M94.0 232.0h0.8M88.8 236.6h0.8M90.8 237.3h0.8M93.5 234.6h0.8M95.4 231.4h0.8M92.9 241.7h0.8M90.2 238.7h0.8M91.0 243.9h0.8M92.9 235.4h0.8M83.5 241.0h0.8M90.9 232.8h0.8M88.7 239.3h0.8M81.4 241.1h0.8M83.4 237.8h0.8M92.3 238.8h0.8M93.6 234.5h0.8M90.4 233.6h0.8M85.2 240.9h0.8M108.2 219.4h0.8M101.7 217.2h0.8M105.9 219.8h0.8M102.9 219.2h0.8M108.5 214.4h0.8M102.2 219.2h0.8M98.9 220.6h0.8M102.7 222.6h0.8M97.8 219.8h0.8M103.9 216.6h0.8M97.5 221.4h0.8M99.8 219.6h0.8M104.1 220.4h0.8M102.0 219.9h0.8M106.4 218.2h0.8M106.1 217.4h0.8M106.7 220.8h0.8M102.2 226.2h0.8M103.0 219.4h0.8M104.1 220.4h0.8M100.5 221.3h0.8M103.5 222.6h0.8M99.3 223.0h0.8M102.7 218.7h0.8M104.5 218.9h0.8M104.6 219.8h0.8M107.7 217.1h0.8M107.5 212.7h0.8M110.8 218.7h0.8M109.3 217.5h0.8M104.4 217.4h0.8M107.6 215.7h0.8M101.8 220.6h0.8M105.2 219.6h0.8M100.4 220.6h0.8M106.7 220.6h0.8M106.9 219.0h0.8M103.0 219.0h0.8M102.6 220.0h0.8M105.5 217.9h0.8M109.9 214.9h0.8M106.6 217.9h0.8M103.5 219.1h0.8M108.8 216.7h0.8M106.1 218.8h0.8M107.0 219.3h0.8M108.9 215.9h0.8M102.9 223.3h0.8M108.3 217.7h0.8M103.5 220.3h0.8" stroke="#000" stroke-width="0.8" stroke-opacity="0.6" fill="none"/>
</g>
<text x="77.4" y="226.3" font-size="9.9" text-anchor="start" fill="#000" stroke="#000" stroke-width="0.16">15.1</text>
<rect x="80.0" y="241.3" width="14.599999999999994" height="10.599999999999994" fill="#fff"/>
<text x="80.1" y="250.4" font-size="9.9" text-anchor="start" fill="#000" stroke="#000" stroke-width="0.16">5.4</text>
<ellipse cx="105.0" cy="220.3" rx="8.5" ry="6.5" transform="rotate(-15 105.0 220.3)" fill="none" stroke="#222" stroke-width="0.8"/>
<ellipse cx="104.7" cy="244.4" rx="7.6" ry="11.2" transform="rotate(0 104.7 244.4)" fill="none" stroke="#222" stroke-width="0.8"/>
<clipPath id="c11"><rect x="129.0" y="205.8" width="55.400000000000006" height="52.69999999999999"/></clipPath>
<g clip-path="url(#c11)">
<rect x="127.0" y="239.70000000000002" width="7.699999999999989" height="17.599999999999994" fill="#000" fill-opacity="0.5" filter="url(#b1)"/>
<ellipse cx="133.4" cy="254.35" rx="6.0" ry="4.349999999999994" transform="rotate(0 133.4 254.35)" fill="#000" fill-opacity="0.5" filter="url(#b1h)"/>
<ellipse cx="138.6" cy="254.45000000000002" rx="7.2" ry="3.7499999999999942" transform="rotate(0 138.6 254.45000000000002)" fill="#000" fill-opacity="0.225" filter="url(#b2)"/>
<ellipse cx="139.6" cy="235" rx="6" ry="3.2" transform="rotate(-5 139.6 235)" fill="#000" fill-opacity="0.75" filter="url(#b2)"/>
<ellipse cx="135.3" cy="236.5" rx="8.299999999999997" ry="5.7" transform="rotate(-5 135.3 236.5)" fill="#000" fill-opacity="0.22" filter="url(#b3)"/>
<ellipse cx="160.3" cy="220.2" rx="4.8" ry="3.6" transform="rotate(-35 160.3 220.2)" fill="#000" fill-opacity="1.0" filter="url(#b1)"/>
<ellipse cx="160.9" cy="219.79999999999998" rx="3.5999999999999996" ry="3.42" transform="rotate(-35 160.9 219.79999999999998)" fill="#000" fill-opacity="1.0" filter="url(#b1)"/>
<ellipse cx="159.5" cy="245.6" rx="1.3" ry="5.2" transform="rotate(0 159.5 245.6)" fill="#000" fill-opacity="0.65" filter="url(#b1)"/>
<ellipse cx="159.5" cy="245.6" rx="3.4" ry="7.2" transform="rotate(0 159.5 245.6)" fill="#000" fill-opacity="0.325" filter="url(#b2)"/>
<path d="M166.6 211.3h0.8M149.6 212.3h0.8M167.1 206.6h0.8M176.4 209.2h0.8M174.4 215.9h0.8M157.8 243.3h0.8M180.1 251.9h0.8M137.3 243.5h0.8M152.4 214.6h0.8M154.1 255.2h0.8M130.1 242.6h0.8M158.5 252.3h0.8M154.9 218.9h0.8M175.3 211.5h0.8M166.5 221.3h0.8M131.9 214.6h0.8M175.2 214.1h0.8M179.0 213.6h0.8M140.5 253.9h0.8M134.3 252.5h0.8M137.3 252.4h0.8M141.3 257.4h0.8M146.5 252.4h0.8M137.9 253.2h0.8M143.5 251.9h0.8M140.6 254.5h0.8M142.2 254.8h0.8M139.6 251.4h0.8M136.5 252.7h0.8M142.0 253.8h0.8M139.6 255.9h0.8M137.9 256.8h0.8M144.0 251.9h0.8M134.8 256.0h0.8M135.4 256.0h0.8M135.0 254.0h0.8M145.2 251.7h0.8M139.1 253.5h0.8M139.7 256.8h0.8M141.7 252.1h0.8M144.8 253.5h0.8M139.7 255.9h0.8M136.6 255.6h0.8M139.7 252.8h0.8M136.6 252.1h0.8M146.2 254.4h0.8M144.8 252.4h0.8M144.0 252.3h0.8M140.4 254.1h0.8M134.8 254.6h0.8M138.8 252.8h0.8M133.8 252.1h0.8M147.4 254.4h0.8M136.3 255.2h0.8M133.1 252.4h0.8M140.9 256.6h0.8M140.5 254.4h0.8M149.8 251.8h0.8M158.2 252.5h0.8M138.1 252.1h0.8M130.8 253.8h0.8M154.3 252.7h0.8M134.6 254.6h0.8M132.1 253.8h0.8M143.8 250.8h0.8M136.7 253.7h0.8M135.3 254.0h0.8M135.3 252.6h0.8M150.6 225.0h0.8M139.4 237.9h0.8M167.2 228.9h0.8M132.4 236.5h0.8M138.5 234.3h0.8M141.4 231.1h0.8M136.7 227.8h0.8M136.4 241.3h0.8M138.6 230.5h0.8M140.2 237.8h0.8M130.2 234.5h0.8M135.6 231.9h0.8M138.5 234.0h0.8M140.8 235.8h0.8M148.4 232.0h0.8M143.7 232.7h0.8M142.3 236.6h0.8M152.5 237.9h0.8M136.0 238.4h0.8M146.3 232.7h0.8M138.0 227.9h0.8M146.5 226.5h0.8M129.7 232.8h0.8M141.3 228.1h0.8M142.6 234.7h0.8M137.8 232.2h0.8M145.0 237.3h0.8M131.3 231.3h0.8M130.2 232.5h0.8M134.8 234.2h0.8M142.8 223.6h0.8M141.7 239.4h0.8M135.9 238.8h0.8M138.9 229.1h0.8M146.0 228.0h0.8M140.1 231.1h0.8M135.4 235.4h0.8M147.6 222.4h0.8M146.4 229.8h0.8M136.3 236.8h0.8M151.2 224.7h0.8M142.7 225.9h0.8M149.6 233.9h0.8M143.7 227.8h0.8M140.8 235.9h0.8M149.6 234.2h0.8M134.6 235.0h0.8M142.8 235.5h0.8M134.7 232.6h0.8M129.4 241.6h0.8M133.2 219.7h0.8M139.8 230.5h0.8M132.8 238.0h0.8M129.4 230.5h0.8M144.1 230.6h0.8M137.0 233.9h0.8M141.6 237.0h0.8M147.7 229.6h0.8M142.2 227.9h0.8M148.0 225.6h0.8M136.8 235.7h0.8M134.4 235.2h0.8M134.5 243.8h0.8M143.4 231.2h0.8M143.1 235.8h0.8M132.5 236.6h0.8M138.4 231.0h0.8M129.5 235.9h0.8M133.8 233.4h0.8M143.7 232.0h0.8M155.1 231.5h0.8M132.8 232.5h0.8M141.6 230.7h0.8M134.1 234.1h0.8M143.5 232.6h0.8M155.7 223.9h0.8M136.8 235.6h0.8M132.3 233.4h0.8M152.0 221.9h0.8M138.0 225.6h0.8M137.7 225.0h0.8M152.3 229.1h0.8M138.0 228.6h0.8M131.9 229.8h0.8M136.3 234.0h0.8M139.6 236.8h0.8M133.1 233.5h0.8M138.9 239.7h0.8M135.9 229.5h0.8M133.0 231.5h0.8M135.8 237.2h0.8M156.8 233.9h0.8M153.1 228.7h0.8M137.1 235.1h0.8M132.5 231.4h0.8M141.2 226.1h0.8M132.4 231.9h0.8M144.2 238.0h0.8M134.4 234.4h0.8M144.1 235.9h0.8M148.3 233.1h0.8M131.7 238.5h0.8M134.8 227.1h0.8M150.1 232.0h0.8M150.4 228.9h0.8M144.2 231.2h0.8M140.2 237.1h0.8M138.8 236.3h0.8M138.8 239.1h0.8M141.1 225.0h0.8M153.9 230.0h0.8M131.5 233.3h0.8M156.6 227.4h0.8M143.1 234.6h0.8M134.1 243.2h0.8M156.4 223.5h0.8M145.8 223.4h0.8M134.2 235.4h0.8M138.6 236.1h0.8M141.7 234.1h0.8M135.5 231.8h0.8M133.8 243.0h0.8M136.2 238.1h0.8M136.4 228.8h0.8M135.3 221.1h0.8M144.3 232.6h0.8M136.5 226.7h0.8M141.1 227.6h0.8M134.2 226.2h0.8M142.1 231.9h0.8M135.4 225.5h0.8M141.1 231.7h0.8M134.7 235.8h0.8M139.5 223.1h0.8M140.6 237.1h0.8M135.0 220.9h0.8M140.4 227.5h0.8M135.2 227.9h0.8M134.9 235.4h0.8M131.7 233.4h0.8M140.6 236.9h0.8M138.9 231.6h0.8M135.2 229.0h0.8M132.5 241.0h0.8M135.6 223.1h0.8M139.3 239.9h0.8M137.1 227.7h0.8M131.6 234.1h0.8M135.1 225.4h0.8M138.4 221.2h0.8M138.9 213.6h0.8M133.6 220.3h0.8M135.1 235.1h0.8M130.9 238.9h0.8M133.3 226.6h0.8M139.9 224.9h0.8M141.8 228.5h0.8M135.7 223.4h0.8M140.6 229.4h0.8M134.1 223.5h0.8M153.5 221.9h0.8M153.8 223.0h0.8M153.5 222.3h0.8M155.5 223.3h0.8M148.4 224.6h0.8M152.5 222.3h0.8M154.6 224.9h0.8M152.6 227.4h0.8M157.4 223.3h0.8M154.9 224.7h0.8M153.5 226.8h0.8M150.4 221.9h0.8M153.7 225.2h0.8M154.9 222.1h0.8M156.5 221.8h0.8M155.5 224.9h0.8M154.6 226.0h0.8M153.4 228.1h0.8M154.4 223.5h0.8M160.3 221.4h0.8M150.0 228.6h0.8M157.1 222.0h0.8M151.5 227.4h0.8M152.9 223.3h0.8M152.2 225.3h0.8M157.0 225.6h0.8M152.8 227.5h0.8M149.9 227.5h0.8M159.3 247.6h0.8M158.6 242.4h0.8M160.3 250.7h0.8M154.5 245.8h0.8M158.7 240.7h0.8M156.5 248.0h0.8M160.9 248.5h0.8M155.0 238.7h0.8M158.2 243.6h0.8M163.7 243.9h0.8M159.9 250.1h0.8M163.5 247.3h0.8M160.4 254.4h0.8M158.7 237.5h0.8M157.9 244.2h0.8M162.6 247.0h0.8M162.4 246.1h0.8M159.7 243.0h0.8M156.7 247.9h0.8M160.4 248.2h0.8M158.4 243.7h0.8M160.5 248.4h0.8M164.2 241.6h0.8M161.9 249.6h0.8M159.0 246.2h0.8M159.5 252.6h0.8M165.5 247.1h0.8M159.0 249.9h0.8M160.7 244.8h0.8M161.3 249.6h0.8M158.7 249.5h0.8M154.4 239.8h0.8M158.9 246.3h0.8M156.2 252.3h0.8M158.7 246.3h0.8M159.5 249.0h0.8M158.3 249.0h0.8M157.7 238.9h0.8M160.8 246.3h0.8M161.6 236.8h0.8M159.9 242.7h0.8M159.2 243.8h0.8M158.7 242.6h0.8M162.0 237.8h0.8M155.7 247.2h0.8M164.3 242.1h0.8M157.5 240.3h0.8M157.2 251.3h0.8M161.2 249.7h0.8M160.4 246.7h0.8M158.3 241.2h0.8M161.0 256.9h0.8M158.7 251.4h0.8M158.0 245.8h0.8M163.5 245.3h0.8M161.1 243.1h0.8M164.0 240.0h0.8M160.9 244.5h0.8M160.1 247.3h0.8M162.7 249.6h0.8M162.0 247.3h0.8M157.1 251.7h0.8M163.2 247.8h0.8M161.4 244.6h0.8M156.3 250.1h0.8M157.9 254.3h0.8M161.2 245.5h0.8M158.2 246.1h0.8M157.3 243.9h0.8M163.3 244.3h0.8M163.9 245.2h0.8M160.6 241.4h0.8M158.9 243.6h0.8M156.4 254.4h0.8M161.0 245.2h0.8M157.1 245.8h0.8M157.2 241.2h0.8M159.2 255.5h0.8M155.6 248.2h0.8M158.3 232.4h0.8M156.3 245.0h0.8M159.7 242.2h0.8M163.7 248.1h0.8M158.1 238.1h0.8M160.0 242.5h0.8M162.0 240.8h0.8M162.4 243.5h0.8M160.0 244.4h0.8M161.0 250.9h0.8M158.3 241.5h0.8M164.0 250.0h0.8M164.0 250.0h0.8M159.9 253.1h0.8M158.0 243.7h0.8M158.7 248.7h0.8M157.6 244.8h0.8M157.6 244.5h0.8M162.2 250.7h0.8M159.1 257.3h0.8M158.0 247.7h0.8M158.5 235.5h0.8M156.8 251.3h0.8M159.3 246.8h0.8M162.5 245.7h0.8M158.1 242.8h0.8M157.4 248.1h0.8M158.5 248.0h0.8M156.1 243.6h0.8M164.4 247.3h0.8M159.3 251.0h0.8M160.2 252.6h0.8M156.9 249.1h0.8M157.1 248.7h0.8M165.3 252.6h0.8M157.6 247.5h0.8M160.6 242.3h0.8M160.1 240.7h0.8M161.8 249.8h0.8M159.2 248.8h0.8M165.1 244.9h0.8" stroke="#000" stroke-width="0.8" stroke-opacity="0.36" fill="none"/>
<path d="M146.1 239.4h0.8M143.2 232.5h0.8M146.5 235.6h0.8M135.8 236.8h0.8M137.0 236.7h0.8M144.3 237.5h0.8M134.5 235.1h0.8M139.4 232.0h0.8M141.7 236.5h0.8M132.9 234.2h0.8M134.0 232.3h0.8M134.8 238.8h0.8M136.3 234.3h0.8M144.6 237.1h0.8M145.9 229.3h0.8M142.8 230.3h0.8M136.5 234.2h0.8M137.3 240.1h0.8M139.1 238.0h0.8M138.7 234.9h0.8M142.1 235.9h0.8M141.6 230.5h0.8M142.1 235.6h0.8M142.5 234.6h0.8M141.3 231.6h0.8M144.8 231.5h0.8M146.5 236.9h0.8M139.2 234.3h0.8M143.3 233.9h0.8M134.0 236.2h0.8M133.7 234.4h0.8M148.4 236.3h0.8M137.4 235.0h0.8M136.5 235.2h0.8M132.8 237.3h0.8M139.5 233.5h0.8M137.2 241.8h0.8M137.4 234.0h0.8M136.7 234.0h0.8M146.0 236.1h0.8M141.7 235.7h0.8M133.6 229.5h0.8M147.0 236.1h0.8M140.7 235.6h0.8M140.6 235.0h0.8M137.9 229.6h0.8M142.3 234.9h0.8M144.3 235.4h0.8M138.4 236.6h0.8M140.4 233.8h0.8M137.7 234.1h0.8M138.1 234.0h0.8M144.9 241.8h0.8M139.3 237.8h0.8M129.5 227.8h0.8M137.3 234.8h0.8M135.8 231.9h0.8M135.4 234.1h0.8M140.3 234.1h0.8M133.8 234.6h0.8M158.3 221.3h0.8M159.5 223.4h0.8M159.3 218.9h0.8M163.9 222.5h0.8M154.9 225.2h0.8M163.7 218.3h0.8M160.3 215.1h0.8M159.7 224.0h0.8M160.2 220.5h0.8M162.7 219.7h0.8M160.9 218.2h0.8M161.5 223.7h0.8M156.7 217.9h0.8M160.7 222.9h0.8M165.8 216.9h0.8M159.5 222.8h0.8M163.1 222.2h0.8M163.0 220.8h0.8M162.5 220.1h0.8M157.5 221.7h0.8M167.1 219.9h0.8M163.8 219.1h0.8M160.6 221.2h0.8M161.1 223.3h0.8M158.3 219.1h0.8M158.1 226.9h0.8M156.8 219.8h0.8M164.3 223.4h0.8M161.8 218.1h0.8M160.7 217.2h0.8M159.7 220.7h0.8M161.6 221.9h0.8M164.9 223.3h0.8M162.3 217.8h0.8M159.8 217.7h0.8M158.1 220.6h0.8M162.2 216.6h0.8M154.3 221.0h0.8M156.6 222.2h0.8M157.7 218.2h0.8M157.5 220.8h0.8M162.5 220.7h0.8M163.8 216.9h0.8M162.3 219.1h0.8M156.3 220.9h0.8M166.4 215.4h0.8M166.4 218.7h0.8M164.9 216.4h0.8M162.6 217.6h0.8M155.4 219.8h0.8" stroke="#000" stroke-width="0.8" stroke-opacity="0.6" fill="none"/>
</g>
<text x="133.0" y="228.5" font-size="9.9" text-anchor="start" fill="#000" stroke="#000" stroke-width="0.16">32.4</text>
<rect x="132.7" y="239.4" width="14.800000000000011" height="10.400000000000006" fill="#fff"/>
<text x="132.79999999999998" y="248.3" font-size="9.9" text-anchor="start" fill="#000" stroke="#000" stroke-width="0.16">8.8</text>
<ellipse cx="160.2" cy="221.2" rx="8.3" ry="6.6" transform="rotate(-25 160.2 221.2)" fill="none" stroke="#222" stroke-width="0.8"/>
<ellipse cx="159.5" cy="245.6" rx="7.4" ry="11.2" transform="rotate(0 159.5 245.6)" fill="none" stroke="#222" stroke-width="0.8"/>
<clipPath id="c12"><rect x="184.4" y="205.8" width="54.19999999999999" height="52.69999999999999"/></clipPath>
<g clip-path="url(#c12)">
<rect x="182.4" y="239.70000000000002" width="10.599999999999994" height="17.599999999999994" fill="#000" fill-opacity="0.85" filter="url(#b1)"/>
<ellipse cx="188.25" cy="253.85" rx="5.25" ry="4.849999999999994" transform="rotate(0 188.25 253.85)" fill="#000" fill-opacity="0.6" filter="url(#b1h)"/>
<ellipse cx="192.8" cy="253.95000000000002" rx="6.3" ry="4.249999999999995" transform="rotate(0 192.8 253.95000000000002)" fill="#000" fill-opacity="0.27" filter="url(#b2)"/>
<ellipse cx="196.9" cy="236.2" rx="6" ry="2.8" transform="rotate(-25 196.9 236.2)" fill="#000" fill-opacity="0.75" filter="url(#b2)"/>
<ellipse cx="191.65" cy="237.7" rx="9.25" ry="5.3" transform="rotate(-25 191.65 237.7)" fill="#000" fill-opacity="0.22" filter="url(#b3)"/>
<ellipse cx="216.3" cy="219.5" rx="5.2" ry="3.2" transform="rotate(-38 216.3 219.5)" fill="#000" fill-opacity="1.0" filter="url(#b1)"/>
<ellipse cx="216.9" cy="219.1" rx="3.9000000000000004" ry="3.04" transform="rotate(-38 216.9 219.1)" fill="#000" fill-opacity="1.0" filter="url(#b1)"/>
<ellipse cx="216.0" cy="243.1" rx="1.3" ry="5.2" transform="rotate(0 216.0 243.1)" fill="#000" fill-opacity="0.65" filter="url(#b1)"/>
<ellipse cx="216.0" cy="243.1" rx="3.4" ry="7.2" transform="rotate(0 216.0 243.1)" fill="#000" fill-opacity="0.325" filter="url(#b2)"/>
<path d="M209.5 248.4h0.8M220.0 221.8h0.8M191.3 236.4h0.8M194.6 245.6h0.8M216.0 217.4h0.8M225.7 256.8h0.8M209.9 256.9h0.8M208.3 206.7h0.8M209.0 224.4h0.8M233.2 233.3h0.8M235.5 214.4h0.8M204.8 206.6h0.8M187.1 243.3h0.8M186.2 217.5h0.8M207.5 254.3h0.8M197.0 206.0h0.8M221.7 242.5h0.8M191.8 254.7h0.8M201.5 250.8h0.8M195.9 251.8h0.8M191.9 252.9h0.8M189.6 252.5h0.8M190.3 254.8h0.8M201.7 255.1h0.8M192.9 253.4h0.8M191.6 253.6h0.8M189.5 253.4h0.8M197.6 253.3h0.8M188.5 253.5h0.8M193.4 253.5h0.8M191.5 254.7h0.8M192.7 252.1h0.8M196.0 252.6h0.8M197.1 254.9h0.8M195.6 254.1h0.8M185.6 253.4h0.8M193.6 254.6h0.8M186.8 253.4h0.8M184.5 253.9h0.8M193.3 253.8h0.8M202.0 254.8h0.8M191.9 252.8h0.8M190.5 254.9h0.8M197.9 252.9h0.8M192.3 253.0h0.8M196.7 253.9h0.8M189.0 252.3h0.8M200.0 251.5h0.8M204.0 252.8h0.8M197.6 254.5h0.8M197.5 255.4h0.8M190.3 253.6h0.8M198.3 254.5h0.8M188.8 252.5h0.8M185.0 254.1h0.8M190.0 251.3h0.8M189.8 254.1h0.8M193.9 253.3h0.8M193.8 254.7h0.8M186.3 252.4h0.8M198.3 254.8h0.8M185.2 252.5h0.8M200.9 254.8h0.8M192.1 255.2h0.8M200.4 255.8h0.8M185.2 251.7h0.8M190.1 253.6h0.8M191.0 254.0h0.8M184.7 241.5h0.8M203.9 225.7h0.8M193.7 234.3h0.8M198.0 225.7h0.8M201.2 232.5h0.8M188.0 227.7h0.8M201.3 234.4h0.8M199.2 225.5h0.8M197.9 239.8h0.8M187.0 240.1h0.8M192.5 228.3h0.8M184.7 244.2h0.8M194.5 240.5h0.8M198.7 237.4h0.8M190.0 237.5h0.8M191.3 240.2h0.8M189.4 241.8h0.8M208.5 224.3h0.8M192.8 238.0h0.8M214.1 233.0h0.8M192.2 227.9h0.8M201.8 229.6h0.8M196.4 236.0h0.8M204.3 234.0h0.8M200.6 234.3h0.8M201.9 230.7h0.8M194.6 236.5h0.8M195.1 235.9h0.8M198.9 233.3h0.8M202.8 228.8h0.8M199.2 234.6h0.8M192.5 232.1h0.8M188.6 241.3h0.8M186.3 239.5h0.8M195.3 235.5h0.8M211.8 219.7h0.8M203.7 230.9h0.8M189.9 233.5h0.8M194.3 235.2h0.8M186.6 245.2h0.8M185.9 237.4h0.8M199.1 238.1h0.8M203.3 229.4h0.8M210.4 228.6h0.8M212.5 236.1h0.8M188.0 232.4h0.8M201.6 238.8h0.8M199.6 238.0h0.8M201.3 236.4h0.8M207.2 228.9h0.8M193.1 238.6h0.8M200.8 228.6h0.8M191.7 242.0h0.8M206.0 232.3h0.8M195.5 222.3h0.8M200.2 234.6h0.8M198.4 233.0h0.8M203.3 235.7h0.8M194.0 234.0h0.8M188.3 238.6h0.8M210.9 232.4h0.8M186.3 240.5h0.8M197.0 233.0h0.8M193.9 229.9h0.8M185.5 237.4h0.8M201.6 230.9h0.8M192.5 237.1h0.8M207.3 224.6h0.8M199.6 233.9h0.8M193.4 236.4h0.8M189.5 231.1h0.8M202.4 231.5h0.8M191.3 239.5h0.8M203.6 235.5h0.8M214.2 225.7h0.8M190.3 233.4h0.8M191.7 241.3h0.8M202.3 238.2h0.8M203.4 235.1h0.8M206.7 232.5h0.8M211.4 233.8h0.8M213.0 229.1h0.8M189.3 248.1h0.8M191.6 238.3h0.8M188.8 233.8h0.8M196.7 229.1h0.8M194.2 241.4h0.8M196.2 238.0h0.8M201.0 234.3h0.8M195.8 237.2h0.8M184.5 241.2h0.8M185.7 232.1h0.8M200.0 235.9h0.8M217.0 227.5h0.8M200.5 229.4h0.8M199.5 227.9h0.8M212.9 223.9h0.8M190.6 239.7h0.8M204.2 232.1h0.8M202.7 229.6h0.8M196.8 224.3h0.8M208.5 226.8h0.8M184.8 238.5h0.8M210.4 225.9h0.8M193.0 233.8h0.8M200.9 235.8h0.8M186.2 238.9h0.8M198.9 235.0h0.8M192.1 236.0h0.8M195.1 229.9h0.8M193.4 238.9h0.8M189.8 242.5h0.8M189.6 231.7h0.8M188.7 230.9h0.8M197.8 226.5h0.8M193.5 234.2h0.8M191.1 238.0h0.8M195.9 231.9h0.8M201.6 230.3h0.8M205.0 237.1h0.8M192.9 235.9h0.8M186.1 233.5h0.8M185.5 228.7h0.8M194.2 212.1h0.8M188.3 224.7h0.8M187.7 230.0h0.8M193.9 222.2h0.8M189.0 217.6h0.8M188.6 216.0h0.8M185.5 232.9h0.8M194.9 224.4h0.8M192.8 224.7h0.8M195.6 241.3h0.8M188.9 226.7h0.8M197.6 240.2h0.8M191.4 234.0h0.8M185.1 227.8h0.8M190.3 228.8h0.8M192.6 219.5h0.8M187.3 243.9h0.8M184.6 230.2h0.8M194.3 233.0h0.8M191.6 219.2h0.8M189.6 219.5h0.8M199.2 232.2h0.8M194.3 231.1h0.8M189.9 237.6h0.8M194.9 234.0h0.8M193.7 234.7h0.8M190.3 232.6h0.8M191.7 228.2h0.8M194.0 243.9h0.8M189.7 237.7h0.8M187.4 228.6h0.8M195.4 229.3h0.8M192.8 221.8h0.8M186.9 240.8h0.8M192.0 229.2h0.8M186.0 223.0h0.8M187.3 229.5h0.8M210.8 227.1h0.8M207.3 226.4h0.8M205.4 226.8h0.8M208.0 226.3h0.8M210.2 225.2h0.8M211.3 224.0h0.8M209.6 226.5h0.8M210.6 224.2h0.8M213.0 221.9h0.8M214.7 223.3h0.8M208.6 221.9h0.8M212.4 222.1h0.8M209.6 224.0h0.8M212.3 223.7h0.8M204.0 225.4h0.8M210.4 223.8h0.8M211.8 223.8h0.8M213.2 221.0h0.8M213.0 222.9h0.8M210.6 224.6h0.8M208.9 225.4h0.8M209.2 225.2h0.8M208.0 226.6h0.8M204.8 225.0h0.8M209.3 224.4h0.8M206.9 224.4h0.8M210.7 225.1h0.8M212.5 221.7h0.8M215.9 241.7h0.8M212.4 241.1h0.8M218.7 237.0h0.8M222.8 247.5h0.8M220.1 243.9h0.8M210.6 245.1h0.8M219.8 240.5h0.8M219.0 246.6h0.8M217.9 246.5h0.8M217.4 246.1h0.8M218.8 245.0h0.8M217.5 245.1h0.8M216.3 239.2h0.8M211.8 238.5h0.8M213.1 236.4h0.8M217.6 241.6h0.8M219.0 257.3h0.8M217.8 241.0h0.8M216.9 242.2h0.8M216.7 252.6h0.8M219.8 248.9h0.8M216.7 251.2h0.8M218.0 247.2h0.8M213.3 240.3h0.8M216.4 242.1h0.8M214.8 234.0h0.8M214.3 242.6h0.8M216.7 238.2h0.8M215.7 251.3h0.8M216.4 234.2h0.8M215.6 243.1h0.8M219.0 244.0h0.8M219.3 244.6h0.8M218.8 249.3h0.8M219.6 244.0h0.8M213.1 244.0h0.8M217.1 239.9h0.8M218.0 242.4h0.8M217.9 244.0h0.8M213.8 247.9h0.8M220.8 247.3h0.8M216.7 235.3h0.8M216.8 243.0h0.8M214.2 234.4h0.8M217.1 247.6h0.8M217.7 253.5h0.8M211.6 244.7h0.8M216.0 249.6h0.8M215.9 238.7h0.8M215.9 245.1h0.8M214.3 239.5h0.8M216.7 247.1h0.8M215.5 245.3h0.8M214.8 241.6h0.8M216.5 247.5h0.8M219.8 242.6h0.8M217.1 252.1h0.8M218.0 241.5h0.8M217.0 236.6h0.8M211.1 239.6h0.8M214.3 237.0h0.8M218.4 241.1h0.8M216.2 243.5h0.8M215.5 237.8h0.8M220.6 234.1h0.8M216.0 246.3h0.8M215.6 242.7h0.8M216.8 244.2h0.8M215.2 248.1h0.8M217.2 250.0h0.8M216.3 234.0h0.8M212.1 240.8h0.8M217.1 235.7h0.8M214.7 248.8h0.8M216.8 239.9h0.8M215.8 243.7h0.8M215.0 241.7h0.8M214.5 244.1h0.8M219.8 249.8h0.8M213.1 253.7h0.8M215.8 236.7h0.8M212.5 243.8h0.8M216.6 240.2h0.8M214.2 242.1h0.8M216.6 246.2h0.8M217.3 232.3h0.8M214.6 244.3h0.8M216.9 246.8h0.8M212.6 250.3h0.8M213.2 242.2h0.8M214.9 241.0h0.8M214.2 246.9h0.8M217.9 244.7h0.8M213.1 240.3h0.8M215.9 245.0h0.8M214.7 241.9h0.8M222.2 243.4h0.8M215.3 231.9h0.8M214.3 250.6h0.8M218.0 237.7h0.8M217.9 243.9h0.8M214.2 246.8h0.8M214.6 241.7h0.8M216.1 244.1h0.8M215.0 244.5h0.8M216.0 244.0h0.8M216.9 240.2h0.8M212.9 242.8h0.8M218.9 244.6h0.8M216.6 239.7h0.8M213.4 237.4h0.8M213.9 241.4h0.8M212.4 242.6h0.8M212.4 246.1h0.8M216.0 235.1h0.8M214.8 244.2h0.8M216.9 246.7h0.8M215.2 242.5h0.8M215.5 245.6h0.8M214.4 242.4h0.8" stroke="#000" stroke-width="0.8" stroke-opacity="0.36" fill="none"/>
<path d="M204.3 235.3h0.8M201.2 234.2h0.8M204.5 233.8h0.8M198.0 235.6h0.8M191.1 244.0h0.8M197.7 238.0h0.8M206.5 231.3h0.8M192.9 240.5h0.8M197.2 233.9h0.8M201.1 234.3h0.8M190.6 233.1h0.8M193.1 238.9h0.8M193.4 240.1h0.8M206.7 232.4h0.8M197.9 235.6h0.8M200.7 234.5h0.8M202.7 236.8h0.8M199.8 232.6h0.8M199.6 234.3h0.8M199.2 237.4h0.8M194.3 237.9h0.8M202.5 231.6h0.8M196.8 238.0h0.8M196.9 238.6h0.8M191.3 235.3h0.8M198.5 235.1h0.8M199.2 237.4h0.8M201.2 233.4h0.8M193.6 233.2h0.8M193.0 238.6h0.8M196.6 232.9h0.8M200.3 234.5h0.8M201.4 233.3h0.8M200.1 232.1h0.8M188.3 238.3h0.8M200.4 235.6h0.8M189.0 240.2h0.8M201.4 238.1h0.8M200.8 235.6h0.8M190.5 240.1h0.8M188.3 239.5h0.8M194.5 235.0h0.8M192.5 237.9h0.8M198.9 233.8h0.8M198.9 236.9h0.8M198.6 239.9h0.8M195.0 235.4h0.8M189.8 242.0h0.8M199.7 234.5h0.8M198.2 235.3h0.8M200.7 234.4h0.8M197.9 235.6h0.8M191.2 233.7h0.8M198.2 232.7h0.8M199.3 236.6h0.8M204.4 231.0h0.8M198.5 237.7h0.8M193.6 236.4h0.8M200.8 239.2h0.8M202.5 235.8h0.8M215.1 218.6h0.8M214.4 221.3h0.8M217.8 214.1h0.8M213.7 225.0h0.8M211.4 222.1h0.8M219.4 222.7h0.8M205.8 218.8h0.8M217.7 221.7h0.8M215.5 217.6h0.8M213.8 215.1h0.8M221.0 220.4h0.8M216.9 221.5h0.8M215.3 224.8h0.8M213.2 219.5h0.8M211.4 217.9h0.8M221.3 221.7h0.8M211.7 222.5h0.8M216.8 217.4h0.8M212.1 223.8h0.8M219.5 217.3h0.8M212.6 221.5h0.8M210.4 224.0h0.8M221.6 218.7h0.8M216.7 220.5h0.8M214.9 221.0h0.8M214.7 221.2h0.8M215.0 221.1h0.8M218.4 217.8h0.8M213.1 223.5h0.8M214.8 219.1h0.8M216.8 216.6h0.8M220.0 218.4h0.8M213.2 219.8h0.8M214.6 218.1h0.8M215.8 213.0h0.8M216.2 218.5h0.8M213.9 223.3h0.8M215.5 221.5h0.8M214.6 220.0h0.8M219.3 220.1h0.8M219.3 217.1h0.8M220.3 215.3h0.8M209.4 219.2h0.8M210.6 221.3h0.8M211.4 224.3h0.8M216.3 219.4h0.8M216.9 218.7h0.8M215.1 219.5h0.8M214.7 217.3h0.8M222.5 219.4h0.8" stroke="#000" stroke-width="0.8" stroke-opacity="0.6" fill="none"/>
</g>
<text x="190.4" y="228.1" font-size="9.9" text-anchor="start" fill="#000" stroke="#000" stroke-width="0.16">39.7</text>
<rect x="191.0" y="239.4" width="13.400000000000006" height="9.400000000000006" fill="#fff"/>
<text x="191.1" y="247.3" font-size="9.9" text-anchor="start" fill="#000" stroke="#000" stroke-width="0.16">8.9</text>
<ellipse cx="216.3" cy="220.6" rx="8.2" ry="6.6" transform="rotate(-30 216.3 220.6)" fill="none" stroke="#222" stroke-width="0.8"/>
<ellipse cx="216.0" cy="243.1" rx="7.5" ry="11.2" transform="rotate(0 216.0 243.1)" fill="none" stroke="#222" stroke-width="0.8"/>
<path d="M72.8 154.2H239.1M72.8 258.5H239.1M73.3 154.2V258.5M238.6 154.2V258.5" stroke="#222" stroke-width="1" fill="none"/>
<path d="M73.3 205.8H238.6" stroke="#222" stroke-width="1.7" fill="none"/>
<path d="M129.0 154.2V258.5M184.4 154.2V258.5" stroke="#333" stroke-width="2.2" fill="none"/>
<path d="M74.1 154.2V258.5" stroke="#444" stroke-width="1.2" stroke-dasharray="1 1.2" fill="none"/>
<path d="M73.3 205.8H238.6" stroke="#fff" stroke-width="0.5" stroke-dasharray="1.2 3.1" fill="none"/>
<path d="M73.3 257.3H238.6" stroke="#333" stroke-width="1" stroke-dasharray="0.8 3.4" fill="none"/>
<text transform="translate(256.8 207.8) rotate(-90)" font-size="9.9" text-anchor="middle" fill="#0a0a0a" stroke="#0a0a0a" stroke-width="0.16">donor cell recovery</text>
<text transform="translate(268.8 205.4) rotate(-90)" font-size="9.9" text-anchor="middle" fill="#0a0a0a" stroke="#0a0a0a" stroke-width="0.16">(x10<tspan font-size="6" dy="-3">6</tspan><tspan dy="3">)</tspan></text>
<path d="M286.3 171.3V244.6H396.3" stroke="#000" stroke-width="2" fill="none"/>
<path d="M284.6 172V244" stroke="#000" stroke-width="1.2" stroke-dasharray="0.7 1.7" fill="none"/>
<text x="285" y="185.4" font-size="8.6" text-anchor="end" fill="#0a0a0a" stroke="#0a0a0a" stroke-width="0.16">10</text>
<text x="283" y="216.6" font-size="8.6" text-anchor="end" fill="#0a0a0a" stroke="#0a0a0a" stroke-width="0.16">1</text>
<text x="283.8" y="248.6" font-size="8.6" text-anchor="end" fill="#0a0a0a" stroke="#0a0a0a" stroke-width="0.16">0.1</text>
<text x="294.4" y="238" font-size="9.6" text-anchor="start" fill="#0a0a0a" stroke="#0a0a0a" stroke-width="0.16">CD4</text>
<text x="306.3" y="255" font-size="8" text-anchor="middle" fill="#0a0a0a" stroke="#0a0a0a" stroke-width="0.16">SPL</text>
<text x="341.3" y="255" font-size="8" text-anchor="middle" fill="#0a0a0a" stroke="#0a0a0a" stroke-width="0.16">LN</text>
<text x="377.5" y="255" font-size="8" text-anchor="middle" fill="#0a0a0a" stroke="#0a0a0a" stroke-width="0.16">mLN</text>
<path d="M290 194.5H301.3" stroke="#000" stroke-width="1.3" fill="none"/>
<rect x="294.2" y="190.5" width="2.6" height="2.6" fill="#000"/>
<rect x="294.2" y="195.89999999999998" width="2.6" height="2.6" fill="#000"/>
<path d="M303.8 187.5H316.3" stroke="#000" stroke-width="1.1" fill="none"/>
<rect x="307.9" y="177.70000000000002" width="3.2" height="3.2" fill="#fff" stroke="#000" stroke-width="1.0"/>
<rect x="307.9" y="193.6" width="3.2" height="3.2" fill="#fff" stroke="#000" stroke-width="1.0"/>
<rect x="312.79999999999995" y="192.0" width="3.2" height="3.2" fill="#fff" stroke="#000" stroke-width="1.0"/>
<path d="M326.3 207H338.3" stroke="#000" stroke-width="1.3" fill="none"/>
<path d="M330.6 207.07999999999998h3.8l-1.9 3.42z" fill="#000"/>
<path d="M335.1 203.64h2.4l-1.2 2.16z" fill="#000"/>
<path d="M344.5 205.6H357" stroke="#000" stroke-width="1.3" fill="none"/>
<path d="M344.7 201.23999999999998h3.4l-1.7 3.06z" fill="#fff" stroke="#000" stroke-width="0.9"/>
<path d="M348.5 201.23999999999998h3.4l-1.7 3.06z" fill="#fff" stroke="#000" stroke-width="0.9"/>
<path d="M348.1 207.28h3.8l-1.9 3.42z" fill="#fff" stroke="#000" stroke-width="0.9"/>
<path d="M362.5 205.6H375" stroke="#000" stroke-width="1.3" fill="none"/>
<path d="M367.5 205.56h2.6l-1.3 2.3400000000000003z" fill="#000"/>
<path d="M372.0 205.44h2.6l-1.3 -2.3400000000000003z" fill="#000"/>
<path d="M380.8 199.5H392.5" stroke="#000" stroke-width="1.3" fill="none"/>
<circle cx="387" cy="197" r="1.6" fill="#fff" stroke="#000" stroke-width="1.0"/>
<circle cx="391.3" cy="199.5" r="1.6" fill="#fff" stroke="#000" stroke-width="1.0"/>
<circle cx="387" cy="202.5" r="1.6" fill="#fff" stroke="#000" stroke-width="1.0"/>
<path d="M411.8 171.3V243.8H520" stroke="#000" stroke-width="2" fill="none"/>
<path d="M410 172V243" stroke="#000" stroke-width="1.2" stroke-dasharray="0.7 1.7" fill="none"/>
<text x="409.6" y="176" font-size="8.6" text-anchor="end" fill="#0a0a0a" stroke="#0a0a0a" stroke-width="0.16">10</text>
<text x="408" y="210.4" font-size="8.6" text-anchor="end" fill="#0a0a0a" stroke="#0a0a0a" stroke-width="0.16">1</text>
<text x="409.6" y="248.6" font-size="8.6" text-anchor="end" fill="#0a0a0a" stroke="#0a0a0a" stroke-width="0.16">0.1</text>
<text x="416.3" y="238" font-size="9.6" text-anchor="start" fill="#0a0a0a" stroke="#0a0a0a" stroke-width="0.16">CD8</text>
<text x="428.8" y="253.8" font-size="8" text-anchor="middle" fill="#0a0a0a" stroke="#0a0a0a" stroke-width="0.16">SPL</text>
<text x="463.8" y="253.8" font-size="8" text-anchor="middle" fill="#0a0a0a" stroke="#0a0a0a" stroke-width="0.16">LN</text>
<text x="500.4" y="253.8" font-size="8" text-anchor="middle" fill="#0a0a0a" stroke="#0a0a0a" stroke-width="0.16">mLN</text>
<path d="M414.5 206.8H426.3" stroke="#000" stroke-width="1.3" fill="none"/>
<rect x="419.4" y="206.3" width="2.2" height="2.2" fill="#000"/>
<rect x="423.9" y="204.5" width="2.2" height="2.2" fill="#000"/>
<path d="M432.6 195.6H445.6" stroke="#000" stroke-width="1.1" fill="none"/>
<rect x="437.59999999999997" y="188.6" width="3.2" height="3.2" fill="#fff" stroke="#000" stroke-width="1.0"/>
<rect x="437.59999999999997" y="196.8" width="3.2" height="3.2" fill="#fff" stroke="#000" stroke-width="1.0"/>
<rect x="437.59999999999997" y="201.4" width="3.2" height="3.2" fill="#fff" stroke="#000" stroke-width="1.0"/>
<path d="M450.5 224.2H463" stroke="#000" stroke-width="1.3" fill="none"/>
<path d="M455.1 219.4h3.0l-1.5 2.7z" fill="#000"/>
<path d="M455.0 226.12h3.2l-1.6 2.8800000000000003z" fill="#000"/>
<path d="M468.8 219.3H481.3" stroke="#000" stroke-width="1.3" fill="none"/>
<path d="M468.59999999999997 215.72h3.2l-1.6 2.8800000000000003z" fill="#fff" stroke="#000" stroke-width="0.9"/>
<path d="M473.2 215.72h3.2l-1.6 2.8800000000000003z" fill="#fff" stroke="#000" stroke-width="0.9"/>
<path d="M472.7 221.56h3.6l-1.8 3.24z" fill="#000"/>
<path d="M486.3 223.3H498.8" stroke="#000" stroke-width="1.3" fill="none"/>
<circle cx="492.5" cy="218.8" r="1.4" fill="#000"/>
<circle cx="492.5" cy="228.8" r="1.5" fill="#000"/>
<path d="M504.5 216.3H517.5" stroke="#000" stroke-width="1.3" fill="none"/>
<circle cx="510.8" cy="212" r="1.6" fill="#fff" stroke="#000" stroke-width="1.0"/>
<circle cx="510" cy="218.8" r="1.6" fill="#fff" stroke="#000" stroke-width="1.0"/>
<circle cx="515" cy="217.5" r="1.6" fill="#fff" stroke="#000" stroke-width="1.0"/>
<text x="15" y="290.3" font-size="11.2" text-anchor="start" font-weight="bold" fill="#000" stroke="#000" stroke-width="0.16">C</text>
<text transform="translate(43.6 320) rotate(-90)" font-size="9.5" text-anchor="middle" fill="#0a0a0a" stroke="#0a0a0a" stroke-width="0.16">γδ T cell recovery</text>
<text transform="translate(57.6 318) rotate(-90)" font-size="9.9" text-anchor="middle" fill="#0a0a0a" stroke="#0a0a0a" stroke-width="0.16">(x106)</text>
<path d="M78.8 283.8V356.3H186.3" stroke="#000" stroke-width="1.8" fill="none"/>
<path d="M77.2 285V356" stroke="#000" stroke-width="1.1" stroke-dasharray="0.7 1.7" fill="none"/>
<text x="74.6" y="289.4" font-size="8.6" text-anchor="end" fill="#0a0a0a" stroke="#0a0a0a" stroke-width="0.16">10</text>
<text x="74.4" y="324.4" font-size="8.6" text-anchor="end" fill="#0a0a0a" stroke="#0a0a0a" stroke-width="0.16">1</text>
<text x="76.2" y="361.8" font-size="8.6" text-anchor="end" fill="#0a0a0a" stroke="#0a0a0a" stroke-width="0.16">0.1</text>
<text x="98.8" y="365.6" font-size="8" text-anchor="middle" fill="#0a0a0a" stroke="#0a0a0a" stroke-width="0.16">SPL</text>
<text x="134.8" y="365.6" font-size="8" text-anchor="middle" fill="#0a0a0a" stroke="#0a0a0a" stroke-width="0.16">LN</text>
<text x="171.3" y="365.6" font-size="8" text-anchor="middle" fill="#0a0a0a" stroke="#0a0a0a" stroke-width="0.16">mLN</text>
<path d="M80.5 305H93.8" stroke="#000" stroke-width="1.3" fill="none"/>
<rect x="85.7" y="304.7" width="2.2" height="2.2" fill="#000"/>
<path d="M90.0 305.04h2.6l-1.3 -2.3400000000000003z" fill="#000"/>
<path d="M98.8 296.3H111.8" stroke="#000" stroke-width="1.1" fill="none"/>
<rect x="103.4" y="284.2" width="3.2" height="3.2" fill="#fff" stroke="#000" stroke-width="1.0"/>
<rect x="103.4" y="304.7" width="3.2" height="3.2" fill="#fff" stroke="#000" stroke-width="1.0"/>
<rect x="108.4" y="304.7" width="3.2" height="3.2" fill="#fff" stroke="#000" stroke-width="1.0"/>
<path d="M122 300.8H142.5" stroke="#000" stroke-width="1.1" fill="none"/>
<text x="132.5" y="302.6" font-size="10" text-anchor="middle" fill="#000" stroke="#000" stroke-width="0.16">*</text>
<path d="M157.5 300.8H177.5" stroke="#000" stroke-width="1.1" fill="none"/>
<text x="167.5" y="302.6" font-size="10" text-anchor="middle" fill="#000" stroke="#000" stroke-width="0.16">*</text>
<path d="M117 325.8H129.5" stroke="#000" stroke-width="1.3" fill="none"/>
<path d="M121.8 325.44h2.4l-1.2 2.16z" fill="#000"/>
<path d="M126.39999999999999 325.76h2.4l-1.2 -2.16z" fill="#000"/>
<path d="M135 313.8H147" stroke="#000" stroke-width="1.3" fill="none"/>
<path d="M139.10000000000002 309.84h3.4l-1.7 3.06z" fill="#fff" stroke="#000" stroke-width="0.9"/>
<path d="M139.0 314.96h3.6l-1.8 3.24z" fill="#000"/>
<circle cx="145.8" cy="313.8" r="1.5" fill="#000"/>
<path d="M152.5 326.3H165.5" stroke="#000" stroke-width="1.3" fill="none"/>
<path d="M157.60000000000002 326.04h2.4l-1.2 2.16z" fill="#000"/>
<path d="M162.29999999999998 326.24h2.6l-1.3 -2.3400000000000003z" fill="#000"/>
<path d="M170.8 310.5H182.5" stroke="#000" stroke-width="1.3" fill="none"/>
<circle cx="177" cy="307" r="1.6" fill="#fff" stroke="#000" stroke-width="1.0"/>
<circle cx="177" cy="313.8" r="1.6" fill="#fff" stroke="#000" stroke-width="1.0"/>
<circle cx="181.3" cy="310.8" r="1.7" fill="#000"/>
<text x="86.3" y="346.8" font-size="7.5" text-anchor="start" fill="#0a0a0a" stroke="#0a0a0a" stroke-width="0.16">2.7</text>
<text x="100" y="346.8" font-size="7.5" text-anchor="start" fill="#0a0a0a" stroke="#0a0a0a" stroke-width="0.16">4.7</text>
<text x="119.6" y="346.8" font-size="7.5" text-anchor="start" fill="#0a0a0a" stroke="#0a0a0a" stroke-width="0.16">0.7</text>
<text x="135.8" y="346.8" font-size="7.5" text-anchor="start" fill="#0a0a0a" stroke="#0a0a0a" stroke-width="0.16">1.4</text>
<text x="155.2" y="346.8" font-size="7.5" text-anchor="start" fill="#0a0a0a" stroke="#0a0a0a" stroke-width="0.16">0.7</text>
<text x="170.6" y="346.8" font-size="7.5" text-anchor="start" fill="#0a0a0a" stroke="#0a0a0a" stroke-width="0.16">1.9</text>
</svg></body></html>
